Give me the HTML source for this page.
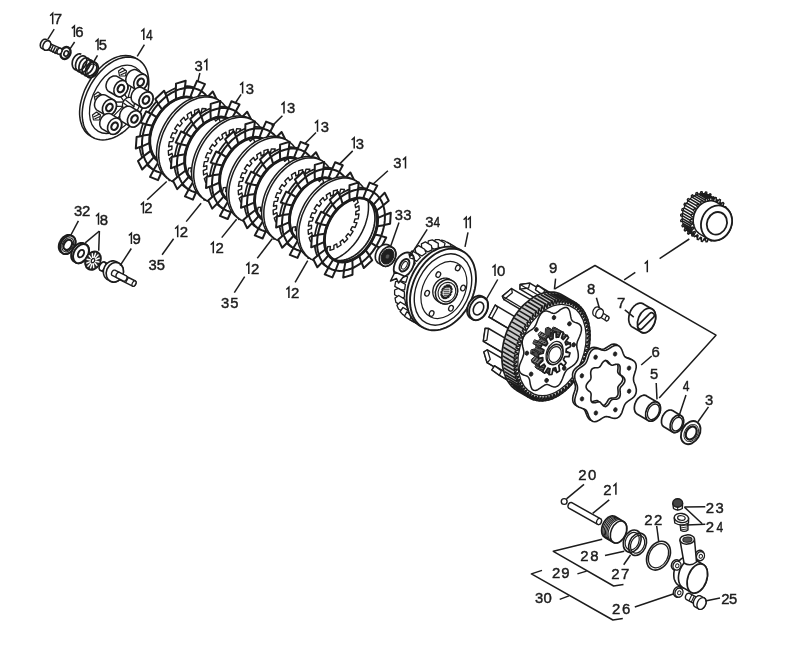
<!DOCTYPE html><html><head><meta charset="utf-8"><style>html,body{margin:0;padding:0;background:#fff;}svg{display:block;filter:grayscale(100%);}</style></head><body><svg width="785" height="670" viewBox="0 0 785 670">
<rect width="785" height="670" fill="#fff"/>
<path d="M202.0,144.6 L203.9,141.1 L205.6,137.5 L207.0,133.8 L208.2,130.0 L209.2,126.3 L209.9,122.6 L210.3,118.9 L210.5,115.4 L210.3,111.9 L209.9,108.5 L209.3,105.3 L208.4,102.3 L207.2,99.5 L205.8,96.9 L204.1,94.5 L202.3,92.5 L200.2,90.7 L197.9,89.1 L195.5,87.9 L192.9,87.0 L190.1,86.4 L187.3,86.2 L184.3,86.3 L181.3,86.7 L178.2,87.4 L175.1,88.4 L172.0,89.7 L168.9,91.4 L165.9,93.3 L163.0,95.5 L160.1,98.0 L157.3,100.7 L154.7,103.6 L152.2,106.7 L149.9,109.9 L147.8,113.3 L145.9,116.9 L144.2,120.5 L142.8,124.2 L141.6,127.9 L140.6,131.6 L140.0,135.3 L139.5,139.0 L139.4,142.6 L139.5,146.1 L139.9,149.4 L140.5,152.6 L141.5,155.7 L142.6,158.5 L144.0,161.1 L145.7,163.4 L147.6,165.5 L149.6,167.3 L151.9,168.8 L154.4,170.0 L157.0,170.9 L159.7,171.5 L162.6,171.8 L165.5,171.7 L168.5,171.3 L171.6,170.6 L174.7,169.5 L177.8,168.2 L180.9,166.6 L183.9,164.6 L186.9,162.4 L189.7,160.0 L192.5,157.3 L195.1,154.4 L197.6,151.3 L199.9,148.0ZM196.1,141.2 L197.6,138.5 L198.9,135.6 L200.1,132.7 L201.0,129.8 L201.7,126.9 L202.3,124.0 L202.6,121.1 L202.7,118.3 L202.6,115.6 L202.3,113.0 L201.8,110.5 L201.1,108.1 L200.2,105.9 L199.1,103.9 L197.8,102.0 L196.3,100.4 L194.7,99.0 L192.9,97.8 L191.0,96.9 L189.0,96.1 L186.8,95.7 L184.6,95.5 L182.3,95.5 L179.9,95.9 L177.5,96.4 L175.1,97.2 L172.7,98.3 L170.2,99.6 L167.9,101.1 L165.6,102.8 L163.3,104.7 L161.2,106.8 L159.1,109.1 L157.2,111.5 L155.4,114.1 L153.7,116.7 L152.2,119.5 L150.9,122.3 L149.8,125.2 L148.8,128.1 L148.1,131.1 L147.6,134.0 L147.2,136.8 L147.1,139.6 L147.2,142.4 L147.5,145.0 L148.0,147.5 L148.7,149.9 L149.6,152.1 L150.8,154.1 L152.0,155.9 L153.5,157.6 L155.1,159.0 L156.9,160.2 L158.8,161.1 L160.9,161.8 L163.0,162.3 L165.3,162.5 L167.6,162.4 L169.9,162.1 L172.3,161.5 L174.8,160.7 L177.2,159.7 L179.6,158.4 L182.0,156.9 L184.3,155.2 L186.5,153.2 L188.7,151.1 L190.7,148.9 L192.7,146.4 L194.5,143.9Z" fill="#fff" stroke="#1c1c1c" stroke-width="1.7" stroke-linejoin="round" fill-rule="evenodd"/><path d="M202.7,146.6 L208.8,149.7 L214.4,138.4 L207.7,136.4Z" fill="#fff" stroke="#1c1c1c" stroke-width="2.0" stroke-linejoin="round" /><path d="M210.7,125.6 L218.4,123.9 L219.2,112.5 L211.4,115.3Z" fill="#fff" stroke="#1c1c1c" stroke-width="2.0" stroke-linejoin="round" /><path d="M209.8,106.0 L217.0,99.9 L212.8,91.5 L206.1,98.4Z" fill="#fff" stroke="#1c1c1c" stroke-width="2.0" stroke-linejoin="round" /><path d="M200.3,92.9 L205.0,84.1 L197.0,80.9 L193.0,90.0Z" fill="#fff" stroke="#1c1c1c" stroke-width="2.0" stroke-linejoin="round" /><path d="M184.6,89.9 L185.7,80.7 L176.0,83.6 L175.8,92.5Z" fill="#fff" stroke="#1c1c1c" stroke-width="2.0" stroke-linejoin="round" /><path d="M167.0,97.7 L164.1,90.7 L155.3,98.9 L159.1,105.2Z" fill="#fff" stroke="#1c1c1c" stroke-width="2.0" stroke-linejoin="round" /><path d="M152.3,114.4 L146.2,111.3 L140.6,122.6 L147.3,124.6Z" fill="#fff" stroke="#1c1c1c" stroke-width="2.0" stroke-linejoin="round" /><path d="M144.3,135.4 L136.6,137.1 L135.8,148.5 L143.6,145.7Z" fill="#fff" stroke="#1c1c1c" stroke-width="2.0" stroke-linejoin="round" /><path d="M145.2,155.0 L138.0,161.1 L142.2,169.5 L148.9,162.6Z" fill="#fff" stroke="#1c1c1c" stroke-width="2.0" stroke-linejoin="round" /><path d="M154.7,168.1 L150.0,176.9 L158.0,180.1 L162.0,171.0Z" fill="#fff" stroke="#1c1c1c" stroke-width="2.0" stroke-linejoin="round" /><path d="M170.4,171.1 L169.3,180.3 L179.0,177.4 L179.2,168.5Z" fill="#fff" stroke="#1c1c1c" stroke-width="2.0" stroke-linejoin="round" /><path d="M188.0,163.3 L190.9,170.3 L199.7,162.1 L195.9,155.8Z" fill="#fff" stroke="#1c1c1c" stroke-width="2.0" stroke-linejoin="round" /><path d="M204.6,146.1 L206.5,142.6 L208.2,139.0 L209.6,135.3 L210.8,131.6 L211.8,127.8 L212.5,124.1 L212.9,120.5 L213.0,116.9 L212.9,113.4 L212.5,110.0 L211.9,106.8 L211.0,103.8 L209.8,101.0 L208.4,98.4 L206.7,96.1 L204.9,94.0 L202.8,92.2 L200.5,90.7 L198.1,89.5 L195.4,88.6 L192.7,88.0 L189.8,87.7 L186.9,87.8 L183.9,88.2 L180.8,88.9 L177.7,89.9 L174.6,91.3 L171.5,92.9 L168.5,94.8 L165.5,97.0 L162.7,99.5 L159.9,102.2 L157.3,105.1 L154.8,108.2 L152.5,111.4 L150.4,114.9 L148.5,118.4 L146.8,122.0 L145.4,125.7 L144.2,129.4 L143.2,133.2 L142.5,136.9 L142.1,140.5 L142.0,144.1 L142.1,147.6 L142.5,151.0 L143.1,154.2 L144.0,157.2 L145.2,160.0 L146.6,162.6 L148.3,164.9 L150.1,167.0 L152.2,168.8 L154.5,170.3 L156.9,171.5 L159.6,172.4 L162.3,173.0 L165.2,173.3 L168.1,173.2 L171.1,172.8 L174.2,172.1 L177.3,171.1 L180.4,169.7 L183.5,168.1 L186.5,166.2 L189.5,164.0 L192.3,161.5 L195.1,158.8 L197.7,155.9 L200.2,152.8 L202.5,149.6ZM198.7,142.7 L200.2,140.0 L201.5,137.1 L202.6,134.3 L203.6,131.3 L204.3,128.4 L204.9,125.5 L205.2,122.6 L205.3,119.8 L205.2,117.1 L204.9,114.5 L204.4,112.0 L203.7,109.6 L202.8,107.4 L201.7,105.4 L200.4,103.6 L198.9,101.9 L197.3,100.5 L195.5,99.3 L193.6,98.4 L191.5,97.7 L189.4,97.2 L187.2,97.0 L184.9,97.1 L182.5,97.4 L180.1,97.9 L177.7,98.7 L175.2,99.8 L172.8,101.1 L170.5,102.6 L168.1,104.3 L165.9,106.2 L163.7,108.3 L161.7,110.6 L159.7,113.0 L157.9,115.6 L156.3,118.3 L154.8,121.0 L153.5,123.9 L152.4,126.7 L151.4,129.7 L150.7,132.6 L150.1,135.5 L149.8,138.4 L149.7,141.2 L149.8,143.9 L150.1,146.5 L150.6,149.0 L151.3,151.4 L152.2,153.6 L153.3,155.6 L154.6,157.4 L156.1,159.1 L157.7,160.5 L159.5,161.7 L161.4,162.6 L163.5,163.3 L165.6,163.8 L167.8,164.0 L170.1,163.9 L172.5,163.6 L174.9,163.1 L177.3,162.3 L179.8,161.2 L182.2,159.9 L184.5,158.4 L186.9,156.7 L189.1,154.8 L191.3,152.7 L193.3,150.4 L195.3,148.0 L197.1,145.4Z" fill="#fff" stroke="#1c1c1c" stroke-width="2.0" stroke-linejoin="round" fill-rule="evenodd"/><path d="M198.1,143.7 L203.9,147.4 M202.3,135.3 L209.1,136.6 M204.7,126.5 L212.2,125.4 M205.3,118.1 L213.0,114.6 M204.0,110.4 L211.3,104.9 M200.9,104.2 L207.3,96.9 M196.1,99.7 L201.3,91.2 M190.2,97.3 L193.7,88.1 M183.3,97.2 L185.0,88.0 M176.1,99.4 L175.7,90.8 M169.0,103.7 L166.6,96.2 M162.4,109.8 L158.2,104.0 M156.9,117.3 L151.1,113.6 M152.7,125.7 L145.9,124.4 M150.3,134.5 L142.8,135.6 M149.7,142.9 L142.0,146.4 M151.0,150.6 L143.7,156.1 M154.1,156.8 L147.7,164.1 M158.9,161.3 L153.7,169.8 M164.8,163.7 L161.3,172.9 M171.7,163.8 L170.0,173.0 M178.9,161.6 L179.3,170.2 M186.0,157.3 L188.4,164.8 M192.6,151.2 L196.8,157.0 " fill="none" stroke="#1c1c1c" stroke-width="2.0" stroke-linejoin="round" /><ellipse cx="177.5" cy="130.5" rx="24.5" ry="36.0" transform="rotate(30 177.5 130.5)" fill="none" stroke="#1c1c1c" stroke-width="2.9" /><path d="M220.3,155.1 L222.2,151.5 L223.9,147.8 L225.4,144.1 L226.6,140.3 L227.6,136.5 L228.3,132.7 L228.7,129.0 L228.8,125.3 L228.7,121.8 L228.3,118.4 L227.7,115.1 L226.7,112.0 L225.5,109.2 L224.1,106.5 L222.4,104.2 L220.5,102.0 L218.4,100.2 L216.1,98.7 L213.6,97.4 L211.0,96.5 L208.2,95.9 L205.3,95.7 L202.3,95.7 L199.2,96.1 L196.1,96.9 L192.9,97.9 L189.8,99.3 L186.6,100.9 L183.5,102.9 L180.5,105.1 L177.6,107.6 L174.8,110.4 L172.1,113.3 L169.6,116.5 L167.3,119.8 L165.1,123.3 L163.2,126.9 L161.5,130.5 L160.0,134.3 L158.8,138.1 L157.8,141.9 L157.1,145.7 L156.7,149.4 L156.5,153.0 L156.7,156.6 L157.1,160.0 L157.7,163.2 L158.7,166.3 L159.8,169.2 L161.3,171.8 L163.0,174.2 L164.9,176.3 L167.0,178.2 L169.3,179.7 L171.8,180.9 L174.4,181.9 L177.2,182.4 L180.1,182.7 L183.1,182.6 L186.2,182.2 L189.3,181.5 L192.5,180.4 L195.6,179.1 L198.8,177.4 L201.9,175.5 L204.9,173.2 L207.8,170.7 L210.6,168.0 L213.3,165.0 L215.8,161.9 L218.1,158.6Z" fill="#fff" stroke="#1c1c1c" stroke-width="1.5" stroke-linejoin="round" /><path d="M222.4,156.4 L224.3,152.8 L226.1,149.1 L227.5,145.3 L228.7,141.5 L229.7,137.7 L230.4,134.0 L230.8,130.2 L231.0,126.6 L230.9,123.0 L230.5,119.6 L229.8,116.4 L228.9,113.3 L227.7,110.4 L226.3,107.8 L224.6,105.4 L222.7,103.3 L220.6,101.5 L218.2,99.9 L215.8,98.7 L213.1,97.8 L210.3,97.2 L207.4,96.9 L204.4,97.0 L201.3,97.4 L198.2,98.1 L195.1,99.2 L191.9,100.5 L188.8,102.2 L185.7,104.2 L182.7,106.4 L179.8,108.9 L177.0,111.6 L174.3,114.6 L171.8,117.7 L169.4,121.1 L167.3,124.5 L165.4,128.1 L163.6,131.8 L162.2,135.6 L161.0,139.4 L160.0,143.2 L159.3,146.9 L158.9,150.7 L158.7,154.3 L158.8,157.9 L159.2,161.3 L159.9,164.5 L160.8,167.6 L162.0,170.5 L163.4,173.1 L165.1,175.5 L167.0,177.6 L169.1,179.4 L171.5,181.0 L173.9,182.2 L176.6,183.1 L179.4,183.7 L182.3,184.0 L185.3,183.9 L188.4,183.5 L191.5,182.8 L194.6,181.7 L197.8,180.4 L200.9,178.7 L204.0,176.7 L207.0,174.5 L209.9,172.0 L212.7,169.3 L215.4,166.3 L217.9,163.2 L220.3,159.8Z" fill="#fff" stroke="#1c1c1c" stroke-width="1.5" stroke-linejoin="round" /><path d="M212.4,150.6 L214.2,147.2 L217.1,148.2 L219.1,143.3 L215.9,142.9 L217.0,139.3 L220.3,139.2 L221.1,134.2 L217.7,135.0 L217.9,131.6 L221.4,130.2 L221.1,125.6 L217.7,127.6 L217.0,124.5 L220.3,122.1 L218.9,118.2 L215.7,121.1 L214.3,118.7 L217.2,115.5 L214.7,112.7 L212.1,116.3 L210.0,114.7 L212.3,110.9 L209.0,109.3 L207.1,113.4 L204.5,112.8 L206.0,108.7 L202.1,108.5 L201.1,112.7 L198.2,113.1 L198.7,109.0 L194.6,110.3 L194.6,114.3 L191.7,115.7 L191.2,111.9 L187.1,114.5 L188.1,117.9 L185.4,120.2 L183.9,117.2 L180.3,120.9 L182.2,123.4 L179.8,126.4 L177.6,124.3 L174.6,128.8 L177.3,130.3 L175.5,133.7 L172.6,132.7 L170.6,137.6 L173.8,138.0 L172.7,141.6 L169.4,141.7 L168.6,146.7 L172.0,145.9 L171.8,149.3 L168.3,150.7 L168.6,155.3 L172.0,153.3 L172.7,156.4 L169.4,158.8 L170.8,162.7 L174.0,159.8 L175.4,162.2 L172.5,165.4 L175.0,168.2 L177.6,164.6 L179.7,166.2 L177.4,170.0 L180.7,171.6 L182.6,167.5 L185.2,168.1 L183.7,172.2 L187.6,172.4 L188.6,168.2 L191.5,167.8 L191.0,171.9 L195.1,170.6 L195.1,166.6 L198.0,165.2 L198.5,169.0 L202.6,166.4 L201.6,163.0 L204.3,160.7 L205.8,163.7 L209.4,160.0 L207.5,157.5 L209.9,154.5 L212.1,156.6 L215.1,152.1Z" fill="none" stroke="#1c1c1c" stroke-width="1.4" stroke-linejoin="round" /><path d="M236.5,164.4 L238.3,160.9 L240.0,157.3 L241.4,153.6 L242.6,149.9 L243.6,146.2 L244.3,142.6 L244.7,138.9 L244.8,135.4 L244.7,131.9 L244.3,128.6 L243.7,125.4 L242.8,122.4 L241.6,119.6 L240.2,117.1 L238.6,114.8 L236.7,112.7 L234.7,110.9 L232.4,109.4 L230.0,108.2 L227.4,107.3 L224.7,106.7 L221.9,106.5 L218.9,106.5 L215.9,106.9 L212.9,107.6 L209.8,108.7 L206.8,110.0 L203.7,111.6 L200.7,113.5 L197.8,115.7 L194.9,118.1 L192.2,120.8 L189.6,123.7 L187.1,126.8 L184.9,130.0 L182.8,133.4 L180.9,136.9 L179.2,140.5 L177.8,144.1 L176.6,147.8 L175.7,151.5 L175.0,155.2 L174.6,158.8 L174.4,162.4 L174.5,165.8 L174.9,169.2 L175.5,172.3 L176.5,175.3 L177.6,178.1 L179.0,180.7 L180.7,183.0 L182.5,185.1 L184.6,186.9 L186.8,188.4 L189.3,189.6 L191.8,190.4 L194.5,191.0 L197.4,191.3 L200.3,191.2 L203.3,190.8 L206.3,190.1 L209.4,189.1 L212.5,187.8 L215.5,186.1 L218.5,184.2 L221.5,182.0 L224.3,179.6 L227.0,176.9 L229.6,174.1 L232.1,171.0 L234.4,167.8ZM230.6,161.0 L232.1,158.3 L233.4,155.5 L234.5,152.6 L235.5,149.7 L236.2,146.8 L236.7,143.9 L237.1,141.1 L237.2,138.3 L237.1,135.6 L236.8,133.0 L236.3,130.5 L235.6,128.2 L234.7,126.0 L233.6,124.0 L232.3,122.2 L230.8,120.6 L229.2,119.2 L227.5,118.0 L225.6,117.0 L223.5,116.3 L221.4,115.9 L219.2,115.7 L216.9,115.7 L214.6,116.1 L212.2,116.6 L209.8,117.4 L207.4,118.5 L205.0,119.7 L202.6,121.2 L200.3,122.9 L198.1,124.8 L196.0,126.9 L193.9,129.2 L192.0,131.6 L190.2,134.1 L188.6,136.7 L187.1,139.5 L185.8,142.3 L184.7,145.2 L183.8,148.0 L183.0,150.9 L182.5,153.8 L182.2,156.7 L182.1,159.4 L182.1,162.1 L182.4,164.7 L183.0,167.2 L183.7,169.6 L184.6,171.8 L185.7,173.8 L186.9,175.6 L188.4,177.2 L190.0,178.6 L191.8,179.8 L193.7,180.7 L195.7,181.4 L197.8,181.9 L200.0,182.1 L202.3,182.0 L204.7,181.7 L207.1,181.1 L209.5,180.3 L211.9,179.3 L214.2,178.0 L216.6,176.5 L218.9,174.8 L221.1,172.9 L223.3,170.8 L225.3,168.6 L227.2,166.2 L229.0,163.7Z" fill="#fff" stroke="#1c1c1c" stroke-width="1.7" stroke-linejoin="round" fill-rule="evenodd"/><path d="M237.2,166.3 L243.3,169.4 L248.7,158.2 L242.2,156.2Z" fill="#fff" stroke="#1c1c1c" stroke-width="2.0" stroke-linejoin="round" /><path d="M245.1,145.6 L252.7,143.8 L253.5,132.6 L245.8,135.4Z" fill="#fff" stroke="#1c1c1c" stroke-width="2.0" stroke-linejoin="round" /><path d="M244.2,126.1 L251.4,120.0 L247.2,111.7 L240.5,118.6Z" fill="#fff" stroke="#1c1c1c" stroke-width="2.0" stroke-linejoin="round" /><path d="M234.8,113.1 L239.5,104.4 L231.5,101.2 L227.6,110.3Z" fill="#fff" stroke="#1c1c1c" stroke-width="2.0" stroke-linejoin="round" /><path d="M219.2,110.1 L220.3,101.0 L210.7,103.9 L210.5,112.7Z" fill="#fff" stroke="#1c1c1c" stroke-width="2.0" stroke-linejoin="round" /><path d="M201.8,117.9 L199.0,110.9 L190.2,119.1 L193.9,125.3Z" fill="#fff" stroke="#1c1c1c" stroke-width="2.0" stroke-linejoin="round" /><path d="M187.2,134.5 L181.1,131.4 L175.7,142.6 L182.2,144.6Z" fill="#fff" stroke="#1c1c1c" stroke-width="2.0" stroke-linejoin="round" /><path d="M179.3,155.2 L171.7,157.0 L170.9,168.2 L178.6,165.4Z" fill="#fff" stroke="#1c1c1c" stroke-width="2.0" stroke-linejoin="round" /><path d="M180.2,174.7 L173.0,180.8 L177.2,189.1 L183.9,182.2Z" fill="#fff" stroke="#1c1c1c" stroke-width="2.0" stroke-linejoin="round" /><path d="M189.6,187.7 L184.9,196.4 L192.9,199.6 L196.8,190.5Z" fill="#fff" stroke="#1c1c1c" stroke-width="2.0" stroke-linejoin="round" /><path d="M205.2,190.7 L204.1,199.8 L213.7,196.9 L213.9,188.1Z" fill="#fff" stroke="#1c1c1c" stroke-width="2.0" stroke-linejoin="round" /><path d="M222.6,182.9 L225.4,189.9 L234.2,181.7 L230.5,175.5Z" fill="#fff" stroke="#1c1c1c" stroke-width="2.0" stroke-linejoin="round" /><path d="M239.0,165.9 L240.9,162.4 L242.6,158.8 L244.0,155.2 L245.2,151.5 L246.2,147.8 L246.8,144.1 L247.3,140.5 L247.4,136.9 L247.3,133.4 L246.9,130.1 L246.3,127.0 L245.4,124.0 L244.2,121.2 L242.8,118.6 L241.2,116.3 L239.3,114.2 L237.2,112.4 L235.0,110.9 L232.6,109.7 L230.0,108.8 L227.3,108.3 L224.4,108.0 L221.5,108.1 L218.5,108.5 L215.5,109.2 L212.4,110.2 L209.3,111.5 L206.3,113.2 L203.3,115.1 L200.3,117.2 L197.5,119.7 L194.8,122.3 L192.2,125.2 L189.7,128.3 L187.4,131.5 L185.4,134.9 L183.5,138.4 L181.8,142.0 L180.4,145.6 L179.2,149.3 L178.2,153.0 L177.6,156.7 L177.1,160.3 L177.0,163.9 L177.1,167.4 L177.5,170.7 L178.1,173.8 L179.0,176.8 L180.2,179.6 L181.6,182.2 L183.2,184.5 L185.1,186.6 L187.2,188.4 L189.4,189.9 L191.8,191.1 L194.4,192.0 L197.1,192.5 L200.0,192.8 L202.9,192.7 L205.9,192.3 L208.9,191.6 L212.0,190.6 L215.1,189.3 L218.1,187.6 L221.1,185.7 L224.1,183.6 L226.9,181.1 L229.6,178.5 L232.2,175.6 L234.7,172.5 L237.0,169.3ZM233.2,162.5 L234.7,159.8 L236.0,157.0 L237.1,154.1 L238.0,151.2 L238.8,148.3 L239.3,145.5 L239.6,142.6 L239.8,139.8 L239.7,137.1 L239.4,134.5 L238.9,132.0 L238.2,129.7 L237.2,127.5 L236.1,125.5 L234.9,123.7 L233.4,122.1 L231.8,120.7 L230.0,119.5 L228.1,118.6 L226.1,117.9 L224.0,117.4 L221.8,117.2 L219.5,117.3 L217.1,117.6 L214.8,118.1 L212.4,118.9 L210.0,120.0 L207.6,121.2 L205.2,122.7 L202.9,124.4 L200.7,126.3 L198.6,128.4 L196.5,130.7 L194.6,133.1 L192.8,135.6 L191.2,138.3 L189.7,141.0 L188.4,143.8 L187.3,146.7 L186.4,149.6 L185.6,152.5 L185.1,155.3 L184.8,158.2 L184.6,161.0 L184.7,163.7 L185.0,166.3 L185.5,168.8 L186.2,171.1 L187.2,173.3 L188.3,175.3 L189.5,177.1 L191.0,178.7 L192.6,180.1 L194.4,181.3 L196.3,182.2 L198.3,182.9 L200.4,183.4 L202.6,183.6 L204.9,183.5 L207.3,183.2 L209.6,182.7 L212.0,181.9 L214.4,180.8 L216.8,179.6 L219.2,178.1 L221.5,176.4 L223.7,174.5 L225.8,172.4 L227.9,170.1 L229.8,167.7 L231.6,165.2Z" fill="#fff" stroke="#1c1c1c" stroke-width="2.0" stroke-linejoin="round" fill-rule="evenodd"/><path d="M232.6,163.5 L238.3,167.1 M236.7,155.1 L243.5,156.5 M239.1,146.5 L246.6,145.4 M239.7,138.1 L247.4,134.7 M238.4,130.5 L245.7,125.0 M235.3,124.3 L241.8,117.1 M230.7,119.9 L235.8,111.4 M224.8,117.5 L228.2,108.4 M218.0,117.4 L219.6,108.3 M210.8,119.6 L210.4,111.0 M203.7,123.8 L201.4,116.4 M197.2,129.9 L193.1,124.2 M191.8,137.3 L186.1,133.7 M187.7,145.7 L180.9,144.3 M185.3,154.3 L177.8,155.4 M184.7,162.7 L177.0,166.1 M186.0,170.3 L178.7,175.8 M189.1,176.5 L182.6,183.7 M193.7,180.9 L188.6,189.4 M199.6,183.3 L196.2,192.4 M206.4,183.4 L204.8,192.5 M213.6,181.2 L214.0,189.8 M220.7,177.0 L223.0,184.4 M227.2,170.9 L231.3,176.6 " fill="none" stroke="#1c1c1c" stroke-width="2.0" stroke-linejoin="round" /><ellipse cx="212.2" cy="150.4" rx="24.3" ry="35.7" transform="rotate(30 212.2 150.4)" fill="none" stroke="#1c1c1c" stroke-width="2.9" /><path d="M254.7,174.8 L256.6,171.3 L258.3,167.6 L259.8,163.9 L261.0,160.2 L262.0,156.4 L262.6,152.7 L263.1,149.0 L263.2,145.3 L263.1,141.8 L262.7,138.4 L262.1,135.2 L261.1,132.2 L260.0,129.3 L258.5,126.7 L256.9,124.4 L255.0,122.3 L252.9,120.4 L250.6,118.9 L248.1,117.7 L245.5,116.8 L242.7,116.2 L239.8,115.9 L236.9,116.0 L233.8,116.4 L230.7,117.1 L227.6,118.2 L224.5,119.5 L221.4,121.2 L218.3,123.1 L215.3,125.3 L212.4,127.8 L209.7,130.5 L207.0,133.5 L204.5,136.6 L202.2,139.9 L200.1,143.3 L198.2,146.9 L196.5,150.5 L195.0,154.2 L193.8,158.0 L192.8,161.8 L192.1,165.5 L191.7,169.2 L191.6,172.8 L191.7,176.3 L192.1,179.7 L192.7,182.9 L193.7,186.0 L194.8,188.8 L196.3,191.4 L197.9,193.8 L199.8,195.9 L201.9,197.7 L204.2,199.2 L206.7,200.5 L209.3,201.4 L212.1,202.0 L214.9,202.2 L217.9,202.1 L221.0,201.7 L224.1,201.0 L227.2,200.0 L230.3,198.6 L233.4,197.0 L236.5,195.0 L239.5,192.8 L242.4,190.3 L245.1,187.6 L247.8,184.7 L250.3,181.6 L252.6,178.3Z" fill="#fff" stroke="#1c1c1c" stroke-width="1.5" stroke-linejoin="round" /><path d="M256.9,176.1 L258.8,172.6 L260.5,168.9 L261.9,165.2 L263.1,161.4 L264.1,157.7 L264.8,153.9 L265.2,150.2 L265.4,146.6 L265.3,143.1 L264.9,139.7 L264.2,136.5 L263.3,133.5 L262.1,130.6 L260.7,128.0 L259.0,125.6 L257.1,123.5 L255.0,121.7 L252.7,120.2 L250.3,119.0 L247.6,118.1 L244.9,117.5 L242.0,117.2 L239.0,117.3 L236.0,117.7 L232.9,118.4 L229.8,119.4 L226.6,120.8 L223.5,122.5 L220.5,124.4 L217.5,126.6 L214.6,129.1 L211.8,131.8 L209.2,134.7 L206.7,137.8 L204.4,141.1 L202.2,144.6 L200.3,148.1 L198.6,151.8 L197.2,155.5 L196.0,159.3 L195.0,163.0 L194.3,166.8 L193.9,170.5 L193.7,174.1 L193.8,177.6 L194.2,181.0 L194.9,184.2 L195.8,187.2 L197.0,190.1 L198.4,192.7 L200.1,195.1 L202.0,197.2 L204.1,199.0 L206.4,200.5 L208.8,201.7 L211.5,202.6 L214.2,203.2 L217.1,203.5 L220.1,203.4 L223.1,203.0 L226.2,202.3 L229.3,201.3 L232.5,199.9 L235.6,198.2 L238.6,196.3 L241.6,194.1 L244.5,191.6 L247.3,188.9 L249.9,186.0 L252.4,182.9 L254.7,179.6Z" fill="#fff" stroke="#1c1c1c" stroke-width="1.5" stroke-linejoin="round" /><path d="M247.0,170.4 L248.7,167.0 L251.6,168.0 L253.6,163.1 L250.4,162.8 L251.5,159.2 L254.7,159.1 L255.6,154.1 L252.2,155.0 L252.4,151.5 L255.8,150.2 L255.5,145.7 L252.1,147.6 L251.5,144.5 L254.8,142.2 L253.4,138.3 L250.3,141.2 L248.8,138.8 L251.7,135.6 L249.2,132.8 L246.7,136.4 L244.6,134.9 L246.9,131.0 L243.5,129.5 L241.7,133.5 L239.1,133.0 L240.6,128.9 L236.7,128.7 L235.8,132.9 L232.9,133.3 L233.4,129.2 L229.3,130.5 L229.3,134.4 L226.4,135.8 L225.9,132.1 L221.9,134.7 L222.9,138.0 L220.1,140.3 L218.7,137.3 L215.1,140.9 L217.0,143.5 L214.7,146.4 L212.4,144.3 L209.5,148.8 L212.1,150.3 L210.4,153.7 L207.5,152.7 L205.5,157.6 L208.7,157.9 L207.6,161.5 L204.4,161.6 L203.5,166.6 L206.9,165.7 L206.7,169.2 L203.3,170.5 L203.6,175.0 L207.0,173.1 L207.6,176.2 L204.3,178.5 L205.7,182.4 L208.8,179.5 L210.3,181.9 L207.4,185.1 L209.9,187.9 L212.4,184.3 L214.5,185.8 L212.2,189.7 L215.6,191.2 L217.4,187.2 L220.0,187.7 L218.5,191.8 L222.4,192.0 L223.3,187.8 L226.2,187.4 L225.7,191.5 L229.8,190.2 L229.8,186.3 L232.7,184.9 L233.2,188.6 L237.2,186.0 L236.2,182.7 L239.0,180.4 L240.4,183.4 L244.0,179.8 L242.1,177.2 L244.4,174.3 L246.7,176.4 L249.6,171.9Z" fill="none" stroke="#1c1c1c" stroke-width="1.4" stroke-linejoin="round" /><path d="M270.9,184.1 L272.8,180.7 L274.4,177.1 L275.9,173.5 L277.0,169.8 L278.0,166.2 L278.6,162.5 L279.1,158.9 L279.2,155.4 L279.1,152.0 L278.7,148.7 L278.1,145.5 L277.2,142.6 L276.0,139.8 L274.6,137.3 L273.0,135.0 L271.2,132.9 L269.1,131.1 L266.9,129.7 L264.5,128.5 L261.9,127.6 L259.2,127.0 L256.4,126.8 L253.5,126.8 L250.6,127.2 L247.6,127.9 L244.5,128.9 L241.5,130.3 L238.5,131.9 L235.5,133.8 L232.6,135.9 L229.8,138.3 L227.0,141.0 L224.5,143.8 L222.0,146.9 L219.8,150.1 L217.7,153.4 L215.8,156.9 L214.2,160.4 L212.8,164.1 L211.6,167.7 L210.7,171.4 L210.0,175.0 L209.6,178.6 L209.4,182.2 L209.5,185.6 L209.9,188.9 L210.6,192.0 L211.5,195.0 L212.6,197.7 L214.0,200.3 L215.6,202.6 L217.5,204.6 L219.5,206.4 L221.7,207.9 L224.1,209.1 L226.7,210.0 L229.4,210.5 L232.2,210.8 L235.1,210.7 L238.1,210.3 L241.1,209.6 L244.1,208.6 L247.2,207.3 L250.2,205.7 L253.2,203.8 L256.1,201.6 L258.9,199.2 L261.6,196.6 L264.2,193.7 L266.6,190.7 L268.8,187.5ZM265.1,180.8 L266.6,178.1 L267.9,175.3 L269.0,172.5 L269.9,169.6 L270.7,166.7 L271.2,163.9 L271.5,161.1 L271.6,158.3 L271.5,155.6 L271.2,153.0 L270.7,150.6 L270.0,148.3 L269.1,146.1 L268.0,144.1 L266.8,142.3 L265.3,140.7 L263.7,139.3 L262.0,138.2 L260.1,137.2 L258.1,136.5 L256.0,136.1 L253.8,135.9 L251.5,135.9 L249.2,136.3 L246.9,136.8 L244.5,137.6 L242.1,138.6 L239.7,139.9 L237.4,141.4 L235.1,143.1 L232.9,144.9 L230.8,147.0 L228.8,149.2 L226.9,151.6 L225.1,154.1 L223.5,156.8 L222.0,159.5 L220.7,162.3 L219.6,165.1 L218.7,168.0 L218.0,170.8 L217.4,173.7 L217.1,176.5 L217.0,179.2 L217.1,181.9 L217.4,184.5 L217.9,187.0 L218.6,189.3 L219.5,191.4 L220.6,193.4 L221.9,195.2 L223.3,196.8 L224.9,198.2 L226.6,199.4 L228.5,200.3 L230.5,201.0 L232.6,201.5 L234.8,201.7 L237.1,201.6 L239.4,201.3 L241.8,200.7 L244.2,200.0 L246.5,198.9 L248.9,197.7 L251.2,196.2 L253.5,194.5 L255.7,192.6 L257.8,190.5 L259.9,188.3 L261.8,185.9 L263.5,183.4Z" fill="#fff" stroke="#1c1c1c" stroke-width="1.7" stroke-linejoin="round" fill-rule="evenodd"/><path d="M271.7,186.1 L277.7,189.1 L283.1,178.0 L276.6,176.1Z" fill="#fff" stroke="#1c1c1c" stroke-width="2.0" stroke-linejoin="round" /><path d="M279.5,165.5 L287.1,163.8 L287.8,152.6 L280.2,155.4Z" fill="#fff" stroke="#1c1c1c" stroke-width="2.0" stroke-linejoin="round" /><path d="M278.6,146.2 L285.7,140.2 L281.6,132.0 L274.9,138.8Z" fill="#fff" stroke="#1c1c1c" stroke-width="2.0" stroke-linejoin="round" /><path d="M269.2,133.4 L273.9,124.7 L266.1,121.6 L262.1,130.6Z" fill="#fff" stroke="#1c1c1c" stroke-width="2.0" stroke-linejoin="round" /><path d="M253.9,130.4 L254.9,121.4 L245.4,124.2 L245.2,133.0Z" fill="#fff" stroke="#1c1c1c" stroke-width="2.0" stroke-linejoin="round" /><path d="M236.6,138.2 L233.8,131.2 L225.1,139.3 L228.8,145.4Z" fill="#fff" stroke="#1c1c1c" stroke-width="2.0" stroke-linejoin="round" /><path d="M222.1,154.5 L216.1,151.5 L210.7,162.6 L217.2,164.5Z" fill="#fff" stroke="#1c1c1c" stroke-width="2.0" stroke-linejoin="round" /><path d="M214.3,175.1 L206.7,176.8 L206.0,188.0 L213.6,185.2Z" fill="#fff" stroke="#1c1c1c" stroke-width="2.0" stroke-linejoin="round" /><path d="M215.2,194.4 L208.1,200.4 L212.2,208.6 L218.9,201.8Z" fill="#fff" stroke="#1c1c1c" stroke-width="2.0" stroke-linejoin="round" /><path d="M224.6,207.2 L219.9,215.9 L227.7,219.0 L231.7,210.0Z" fill="#fff" stroke="#1c1c1c" stroke-width="2.0" stroke-linejoin="round" /><path d="M239.9,210.2 L238.9,219.2 L248.4,216.4 L248.6,207.6Z" fill="#fff" stroke="#1c1c1c" stroke-width="2.0" stroke-linejoin="round" /><path d="M257.2,202.4 L260.0,209.4 L268.7,201.3 L265.0,195.2Z" fill="#fff" stroke="#1c1c1c" stroke-width="2.0" stroke-linejoin="round" /><path d="M273.5,185.7 L275.4,182.2 L277.0,178.6 L278.4,175.0 L279.6,171.4 L280.6,167.7 L281.2,164.0 L281.6,160.4 L281.8,156.9 L281.7,153.5 L281.3,150.2 L280.7,147.1 L279.8,144.1 L278.6,141.3 L277.2,138.8 L275.6,136.5 L273.8,134.4 L271.7,132.7 L269.5,131.2 L267.1,130.0 L264.5,129.1 L261.8,128.5 L259.0,128.3 L256.1,128.4 L253.2,128.7 L250.1,129.4 L247.1,130.5 L244.1,131.8 L241.0,133.4 L238.1,135.3 L235.2,137.4 L232.3,139.8 L229.6,142.5 L227.1,145.3 L224.6,148.4 L222.4,151.6 L220.3,154.9 L218.4,158.4 L216.8,162.0 L215.4,165.6 L214.2,169.2 L213.2,172.9 L212.6,176.6 L212.2,180.2 L212.0,183.7 L212.1,187.1 L212.5,190.4 L213.1,193.5 L214.0,196.5 L215.2,199.3 L216.6,201.8 L218.2,204.1 L220.0,206.2 L222.1,207.9 L224.3,209.4 L226.7,210.6 L229.3,211.5 L232.0,212.1 L234.8,212.3 L237.7,212.2 L240.6,211.9 L243.7,211.2 L246.7,210.1 L249.7,208.8 L252.8,207.2 L255.7,205.3 L258.6,203.2 L261.5,200.8 L264.2,198.1 L266.7,195.3 L269.2,192.2 L271.4,189.0ZM267.7,182.3 L269.2,179.6 L270.5,176.8 L271.6,174.0 L272.5,171.1 L273.2,168.3 L273.8,165.4 L274.1,162.6 L274.2,159.8 L274.1,157.2 L273.8,154.6 L273.3,152.1 L272.6,149.8 L271.7,147.6 L270.6,145.6 L269.4,143.8 L267.9,142.2 L266.3,140.8 L264.6,139.7 L262.7,138.8 L260.7,138.1 L258.6,137.6 L256.4,137.4 L254.1,137.5 L251.8,137.8 L249.4,138.3 L247.1,139.1 L244.7,140.2 L242.3,141.4 L240.0,142.9 L237.7,144.6 L235.5,146.5 L233.4,148.5 L231.4,150.8 L229.5,153.1 L227.7,155.7 L226.1,158.3 L224.6,161.0 L223.3,163.8 L222.2,166.6 L221.3,169.5 L220.6,172.3 L220.0,175.2 L219.7,178.0 L219.6,180.8 L219.7,183.4 L220.0,186.0 L220.5,188.5 L221.2,190.8 L222.1,193.0 L223.2,195.0 L224.4,196.8 L225.9,198.4 L227.5,199.8 L229.2,200.9 L231.1,201.8 L233.1,202.5 L235.2,203.0 L237.4,203.2 L239.7,203.1 L242.0,202.8 L244.4,202.3 L246.7,201.5 L249.1,200.4 L251.5,199.2 L253.8,197.7 L256.1,196.0 L258.3,194.1 L260.4,192.1 L262.4,189.8 L264.3,187.5 L266.1,184.9Z" fill="#fff" stroke="#1c1c1c" stroke-width="2.0" stroke-linejoin="round" fill-rule="evenodd"/><path d="M267.2,183.3 L272.8,186.9 M271.2,175.0 L278.0,176.3 M273.6,166.4 L281.0,165.3 M274.2,158.1 L281.8,154.7 M272.9,150.6 L280.1,145.1 M269.8,144.5 L276.2,137.3 M265.2,140.1 L270.3,131.7 M259.3,137.7 L262.8,128.7 M252.6,137.6 L254.2,128.6 M245.5,139.8 L245.1,131.3 M238.5,144.0 L236.2,136.6 M232.1,150.0 L227.9,144.3 M226.6,157.3 L221.0,153.7 M222.6,165.6 L215.8,164.3 M220.2,174.2 L212.8,175.3 M219.6,182.5 L212.0,185.9 M220.9,190.0 L213.7,195.5 M224.0,196.1 L217.6,203.3 M228.6,200.5 L223.5,208.9 M234.5,202.9 L231.0,211.9 M241.2,203.0 L239.6,212.0 M248.3,200.8 L248.7,209.3 M255.3,196.6 L257.6,204.0 M261.7,190.6 L265.9,196.3 " fill="none" stroke="#1c1c1c" stroke-width="2.0" stroke-linejoin="round" /><ellipse cx="246.9" cy="170.3" rx="24.0" ry="35.4" transform="rotate(30 246.9 170.3)" fill="none" stroke="#1c1c1c" stroke-width="2.9" /><path d="M289.2,194.6 L291.1,191.1 L292.7,187.5 L294.2,183.8 L295.4,180.1 L296.3,176.3 L297.0,172.6 L297.5,168.9 L297.6,165.4 L297.5,161.9 L297.1,158.5 L296.4,155.3 L295.5,152.3 L294.4,149.5 L293.0,146.9 L291.3,144.6 L289.4,142.5 L287.4,140.7 L285.1,139.2 L282.6,138.0 L280.0,137.1 L277.3,136.5 L274.4,136.2 L271.5,136.3 L268.5,136.7 L265.4,137.4 L262.3,138.4 L259.2,139.8 L256.1,141.4 L253.1,143.3 L250.1,145.5 L247.3,148.0 L244.5,150.7 L241.9,153.6 L239.4,156.7 L237.1,159.9 L235.0,163.4 L233.1,166.9 L231.4,170.5 L230.0,174.2 L228.8,177.9 L227.9,181.6 L227.2,185.3 L226.7,189.0 L226.6,192.6 L226.7,196.1 L227.1,199.4 L227.7,202.6 L228.7,205.6 L229.8,208.5 L231.2,211.0 L232.9,213.4 L234.8,215.5 L236.8,217.3 L239.1,218.8 L241.6,220.0 L244.2,220.9 L246.9,221.5 L249.8,221.7 L252.7,221.7 L255.7,221.3 L258.8,220.6 L261.9,219.5 L265.0,218.2 L268.1,216.5 L271.1,214.6 L274.0,212.4 L276.9,210.0 L279.7,207.3 L282.3,204.4 L284.8,201.3 L287.1,198.0Z" fill="#fff" stroke="#1c1c1c" stroke-width="1.5" stroke-linejoin="round" /><path d="M291.3,195.9 L293.2,192.3 L294.9,188.7 L296.3,185.0 L297.5,181.3 L298.5,177.6 L299.2,173.9 L299.6,170.2 L299.8,166.6 L299.6,163.2 L299.3,159.8 L298.6,156.6 L297.7,153.6 L296.5,150.8 L295.1,148.2 L293.5,145.8 L291.6,143.8 L289.5,142.0 L287.2,140.4 L284.8,139.2 L282.2,138.3 L279.4,137.8 L276.6,137.5 L273.6,137.6 L270.6,138.0 L267.6,138.7 L264.5,139.7 L261.4,141.1 L258.3,142.7 L255.3,144.6 L252.3,146.8 L249.4,149.3 L246.7,151.9 L244.1,154.9 L241.6,157.9 L239.3,161.2 L237.2,164.6 L235.3,168.2 L233.6,171.8 L232.2,175.5 L231.0,179.2 L230.0,182.9 L229.3,186.6 L228.9,190.3 L228.7,193.9 L228.9,197.3 L229.2,200.7 L229.9,203.9 L230.8,206.9 L232.0,209.7 L233.4,212.3 L235.0,214.7 L236.9,216.7 L239.0,218.5 L241.3,220.1 L243.7,221.3 L246.3,222.2 L249.1,222.7 L251.9,223.0 L254.9,222.9 L257.9,222.5 L260.9,221.8 L264.0,220.8 L267.1,219.4 L270.2,217.8 L273.2,215.9 L276.2,213.7 L279.1,211.2 L281.8,208.6 L284.4,205.6 L286.9,202.6 L289.2,199.3Z" fill="#fff" stroke="#1c1c1c" stroke-width="1.5" stroke-linejoin="round" /><path d="M281.5,190.2 L283.3,186.9 L286.1,187.9 L288.1,183.0 L285.0,182.7 L286.0,179.2 L289.2,179.0 L290.1,174.1 L286.7,174.9 L286.9,171.5 L290.3,170.2 L290.0,165.7 L286.6,167.6 L286.0,164.6 L289.3,162.2 L287.8,158.4 L284.8,161.3 L283.4,158.9 L286.2,155.7 L283.8,153.0 L281.2,156.5 L279.2,155.0 L281.4,151.2 L278.1,149.7 L276.3,153.7 L273.7,153.1 L275.2,149.0 L271.3,148.9 L270.4,153.0 L267.6,153.4 L268.1,149.4 L264.0,150.7 L264.0,154.5 L261.1,155.9 L260.7,152.3 L256.7,154.8 L257.6,158.1 L254.9,160.4 L253.5,157.4 L249.9,161.0 L251.8,163.5 L249.5,166.4 L247.3,164.4 L244.4,168.8 L247.0,170.3 L245.2,173.6 L242.4,172.6 L240.4,177.5 L243.5,177.8 L242.5,181.3 L239.3,181.5 L238.4,186.4 L241.8,185.6 L241.6,189.0 L238.2,190.3 L238.5,194.8 L241.9,192.9 L242.5,195.9 L239.2,198.3 L240.7,202.1 L243.7,199.2 L245.1,201.6 L242.3,204.8 L244.7,207.5 L247.3,204.0 L249.3,205.5 L247.1,209.3 L250.4,210.8 L252.2,206.8 L254.8,207.4 L253.3,211.5 L257.2,211.6 L258.1,207.5 L260.9,207.1 L260.4,211.1 L264.5,209.8 L264.5,206.0 L267.4,204.6 L267.8,208.2 L271.8,205.7 L270.9,202.4 L273.6,200.1 L275.0,203.1 L278.6,199.5 L276.7,197.0 L279.0,194.1 L281.2,196.1 L284.1,191.7Z" fill="none" stroke="#1c1c1c" stroke-width="1.4" stroke-linejoin="round" /><path d="M305.4,203.9 L307.2,200.5 L308.9,196.9 L310.3,193.3 L311.4,189.7 L312.4,186.1 L313.0,182.5 L313.4,178.9 L313.6,175.4 L313.5,172.0 L313.1,168.8 L312.5,165.7 L311.6,162.7 L310.4,160.0 L309.1,157.5 L307.5,155.2 L305.6,153.1 L303.6,151.4 L301.4,149.9 L299.0,148.7 L296.5,147.9 L293.8,147.3 L291.0,147.0 L288.2,147.1 L285.2,147.5 L282.2,148.2 L279.2,149.2 L276.2,150.5 L273.2,152.1 L270.3,154.0 L267.4,156.1 L264.6,158.5 L261.9,161.1 L259.3,163.9 L256.9,167.0 L254.7,170.1 L252.7,173.5 L250.8,176.9 L249.2,180.4 L247.8,184.0 L246.6,187.6 L245.7,191.3 L245.0,194.9 L244.6,198.4 L244.4,201.9 L244.6,205.3 L244.9,208.6 L245.6,211.7 L246.5,214.6 L247.6,217.4 L249.0,219.9 L250.6,222.2 L252.4,224.2 L254.4,226.0 L256.6,227.4 L259.0,228.6 L261.6,229.5 L264.2,230.1 L267.0,230.3 L269.9,230.2 L272.8,229.9 L275.8,229.2 L278.8,228.2 L281.8,226.8 L284.8,225.2 L287.8,223.4 L290.7,221.2 L293.4,218.8 L296.1,216.2 L298.7,213.4 L301.1,210.4 L303.3,207.2ZM299.6,200.6 L301.1,197.9 L302.4,195.1 L303.5,192.3 L304.4,189.5 L305.1,186.6 L305.6,183.8 L306.0,181.0 L306.1,178.3 L306.0,175.6 L305.7,173.1 L305.2,170.7 L304.5,168.4 L303.6,166.2 L302.5,164.2 L301.3,162.5 L299.8,160.9 L298.3,159.5 L296.5,158.3 L294.7,157.4 L292.7,156.7 L290.6,156.3 L288.4,156.1 L286.2,156.1 L283.9,156.5 L281.5,157.0 L279.2,157.8 L276.8,158.8 L274.5,160.1 L272.2,161.5 L269.9,163.2 L267.7,165.1 L265.6,167.1 L263.6,169.3 L261.7,171.7 L260.0,174.2 L258.4,176.8 L256.9,179.5 L255.7,182.2 L254.6,185.0 L253.6,187.9 L252.9,190.7 L252.4,193.5 L252.1,196.3 L252.0,199.1 L252.0,201.7 L252.3,204.3 L252.8,206.7 L253.5,209.0 L254.4,211.1 L255.5,213.1 L256.8,214.9 L258.2,216.5 L259.8,217.9 L261.5,219.0 L263.4,219.9 L265.4,220.6 L267.4,221.1 L269.6,221.3 L271.9,221.2 L274.2,220.9 L276.5,220.4 L278.9,219.6 L281.2,218.5 L283.6,217.3 L285.9,215.8 L288.1,214.2 L290.3,212.3 L292.4,210.2 L294.4,208.0 L296.3,205.7 L298.0,203.2Z" fill="#fff" stroke="#1c1c1c" stroke-width="1.7" stroke-linejoin="round" fill-rule="evenodd"/><path d="M306.1,205.8 L312.1,208.8 L317.5,197.8 L311.0,195.9Z" fill="#fff" stroke="#1c1c1c" stroke-width="2.0" stroke-linejoin="round" /><path d="M313.9,185.5 L321.4,183.7 L322.2,172.7 L314.6,175.5Z" fill="#fff" stroke="#1c1c1c" stroke-width="2.0" stroke-linejoin="round" /><path d="M313.0,166.3 L320.0,160.4 L316.0,152.2 L309.4,159.0Z" fill="#fff" stroke="#1c1c1c" stroke-width="2.0" stroke-linejoin="round" /><path d="M303.7,153.6 L308.4,145.0 L300.6,141.9 L296.7,150.8Z" fill="#fff" stroke="#1c1c1c" stroke-width="2.0" stroke-linejoin="round" /><path d="M288.5,150.7 L289.6,141.7 L280.1,144.6 L280.0,153.2Z" fill="#fff" stroke="#1c1c1c" stroke-width="2.0" stroke-linejoin="round" /><path d="M271.4,158.4 L268.6,151.5 L260.0,159.4 L263.7,165.6Z" fill="#fff" stroke="#1c1c1c" stroke-width="2.0" stroke-linejoin="round" /><path d="M257.1,174.6 L251.1,171.6 L245.7,182.6 L252.2,184.5Z" fill="#fff" stroke="#1c1c1c" stroke-width="2.0" stroke-linejoin="round" /><path d="M249.3,194.9 L241.8,196.7 L241.0,207.7 L248.6,204.9Z" fill="#fff" stroke="#1c1c1c" stroke-width="2.0" stroke-linejoin="round" /><path d="M250.2,214.1 L243.2,220.0 L247.2,228.2 L253.8,221.4Z" fill="#fff" stroke="#1c1c1c" stroke-width="2.0" stroke-linejoin="round" /><path d="M259.5,226.8 L254.8,235.4 L262.6,238.5 L266.5,229.6Z" fill="#fff" stroke="#1c1c1c" stroke-width="2.0" stroke-linejoin="round" /><path d="M274.7,229.7 L273.6,238.7 L283.1,235.8 L283.2,227.2Z" fill="#fff" stroke="#1c1c1c" stroke-width="2.0" stroke-linejoin="round" /><path d="M291.8,222.0 L294.6,228.9 L303.2,221.0 L299.5,214.8Z" fill="#fff" stroke="#1c1c1c" stroke-width="2.0" stroke-linejoin="round" /><path d="M308.0,205.4 L309.8,202.0 L311.4,198.5 L312.9,194.9 L314.0,191.2 L314.9,187.6 L315.6,184.0 L316.0,180.4 L316.2,176.9 L316.1,173.6 L315.7,170.3 L315.1,167.2 L314.2,164.2 L313.0,161.5 L311.6,159.0 L310.0,156.7 L308.2,154.7 L306.2,152.9 L304.0,151.4 L301.6,150.3 L299.1,149.4 L296.4,148.8 L293.6,148.6 L290.7,148.6 L287.8,149.0 L284.8,149.7 L281.8,150.7 L278.8,152.0 L275.8,153.6 L272.8,155.5 L270.0,157.6 L267.2,160.0 L264.5,162.6 L261.9,165.5 L259.5,168.5 L257.3,171.7 L255.2,175.0 L253.4,178.4 L251.8,181.9 L250.3,185.5 L249.2,189.2 L248.3,192.8 L247.6,196.4 L247.2,200.0 L247.0,203.5 L247.1,206.8 L247.5,210.1 L248.1,213.2 L249.0,216.2 L250.2,218.9 L251.6,221.4 L253.2,223.7 L255.0,225.7 L257.0,227.5 L259.2,229.0 L261.6,230.1 L264.1,231.0 L266.8,231.6 L269.6,231.8 L272.5,231.8 L275.4,231.4 L278.4,230.7 L281.4,229.7 L284.4,228.4 L287.4,226.8 L290.4,224.9 L293.2,222.8 L296.0,220.4 L298.7,217.8 L301.3,214.9 L303.7,211.9 L305.9,208.7ZM302.2,202.1 L303.7,199.4 L305.0,196.7 L306.1,193.9 L307.0,191.0 L307.7,188.2 L308.2,185.3 L308.5,182.6 L308.7,179.8 L308.6,177.2 L308.3,174.6 L307.8,172.2 L307.1,169.9 L306.2,167.7 L305.1,165.8 L303.9,164.0 L302.4,162.4 L300.8,161.0 L299.1,159.9 L297.2,158.9 L295.3,158.3 L293.2,157.8 L291.0,157.6 L288.8,157.7 L286.5,158.0 L284.1,158.5 L281.8,159.3 L279.4,160.3 L277.1,161.6 L274.7,163.0 L272.5,164.7 L270.3,166.6 L268.2,168.6 L266.2,170.8 L264.3,173.2 L262.6,175.7 L261.0,178.3 L259.5,181.0 L258.2,183.7 L257.1,186.5 L256.2,189.4 L255.5,192.2 L255.0,195.1 L254.7,197.8 L254.5,200.6 L254.6,203.2 L254.9,205.8 L255.4,208.2 L256.1,210.5 L257.0,212.7 L258.1,214.6 L259.3,216.4 L260.8,218.0 L262.4,219.4 L264.1,220.5 L266.0,221.5 L267.9,222.1 L270.0,222.6 L272.2,222.8 L274.4,222.7 L276.7,222.4 L279.1,221.9 L281.4,221.1 L283.8,220.1 L286.1,218.8 L288.5,217.4 L290.7,215.7 L292.9,213.8 L295.0,211.8 L297.0,209.6 L298.9,207.2 L300.6,204.7Z" fill="#fff" stroke="#1c1c1c" stroke-width="2.0" stroke-linejoin="round" fill-rule="evenodd"/><path d="M301.7,203.0 L307.3,206.6 M305.7,194.9 L312.4,196.1 M308.1,186.3 L315.4,185.3 M308.6,178.1 L316.1,174.7 M307.4,170.7 L314.5,165.3 M304.3,164.6 L310.6,157.5 M299.7,160.2 L304.8,151.9 M293.9,157.9 L297.4,149.0 M287.3,157.8 L288.8,148.9 M280.2,159.9 L279.9,151.5 M273.3,164.1 L271.0,156.9 M266.9,170.0 L262.8,164.4 M261.5,177.4 L255.9,173.8 M257.5,185.5 L250.8,184.3 M255.1,194.1 L247.8,195.1 M254.6,202.3 L247.1,205.7 M255.8,209.7 L248.7,215.1 M258.9,215.8 L252.6,222.9 M263.5,220.2 L258.4,228.5 M269.3,222.5 L265.8,231.4 M275.9,222.6 L274.4,231.5 M283.0,220.5 L283.3,228.9 M289.9,216.3 L292.2,223.5 M296.3,210.4 L300.4,216.0 " fill="none" stroke="#1c1c1c" stroke-width="2.0" stroke-linejoin="round" /><ellipse cx="281.6" cy="190.2" rx="23.8" ry="35.0" transform="rotate(30 281.6 190.2)" fill="none" stroke="#1c1c1c" stroke-width="2.9" /><path d="M323.6,214.4 L325.5,210.9 L327.2,207.3 L328.6,203.6 L329.8,199.9 L330.7,196.2 L331.4,192.6 L331.8,188.9 L332.0,185.4 L331.9,181.9 L331.5,178.6 L330.8,175.4 L329.9,172.5 L328.8,169.7 L327.4,167.1 L325.7,164.8 L323.9,162.7 L321.8,160.9 L319.6,159.4 L317.1,158.2 L314.6,157.3 L311.9,156.8 L309.0,156.5 L306.1,156.6 L303.1,157.0 L300.1,157.7 L297.0,158.7 L293.9,160.0 L290.9,161.7 L287.9,163.6 L285.0,165.7 L282.1,168.2 L279.4,170.8 L276.8,173.7 L274.3,176.8 L272.1,180.0 L270.0,183.4 L268.1,186.9 L266.4,190.5 L265.0,194.1 L263.8,197.8 L262.9,201.5 L262.2,205.2 L261.8,208.8 L261.6,212.4 L261.7,215.8 L262.1,219.1 L262.8,222.3 L263.7,225.3 L264.8,228.1 L266.2,230.7 L267.9,233.0 L269.7,235.0 L271.8,236.8 L274.0,238.3 L276.4,239.5 L279.0,240.4 L281.7,241.0 L284.6,241.2 L287.5,241.2 L290.5,240.8 L293.5,240.1 L296.6,239.1 L299.7,237.7 L302.7,236.1 L305.7,234.2 L308.6,232.0 L311.5,229.6 L314.2,226.9 L316.8,224.0 L319.3,221.0 L321.5,217.7Z" fill="#fff" stroke="#1c1c1c" stroke-width="1.5" stroke-linejoin="round" /><path d="M325.8,215.6 L327.7,212.1 L329.3,208.6 L330.8,204.9 L331.9,201.2 L332.9,197.5 L333.6,193.8 L334.0,190.2 L334.1,186.7 L334.0,183.2 L333.6,179.9 L333.0,176.7 L332.1,173.7 L330.9,170.9 L329.5,168.4 L327.9,166.1 L326.0,164.0 L324.0,162.2 L321.7,160.7 L319.3,159.5 L316.7,158.6 L314.0,158.0 L311.2,157.8 L308.3,157.9 L305.3,158.2 L302.2,159.0 L299.2,160.0 L296.1,161.3 L293.0,162.9 L290.0,164.8 L287.1,167.0 L284.3,169.4 L281.5,172.1 L278.9,175.0 L276.5,178.0 L274.2,181.3 L272.1,184.7 L270.2,188.2 L268.6,191.7 L267.1,195.4 L266.0,199.1 L265.0,202.8 L264.3,206.5 L263.9,210.1 L263.8,213.6 L263.9,217.1 L264.3,220.4 L264.9,223.6 L265.8,226.6 L267.0,229.4 L268.4,231.9 L270.0,234.2 L271.9,236.3 L273.9,238.1 L276.2,239.6 L278.6,240.8 L281.2,241.7 L283.9,242.3 L286.7,242.5 L289.6,242.4 L292.6,242.1 L295.7,241.3 L298.7,240.3 L301.8,239.0 L304.9,237.4 L307.9,235.5 L310.8,233.3 L313.6,230.9 L316.4,228.2 L319.0,225.3 L321.4,222.3 L323.7,219.0Z" fill="#fff" stroke="#1c1c1c" stroke-width="1.5" stroke-linejoin="round" /><path d="M316.1,210.0 L317.8,206.7 L320.6,207.7 L322.5,202.9 L319.5,202.5 L320.5,199.1 L323.7,198.9 L324.5,194.1 L321.2,194.9 L321.4,191.5 L324.8,190.2 L324.5,185.7 L321.1,187.6 L320.5,184.6 L323.7,182.3 L322.3,178.5 L319.3,181.4 L317.9,179.0 L320.7,175.9 L318.3,173.1 L315.8,176.6 L313.7,175.1 L315.9,171.4 L312.7,169.9 L310.9,173.8 L308.4,173.3 L309.8,169.2 L306.0,169.1 L305.1,173.2 L302.2,173.6 L302.7,169.6 L298.7,170.8 L298.7,174.7 L295.8,176.0 L295.4,172.4 L291.4,174.9 L292.4,178.2 L289.7,180.4 L288.3,177.5 L284.8,181.1 L286.6,183.6 L284.3,186.5 L282.1,184.4 L279.3,188.8 L281.8,190.3 L280.1,193.6 L277.3,192.6 L275.4,197.4 L278.4,197.8 L277.4,201.2 L274.2,201.4 L273.4,206.2 L276.7,205.4 L276.5,208.8 L273.1,210.1 L273.4,214.6 L276.8,212.7 L277.4,215.7 L274.2,218.0 L275.6,221.8 L278.6,218.9 L280.0,221.3 L277.2,224.4 L279.6,227.2 L282.1,223.7 L284.2,225.2 L282.0,228.9 L285.2,230.4 L287.0,226.5 L289.5,227.0 L288.1,231.1 L291.9,231.2 L292.8,227.1 L295.7,226.7 L295.2,230.7 L299.2,229.5 L299.2,225.6 L302.1,224.3 L302.5,227.9 L306.5,225.4 L305.5,222.1 L308.2,219.9 L309.6,222.8 L313.1,219.2 L311.3,216.7 L313.6,213.8 L315.8,215.9 L318.6,211.5Z" fill="none" stroke="#1c1c1c" stroke-width="1.4" stroke-linejoin="round" /><path d="M339.8,223.7 L341.7,220.2 L343.3,216.8 L344.7,213.2 L345.8,209.6 L346.8,206.0 L347.4,202.4 L347.8,198.9 L348.0,195.4 L347.9,192.1 L347.5,188.8 L346.9,185.8 L346.0,182.9 L344.8,180.1 L343.5,177.6 L341.9,175.4 L340.1,173.4 L338.1,171.6 L335.9,170.2 L333.5,169.0 L331.0,168.1 L328.4,167.6 L325.6,167.3 L322.8,167.4 L319.9,167.8 L316.9,168.5 L313.9,169.5 L310.9,170.8 L308.0,172.3 L305.0,174.2 L302.2,176.3 L299.4,178.7 L296.8,181.3 L294.2,184.1 L291.8,187.1 L289.6,190.2 L287.6,193.5 L285.8,196.9 L284.1,200.4 L282.8,204.0 L281.6,207.5 L280.7,211.1 L280.0,214.7 L279.6,218.3 L279.5,221.7 L279.6,225.1 L279.9,228.3 L280.6,231.4 L281.5,234.3 L282.6,237.0 L284.0,239.5 L285.5,241.8 L287.3,243.8 L289.4,245.5 L291.5,247.0 L293.9,248.1 L296.4,249.0 L299.1,249.6 L301.8,249.8 L304.7,249.8 L307.6,249.4 L310.5,248.7 L313.5,247.7 L316.5,246.4 L319.5,244.8 L322.4,243.0 L325.2,240.8 L328.0,238.5 L330.7,235.9 L333.2,233.1 L335.6,230.1 L337.8,226.9ZM334.2,220.4 L335.6,217.7 L336.9,215.0 L337.9,212.2 L338.9,209.4 L339.6,206.6 L340.1,203.8 L340.4,201.0 L340.5,198.3 L340.4,195.7 L340.1,193.1 L339.7,190.7 L339.0,188.4 L338.1,186.3 L337.0,184.4 L335.8,182.6 L334.4,181.0 L332.8,179.7 L331.1,178.5 L329.2,177.6 L327.3,176.9 L325.2,176.5 L323.0,176.3 L320.8,176.4 L318.5,176.6 L316.2,177.2 L313.9,178.0 L311.5,179.0 L309.2,180.2 L306.9,181.7 L304.7,183.3 L302.5,185.2 L300.4,187.2 L298.5,189.4 L296.6,191.7 L294.9,194.2 L293.3,196.8 L291.8,199.4 L290.6,202.2 L289.5,205.0 L288.6,207.8 L287.9,210.6 L287.3,213.4 L287.0,216.1 L286.9,218.9 L287.0,221.5 L287.3,224.0 L287.8,226.4 L288.5,228.7 L289.4,230.8 L290.4,232.8 L291.7,234.6 L293.1,236.1 L294.6,237.5 L296.4,238.6 L298.2,239.5 L300.2,240.2 L302.2,240.7 L304.4,240.9 L306.6,240.8 L308.9,240.5 L311.2,240.0 L313.6,239.2 L315.9,238.2 L318.2,236.9 L320.5,235.5 L322.7,233.8 L324.9,232.0 L327.0,229.9 L329.0,227.8 L330.8,225.4 L332.6,222.9Z" fill="#fff" stroke="#1c1c1c" stroke-width="1.7" stroke-linejoin="round" fill-rule="evenodd"/><path d="M340.6,225.6 L346.5,228.6 L351.8,217.7 L345.4,215.8Z" fill="#fff" stroke="#1c1c1c" stroke-width="2.0" stroke-linejoin="round" /><path d="M348.3,205.4 L355.7,203.7 L356.5,192.7 L349.0,195.5Z" fill="#fff" stroke="#1c1c1c" stroke-width="2.0" stroke-linejoin="round" /><path d="M347.4,186.5 L354.4,180.6 L350.4,172.5 L343.8,179.2Z" fill="#fff" stroke="#1c1c1c" stroke-width="2.0" stroke-linejoin="round" /><path d="M338.2,173.9 L342.8,165.3 L335.1,162.3 L331.2,171.1Z" fill="#fff" stroke="#1c1c1c" stroke-width="2.0" stroke-linejoin="round" /><path d="M323.1,171.0 L324.2,162.1 L314.8,164.9 L314.7,173.5Z" fill="#fff" stroke="#1c1c1c" stroke-width="2.0" stroke-linejoin="round" /><path d="M306.2,178.6 L303.4,171.7 L294.9,179.6 L298.6,185.7Z" fill="#fff" stroke="#1c1c1c" stroke-width="2.0" stroke-linejoin="round" /><path d="M292.0,194.6 L286.1,191.6 L280.8,202.5 L287.2,204.4Z" fill="#fff" stroke="#1c1c1c" stroke-width="2.0" stroke-linejoin="round" /><path d="M284.3,214.8 L276.9,216.5 L276.1,227.5 L283.6,224.7Z" fill="#fff" stroke="#1c1c1c" stroke-width="2.0" stroke-linejoin="round" /><path d="M285.2,233.7 L278.2,239.6 L282.2,247.7 L288.8,241.0Z" fill="#fff" stroke="#1c1c1c" stroke-width="2.0" stroke-linejoin="round" /><path d="M294.4,246.3 L289.8,254.9 L297.5,257.9 L301.4,249.1Z" fill="#fff" stroke="#1c1c1c" stroke-width="2.0" stroke-linejoin="round" /><path d="M309.5,249.2 L308.4,258.1 L317.8,255.3 L317.9,246.7Z" fill="#fff" stroke="#1c1c1c" stroke-width="2.0" stroke-linejoin="round" /><path d="M326.4,241.6 L329.2,248.5 L337.7,240.6 L334.0,234.5Z" fill="#fff" stroke="#1c1c1c" stroke-width="2.0" stroke-linejoin="round" /><path d="M342.4,225.2 L344.2,221.8 L345.9,218.3 L347.3,214.7 L348.4,211.1 L349.3,207.5 L350.0,204.0 L350.4,200.4 L350.6,197.0 L350.4,193.6 L350.1,190.4 L349.4,187.3 L348.6,184.4 L347.4,181.7 L346.1,179.2 L344.5,176.9 L342.7,174.9 L340.7,173.2 L338.5,171.7 L336.1,170.5 L333.6,169.7 L331.0,169.1 L328.2,168.9 L325.4,168.9 L322.4,169.3 L319.5,170.0 L316.5,171.0 L313.5,172.3 L310.5,173.9 L307.6,175.7 L304.8,177.8 L302.0,180.2 L299.3,182.8 L296.8,185.6 L294.4,188.6 L292.2,191.7 L290.2,195.0 L288.4,198.4 L286.7,201.9 L285.3,205.5 L284.2,209.1 L283.3,212.7 L282.6,216.2 L282.2,219.8 L282.0,223.2 L282.2,226.6 L282.5,229.8 L283.2,232.9 L284.0,235.8 L285.2,238.5 L286.5,241.0 L288.1,243.3 L289.9,245.3 L291.9,247.0 L294.1,248.5 L296.5,249.7 L299.0,250.5 L301.6,251.1 L304.4,251.3 L307.2,251.3 L310.2,250.9 L313.1,250.2 L316.1,249.2 L319.1,247.9 L322.1,246.3 L325.0,244.5 L327.8,242.4 L330.6,240.0 L333.3,237.4 L335.8,234.6 L338.2,231.6 L340.4,228.5ZM336.7,221.9 L338.2,219.2 L339.4,216.5 L340.5,213.7 L341.4,210.9 L342.2,208.1 L342.7,205.3 L343.0,202.5 L343.1,199.8 L343.0,197.2 L342.7,194.7 L342.2,192.2 L341.5,190.0 L340.7,187.8 L339.6,185.9 L338.4,184.1 L336.9,182.6 L335.4,181.2 L333.7,180.0 L331.8,179.1 L329.8,178.5 L327.8,178.0 L325.6,177.8 L323.4,177.9 L321.1,178.2 L318.8,178.7 L316.5,179.5 L314.1,180.5 L311.8,181.7 L309.5,183.2 L307.3,184.9 L305.1,186.7 L303.0,188.7 L301.1,190.9 L299.2,193.3 L297.5,195.7 L295.9,198.3 L294.4,201.0 L293.2,203.7 L292.1,206.5 L291.2,209.3 L290.4,212.1 L289.9,214.9 L289.6,217.7 L289.5,220.4 L289.6,223.0 L289.9,225.5 L290.4,228.0 L291.1,230.2 L291.9,232.4 L293.0,234.3 L294.2,236.1 L295.7,237.6 L297.2,239.0 L298.9,240.2 L300.8,241.1 L302.8,241.7 L304.8,242.2 L307.0,242.4 L309.2,242.3 L311.5,242.0 L313.8,241.5 L316.1,240.7 L318.5,239.7 L320.8,238.5 L323.1,237.0 L325.3,235.3 L327.5,233.5 L329.6,231.5 L331.5,229.3 L333.4,226.9 L335.1,224.5Z" fill="#fff" stroke="#1c1c1c" stroke-width="2.0" stroke-linejoin="round" fill-rule="evenodd"/><path d="M336.2,222.8 L341.7,226.4 M340.2,214.7 L346.8,216.0 M342.5,206.3 L349.8,205.2 M343.1,198.1 L350.5,194.8 M341.8,190.8 L348.9,185.4 M338.8,184.7 L345.1,177.7 M334.3,180.4 L339.3,172.2 M328.5,178.1 L331.9,169.3 M321.9,178.0 L323.5,169.1 M314.9,180.1 L314.6,171.8 M308.1,184.2 L305.8,177.1 M301.7,190.1 L297.7,184.6 M296.4,197.4 L290.9,193.8 M292.4,205.5 L285.8,204.2 M290.1,213.9 L282.8,215.0 M289.5,222.1 L282.1,225.4 M290.8,229.4 L283.7,234.8 M293.8,235.5 L287.5,242.5 M298.3,239.8 L293.3,248.0 M304.1,242.1 L300.7,250.9 M310.7,242.2 L309.1,251.1 M317.7,240.1 L318.0,248.4 M324.5,236.0 L326.8,243.1 M330.9,230.1 L334.9,235.6 " fill="none" stroke="#1c1c1c" stroke-width="2.0" stroke-linejoin="round" /><ellipse cx="316.3" cy="210.1" rx="23.6" ry="34.7" transform="rotate(30 316.3 210.1)" fill="none" stroke="#1c1c1c" stroke-width="2.9" /><path d="M358.1,234.1 L359.9,230.7 L361.6,227.1 L363.0,223.5 L364.2,219.8 L365.1,216.2 L365.8,212.5 L366.2,208.9 L366.4,205.4 L366.3,202.0 L365.9,198.7 L365.2,195.6 L364.3,192.6 L363.2,189.8 L361.8,187.3 L360.2,185.0 L358.3,182.9 L356.3,181.2 L354.1,179.7 L351.7,178.5 L349.1,177.6 L346.4,177.1 L343.6,176.8 L340.7,176.9 L337.8,177.3 L334.7,178.0 L331.7,179.0 L328.7,180.3 L325.6,181.9 L322.7,183.8 L319.8,185.9 L316.9,188.4 L314.2,191.0 L311.7,193.8 L309.2,196.9 L307.0,200.1 L304.9,203.4 L303.1,206.9 L301.4,210.5 L300.0,214.1 L298.8,217.7 L297.9,221.4 L297.2,225.0 L296.8,228.6 L296.6,232.2 L296.7,235.6 L297.1,238.9 L297.8,242.0 L298.7,245.0 L299.8,247.7 L301.2,250.3 L302.8,252.6 L304.7,254.6 L306.7,256.4 L308.9,257.9 L311.3,259.1 L313.9,259.9 L316.6,260.5 L319.4,260.8 L322.3,260.7 L325.2,260.3 L328.3,259.6 L331.3,258.6 L334.3,257.3 L337.4,255.7 L340.3,253.8 L343.2,251.6 L346.1,249.2 L348.8,246.6 L351.3,243.7 L353.8,240.7 L356.0,237.5Z" fill="#fff" stroke="#1c1c1c" stroke-width="1.5" stroke-linejoin="round" /><path d="M360.2,235.4 L362.1,231.9 L363.7,228.4 L365.2,224.8 L366.3,221.1 L367.3,217.4 L368.0,213.8 L368.4,210.2 L368.5,206.7 L368.4,203.3 L368.0,200.0 L367.4,196.8 L366.5,193.9 L365.3,191.1 L363.9,188.6 L362.3,186.3 L360.5,184.2 L358.4,182.4 L356.2,181.0 L353.8,179.8 L351.3,178.9 L348.6,178.3 L345.8,178.1 L342.9,178.1 L339.9,178.5 L336.9,179.2 L333.9,180.2 L330.8,181.6 L327.8,183.2 L324.8,185.1 L321.9,187.2 L319.1,189.6 L316.4,192.3 L313.8,195.1 L311.4,198.1 L309.1,201.4 L307.1,204.7 L305.2,208.2 L303.6,211.7 L302.1,215.3 L301.0,219.0 L300.0,222.7 L299.3,226.3 L298.9,229.9 L298.8,233.4 L298.9,236.8 L299.3,240.1 L299.9,243.3 L300.8,246.2 L302.0,249.0 L303.4,251.5 L305.0,253.8 L306.8,255.9 L308.9,257.7 L311.1,259.1 L313.5,260.3 L316.0,261.2 L318.7,261.8 L321.5,262.0 L324.4,262.0 L327.4,261.6 L330.4,260.9 L333.4,259.9 L336.5,258.5 L339.5,256.9 L342.5,255.0 L345.4,252.9 L348.2,250.5 L350.9,247.8 L353.5,245.0 L355.9,242.0 L358.2,238.7Z" fill="#fff" stroke="#1c1c1c" stroke-width="1.5" stroke-linejoin="round" /><path d="M350.6,229.8 L352.3,226.6 L355.1,227.5 L357.0,222.8 L354.0,222.4 L355.0,219.0 L358.2,218.8 L359.0,214.0 L355.7,214.8 L355.9,211.5 L359.2,210.2 L358.9,205.8 L355.6,207.6 L355.0,204.7 L358.2,202.4 L356.8,198.6 L353.8,201.4 L352.4,199.1 L355.2,196.0 L352.8,193.3 L350.3,196.8 L348.3,195.3 L350.5,191.5 L347.3,190.1 L345.5,194.0 L343.0,193.4 L344.4,189.4 L340.6,189.3 L339.7,193.3 L336.9,193.7 L337.4,189.8 L333.4,191.0 L333.4,194.8 L330.6,196.2 L330.1,192.6 L326.2,195.1 L327.2,198.3 L324.5,200.5 L323.1,197.6 L319.6,201.2 L321.4,203.6 L319.2,206.5 L317.0,204.4 L314.2,208.8 L316.7,210.3 L315.0,213.5 L312.2,212.6 L310.3,217.3 L313.3,217.7 L312.3,221.1 L309.1,221.3 L308.3,226.1 L311.6,225.3 L311.4,228.6 L308.1,229.9 L308.4,234.3 L311.7,232.5 L312.3,235.4 L309.1,237.7 L310.5,241.5 L313.5,238.7 L314.9,241.0 L312.1,244.1 L314.5,246.8 L317.0,243.3 L319.0,244.8 L316.8,248.6 L320.0,250.0 L321.8,246.1 L324.3,246.7 L322.9,250.7 L326.7,250.8 L327.6,246.8 L330.4,246.4 L329.9,250.3 L333.9,249.1 L333.9,245.3 L336.7,243.9 L337.2,247.5 L341.1,245.0 L340.1,241.8 L342.8,239.6 L344.2,242.5 L347.7,238.9 L345.9,236.5 L348.1,233.6 L350.3,235.7 L353.1,231.3Z" fill="none" stroke="#1c1c1c" stroke-width="1.4" stroke-linejoin="round" /><path d="M374.3,243.4 L376.1,240.0 L377.7,236.6 L379.1,233.1 L380.2,229.5 L381.1,225.9 L381.8,222.4 L382.2,218.9 L382.4,215.5 L382.2,212.1 L381.9,208.9 L381.2,205.9 L380.4,203.0 L379.3,200.3 L377.9,197.8 L376.3,195.6 L374.5,193.6 L372.6,191.9 L370.4,190.4 L368.0,189.3 L365.6,188.4 L362.9,187.9 L360.2,187.6 L357.4,187.7 L354.5,188.1 L351.6,188.7 L348.6,189.7 L345.7,191.0 L342.7,192.6 L339.8,194.4 L337.0,196.5 L334.3,198.9 L331.6,201.4 L329.1,204.2 L326.8,207.2 L324.6,210.3 L322.5,213.5 L320.7,216.9 L319.1,220.4 L317.7,223.9 L316.6,227.5 L315.7,231.0 L315.0,234.6 L314.6,238.1 L314.5,241.5 L314.6,244.8 L315.0,248.0 L315.6,251.1 L316.5,254.0 L317.6,256.6 L318.9,259.1 L320.5,261.4 L322.3,263.3 L324.3,265.1 L326.5,266.5 L328.8,267.7 L331.3,268.5 L333.9,269.1 L336.6,269.3 L339.4,269.3 L342.3,268.9 L345.3,268.2 L348.2,267.2 L351.2,265.9 L354.1,264.4 L357.0,262.5 L359.8,260.4 L362.6,258.1 L365.2,255.5 L367.7,252.7 L370.1,249.8 L372.3,246.7ZM368.7,240.2 L370.1,237.5 L371.3,234.8 L372.4,232.1 L373.3,229.3 L374.0,226.5 L374.5,223.7 L374.9,221.0 L375.0,218.3 L374.9,215.7 L374.6,213.2 L374.1,210.8 L373.4,208.5 L372.6,206.4 L371.5,204.5 L370.3,202.7 L368.9,201.2 L367.3,199.8 L365.6,198.7 L363.8,197.8 L361.8,197.1 L359.8,196.7 L357.6,196.5 L355.4,196.6 L353.2,196.8 L350.9,197.4 L348.6,198.2 L346.3,199.2 L344.0,200.4 L341.7,201.8 L339.5,203.5 L337.3,205.3 L335.3,207.3 L333.3,209.5 L331.5,211.8 L329.7,214.2 L328.2,216.8 L326.7,219.4 L325.5,222.1 L324.4,224.9 L323.5,227.7 L322.8,230.5 L322.3,233.2 L322.0,236.0 L321.9,238.7 L321.9,241.3 L322.2,243.8 L322.7,246.2 L323.4,248.4 L324.3,250.5 L325.3,252.5 L326.6,254.2 L328.0,255.8 L329.5,257.1 L331.2,258.2 L333.1,259.2 L335.0,259.8 L337.1,260.3 L339.2,260.5 L341.4,260.4 L343.7,260.1 L345.9,259.6 L348.3,258.8 L350.6,257.8 L352.9,256.6 L355.1,255.1 L357.4,253.5 L359.5,251.7 L361.6,249.6 L363.5,247.5 L365.4,245.2 L367.1,242.7Z" fill="#fff" stroke="#1c1c1c" stroke-width="1.7" stroke-linejoin="round" fill-rule="evenodd"/><path d="M375.1,245.3 L380.9,248.3 L386.2,237.5 L379.8,235.6Z" fill="#fff" stroke="#1c1c1c" stroke-width="2.0" stroke-linejoin="round" /><path d="M382.7,225.3 L390.1,223.7 L390.8,212.8 L383.4,215.5Z" fill="#fff" stroke="#1c1c1c" stroke-width="2.0" stroke-linejoin="round" /><path d="M381.8,206.6 L388.7,200.7 L384.7,192.7 L378.2,199.4Z" fill="#fff" stroke="#1c1c1c" stroke-width="2.0" stroke-linejoin="round" /><path d="M372.7,194.1 L377.3,185.6 L369.6,182.6 L365.8,191.4Z" fill="#fff" stroke="#1c1c1c" stroke-width="2.0" stroke-linejoin="round" /><path d="M357.8,191.3 L358.8,182.4 L349.5,185.2 L349.4,193.8Z" fill="#fff" stroke="#1c1c1c" stroke-width="2.0" stroke-linejoin="round" /><path d="M341.0,198.8 L338.2,192.0 L329.8,199.8 L333.4,205.8Z" fill="#fff" stroke="#1c1c1c" stroke-width="2.0" stroke-linejoin="round" /><path d="M326.9,214.7 L321.1,211.7 L315.8,222.5 L322.2,224.4Z" fill="#fff" stroke="#1c1c1c" stroke-width="2.0" stroke-linejoin="round" /><path d="M319.3,234.7 L311.9,236.3 L311.2,247.2 L318.6,244.5Z" fill="#fff" stroke="#1c1c1c" stroke-width="2.0" stroke-linejoin="round" /><path d="M320.2,253.4 L313.3,259.3 L317.3,267.3 L323.8,260.6Z" fill="#fff" stroke="#1c1c1c" stroke-width="2.0" stroke-linejoin="round" /><path d="M329.3,265.9 L324.7,274.4 L332.4,277.4 L336.2,268.6Z" fill="#fff" stroke="#1c1c1c" stroke-width="2.0" stroke-linejoin="round" /><path d="M344.2,268.7 L343.2,277.6 L352.5,274.8 L352.6,266.2Z" fill="#fff" stroke="#1c1c1c" stroke-width="2.0" stroke-linejoin="round" /><path d="M361.0,261.2 L363.8,268.0 L372.2,260.2 L368.6,254.2Z" fill="#fff" stroke="#1c1c1c" stroke-width="2.0" stroke-linejoin="round" /><path d="M376.9,244.9 L378.7,241.6 L380.3,238.1 L381.7,234.6 L382.8,231.0 L383.7,227.5 L384.4,223.9 L384.8,220.4 L384.9,217.0 L384.8,213.7 L384.5,210.5 L383.8,207.4 L383.0,204.5 L381.8,201.8 L380.5,199.4 L378.9,197.1 L377.1,195.1 L375.1,193.4 L373.0,192.0 L370.6,190.8 L368.1,189.9 L365.5,189.4 L362.8,189.1 L360.0,189.2 L357.1,189.6 L354.2,190.3 L351.2,191.3 L348.2,192.5 L345.3,194.1 L342.4,195.9 L339.6,198.0 L336.8,200.4 L334.2,203.0 L331.7,205.7 L329.3,208.7 L327.1,211.8 L325.1,215.1 L323.3,218.4 L321.7,221.9 L320.3,225.4 L319.2,229.0 L318.3,232.5 L317.6,236.1 L317.2,239.6 L317.1,243.0 L317.2,246.3 L317.5,249.5 L318.2,252.6 L319.0,255.5 L320.2,258.2 L321.5,260.6 L323.1,262.9 L324.9,264.9 L326.9,266.6 L329.0,268.0 L331.4,269.2 L333.9,270.1 L336.5,270.6 L339.2,270.9 L342.0,270.8 L344.9,270.4 L347.8,269.7 L350.8,268.7 L353.8,267.5 L356.7,265.9 L359.6,264.1 L362.4,262.0 L365.2,259.6 L367.8,257.0 L370.3,254.3 L372.7,251.3 L374.9,248.2ZM371.2,241.7 L372.7,239.0 L373.9,236.3 L375.0,233.6 L375.9,230.8 L376.6,228.0 L377.1,225.2 L377.4,222.5 L377.6,219.8 L377.5,217.2 L377.2,214.7 L376.7,212.3 L376.0,210.1 L375.1,208.0 L374.1,206.0 L372.8,204.3 L371.4,202.7 L369.9,201.4 L368.2,200.2 L366.4,199.3 L364.4,198.6 L362.4,198.2 L360.2,198.0 L358.0,198.1 L355.8,198.4 L353.5,198.9 L351.2,199.7 L348.8,200.7 L346.5,201.9 L344.3,203.3 L342.1,205.0 L339.9,206.8 L337.9,208.8 L335.9,211.0 L334.0,213.3 L332.3,215.8 L330.8,218.3 L329.3,221.0 L328.1,223.7 L327.0,226.4 L326.1,229.2 L325.4,232.0 L324.9,234.8 L324.6,237.5 L324.4,240.2 L324.5,242.8 L324.8,245.3 L325.3,247.7 L326.0,249.9 L326.9,252.0 L327.9,254.0 L329.2,255.7 L330.6,257.3 L332.1,258.6 L333.8,259.8 L335.6,260.7 L337.6,261.4 L339.6,261.8 L341.8,262.0 L344.0,261.9 L346.2,261.6 L348.5,261.1 L350.8,260.3 L353.2,259.3 L355.5,258.1 L357.7,256.7 L359.9,255.0 L362.1,253.2 L364.1,251.2 L366.1,249.0 L368.0,246.7 L369.7,244.2Z" fill="#fff" stroke="#1c1c1c" stroke-width="2.0" stroke-linejoin="round" fill-rule="evenodd"/><path d="M370.7,242.6 L376.2,246.1 M374.6,234.6 L381.2,235.8 M377.0,226.2 L384.2,225.2 M377.5,218.1 L384.9,214.8 M376.3,210.8 L383.3,205.5 M373.3,204.9 L379.5,197.9 M368.8,200.6 L373.8,192.4 M363.1,198.3 L366.5,189.5 M356.6,198.2 L358.1,189.4 M349.7,200.3 L349.3,192.1 M342.8,204.4 L340.6,197.3 M336.6,210.2 L332.6,204.7 M331.3,217.4 L325.8,213.9 M327.4,225.4 L320.8,224.2 M325.0,233.8 L317.8,234.8 M324.5,241.9 L317.1,245.2 M325.7,249.2 L318.7,254.5 M328.7,255.1 L322.5,262.1 M333.2,259.4 L328.2,267.6 M338.9,261.7 L335.5,270.5 M345.4,261.8 L343.9,270.6 M352.3,259.7 L352.7,267.9 M359.2,255.6 L361.4,262.7 M365.4,249.8 L369.4,255.3 " fill="none" stroke="#1c1c1c" stroke-width="2.0" stroke-linejoin="round" /><ellipse cx="351.0" cy="230.0" rx="23.4" ry="34.4" transform="rotate(30 351.0 230.0)" fill="none" stroke="#1c1c1c" stroke-width="2.9" /><path d="M137.5,111.2 L139.3,107.7 L141.0,104.2 L142.5,100.6 L143.7,97.0 L144.7,93.4 L145.4,89.8 L145.9,86.2 L146.2,82.8 L146.2,79.4 L145.9,76.2 L145.4,73.2 L144.7,70.3 L143.7,67.6 L142.5,65.2 L141.0,63.0 L139.3,61.1 L137.5,59.4 L135.4,58.0 L133.2,56.9 L130.8,56.1 L128.3,55.7 L125.7,55.5 L122.9,55.7 L120.1,56.1 L117.3,56.9 L114.4,58.0 L111.5,59.4 L108.6,61.1 L105.7,63.0 L102.9,65.2 L100.2,67.7 L97.5,70.3 L95.0,73.2 L92.6,76.2 L90.4,79.5 L88.4,82.8 L86.5,86.3 L84.8,89.8 L83.4,93.4 L82.2,97.0 L81.2,100.6 L80.4,104.2 L79.9,107.7 L79.6,111.2 L79.6,114.5 L79.9,117.7 L80.4,120.8 L81.2,123.6 L82.1,126.3 L83.4,128.7 L84.8,131.0 L86.5,132.9 L88.4,134.6 L90.4,135.9 L92.6,137.0 L95.0,137.8 L97.5,138.3 L100.2,138.4 L102.9,138.3 L105.7,137.8 L108.6,137.0 L111.5,135.9 L114.4,134.6 L117.3,132.9 L120.1,130.9 L122.9,128.7 L125.7,126.3 L128.3,123.6 L130.8,120.8 L133.2,117.7 L135.4,114.5Z" fill="#fff" stroke="#1c1c1c" stroke-width="1.5" stroke-linejoin="round" /><path d="M140.1,112.7 L141.9,109.2 L143.6,105.7 L145.0,102.1 L146.3,98.5 L147.3,94.9 L148.0,91.3 L148.5,87.8 L148.8,84.3 L148.8,81.0 L148.5,77.8 L148.0,74.7 L147.3,71.8 L146.3,69.2 L145.0,66.7 L143.6,64.5 L141.9,62.6 L140.1,60.9 L138.0,59.5 L135.8,58.4 L133.4,57.7 L130.9,57.2 L128.2,57.0 L125.5,57.2 L122.7,57.7 L119.8,58.4 L117.0,59.5 L114.0,60.9 L111.2,62.6 L108.3,64.5 L105.5,66.7 L102.8,69.2 L100.1,71.9 L97.6,74.7 L95.2,77.8 L93.0,81.0 L90.9,84.3 L89.1,87.8 L87.4,91.3 L86.0,94.9 L84.7,98.5 L83.7,102.1 L83.0,105.7 L82.5,109.2 L82.2,112.7 L82.2,116.0 L82.5,119.2 L83.0,122.3 L83.7,125.2 L84.7,127.8 L86.0,130.3 L87.4,132.5 L89.1,134.4 L90.9,136.1 L93.0,137.5 L95.2,138.6 L97.6,139.3 L100.1,139.8 L102.8,140.0 L105.5,139.8 L108.3,139.3 L111.2,138.6 L114.0,137.5 L117.0,136.1 L119.8,134.4 L122.7,132.5 L125.5,130.3 L128.2,127.8 L130.9,125.1 L133.4,122.3 L135.8,119.2 L138.0,116.0Z" fill="#fff" stroke="#1c1c1c" stroke-width="1.5" stroke-linejoin="round" /><ellipse cx="116.8" cy="99.3" rx="23.3" ry="37.0" transform="rotate(30 116.8 99.3)" fill="none" stroke="#1c1c1c" stroke-width="1.3" /><path d="M130.3,102.7 L117.5,84.3 L113.9,86.8 L126.7,105.3 Z" fill="#fff" stroke="#1c1c1c" stroke-width="1.2" stroke-linejoin="round" /><path d="M130.6,104.6 L137.7,79.9 L133.4,78.7 L126.4,103.4 Z" fill="#fff" stroke="#1c1c1c" stroke-width="1.2" stroke-linejoin="round" /><path d="M129.6,105.9 L141.9,98.9 L139.7,95.0 L127.4,102.1 Z" fill="#fff" stroke="#1c1c1c" stroke-width="1.2" stroke-linejoin="round" /><path d="M126.3,104.2 L127.1,116.0 L131.5,115.7 L130.7,103.8 Z" fill="#fff" stroke="#1c1c1c" stroke-width="1.2" stroke-linejoin="round" /><path d="M126.9,102.4 L107.9,121.6 L111.0,124.7 L130.1,105.6 Z" fill="#fff" stroke="#1c1c1c" stroke-width="1.2" stroke-linejoin="round" /><path d="M128.5,101.8 L104.2,102.2 L104.3,106.6 L128.5,106.2 Z" fill="#fff" stroke="#1c1c1c" stroke-width="1.2" stroke-linejoin="round" /><path d="M133.3,106.8 L133.6,106.3 L133.9,105.7 L134.1,105.1 L134.3,104.6 L134.4,104.0 L134.4,103.4 L134.5,102.8 L134.5,102.2 L134.4,101.7 L134.3,101.2 L134.1,100.6 L134.0,100.2 L133.7,99.7 L133.4,99.3 L133.1,98.9 L132.8,98.5 L132.4,98.2 L132.0,97.9 L131.6,97.7 L131.1,97.5 L130.6,97.4 L130.1,97.3 L129.6,97.3 L129.1,97.3 L128.6,97.4 L128.1,97.6 L127.5,97.7 L127.0,98.0 L126.5,98.2 L126.0,98.5 L125.6,98.9 L125.1,99.3 L124.7,99.7 L124.3,100.2 L124.0,100.7 L123.7,101.2 L123.4,101.7 L123.1,102.3 L122.9,102.9 L122.7,103.4 L122.6,104.0 L122.5,104.6 L122.5,105.2 L122.5,105.8 L122.6,106.3 L122.7,106.8 L122.9,107.4 L123.0,107.8 L123.3,108.3 L123.6,108.7 L123.9,109.1 L124.2,109.5 L124.6,109.8 L125.0,110.1 L125.4,110.3 L125.9,110.5 L126.4,110.6 L126.9,110.7 L127.4,110.7 L127.9,110.6 L128.4,110.6 L128.9,110.4 L129.5,110.3 L130.0,110.0 L130.5,109.8 L130.9,109.5 L131.4,109.1 L131.9,108.7 L132.3,108.3 L132.7,107.8 L133.0,107.3Z" fill="#fff" stroke="#1c1c1c" stroke-width="1.3" stroke-linejoin="round" /><line x1="125.5" y1="100.0" x2="134.5" y2="107.0" stroke="#1c1c1c" stroke-width="1.2"/><line x1="123.5" y1="103.0" x2="132.5" y2="110.0" stroke="#1c1c1c" stroke-width="1.2"/><path d="M94,95 L98,92 L102,95 L101,100 L95,100 Z" fill="#fff" stroke="#1c1c1c" stroke-width="1.2" stroke-linejoin="round" /><line x1="95.0" y1="97.0" x2="101.0" y2="94.0" stroke="#1c1c1c" stroke-width="1.3"/><line x1="96.0" y1="99.0" x2="101.5" y2="96.5" stroke="#1c1c1c" stroke-width="1.3"/><path d="M92.5,115 L96.5,112 L100.5,115 L99.5,120 L93.5,120 Z" fill="#fff" stroke="#1c1c1c" stroke-width="1.2" stroke-linejoin="round" /><line x1="93.5" y1="117.0" x2="99.5" y2="114.0" stroke="#1c1c1c" stroke-width="1.3"/><line x1="94.5" y1="119.0" x2="100.0" y2="116.5" stroke="#1c1c1c" stroke-width="1.3"/><path d="M118.5,71 L122.5,68 L126.5,71 L125.5,76 L119.5,76 Z" fill="#fff" stroke="#1c1c1c" stroke-width="1.2" stroke-linejoin="round" /><line x1="119.5" y1="73.0" x2="125.5" y2="70.0" stroke="#1c1c1c" stroke-width="1.3"/><line x1="120.5" y1="75.0" x2="126.0" y2="72.5" stroke="#1c1c1c" stroke-width="1.3"/><path d="M106.0,85.6 L106.1,84.9 L106.2,84.2 L106.4,83.5 L106.6,82.8 L106.8,82.1 L107.1,81.4 L107.5,80.8 L107.9,80.1 L108.3,79.5 L108.8,78.9 L109.3,78.4 L109.8,77.9 L110.4,77.5 L111.0,77.1 L111.6,76.7 L112.2,76.5 L112.8,76.2 L113.4,76.0 L114.0,75.9 L114.7,75.9 L115.3,75.9 L115.8,76.0 L116.4,76.1 L116.9,76.3 L117.5,76.6 L125.2,81.2 L125.7,81.5 L126.1,81.8 L126.5,82.2 L126.9,82.7 L127.2,83.2 L127.5,83.8 L127.7,84.4 L127.8,85.0 L127.9,85.6 L128.0,86.3 L128.0,87.0 L128.0,87.7 L127.8,88.4 L127.7,89.1 L127.5,89.8 L127.2,90.5 L126.9,91.2 L126.6,91.9 L126.2,92.5 L125.7,93.1 L125.2,93.7 L124.8,94.2 L124.2,94.7 L123.7,95.2 L123.1,95.5 L122.5,95.9 L121.9,96.2 L121.2,96.4 L120.6,96.6 L120.0,96.7 L119.4,96.7 L118.8,96.7 L118.2,96.6 L117.7,96.5 L117.1,96.3 L116.6,96.0 L108.8,91.5 L108.4,91.2 L107.9,90.8 L107.5,90.4 L107.2,89.9 L106.9,89.4 L106.6,88.8 L106.4,88.2 L106.2,87.6 L106.1,87.0 L106.0,86.3Z" fill="#fff" stroke="#1c1c1c" stroke-width="1.5" stroke-linejoin="round" /><ellipse cx="120.9" cy="88.6" rx="6.5" ry="8.6" transform="rotate(30 120.9 88.6)" fill="#fff" stroke="#1c1c1c" stroke-width="1.6" /><ellipse cx="120.9" cy="88.6" rx="3.0" ry="4.0" transform="rotate(30 120.9 88.6)" fill="#fff" stroke="#1c1c1c" stroke-width="2.2" /><path d="M125.8,79.3 L125.9,78.6 L126.0,77.9 L126.2,77.2 L126.4,76.5 L126.6,75.8 L126.9,75.1 L127.3,74.5 L127.7,73.8 L128.1,73.2 L128.6,72.6 L129.1,72.1 L129.6,71.6 L130.2,71.2 L130.8,70.8 L131.4,70.4 L132.0,70.2 L132.6,69.9 L133.2,69.8 L133.8,69.6 L134.5,69.6 L135.1,69.6 L135.6,69.7 L136.2,69.8 L136.7,70.0 L137.2,70.3 L145.0,74.8 L145.5,75.2 L145.9,75.5 L146.3,76.0 L146.7,76.4 L147.0,76.9 L147.2,77.5 L147.5,78.1 L147.6,78.7 L147.7,79.3 L147.8,80.0 L147.8,80.7 L147.8,81.4 L147.7,82.1 L147.5,82.8 L147.3,83.5 L147.0,84.2 L146.7,84.9 L146.4,85.6 L146.0,86.2 L145.5,86.8 L145.1,87.4 L144.6,87.9 L144.0,88.4 L143.4,88.8 L142.9,89.2 L142.3,89.6 L141.7,89.9 L141.0,90.1 L140.4,90.3 L139.8,90.4 L139.2,90.4 L138.6,90.4 L138.0,90.3 L137.4,90.2 L136.9,90.0 L136.4,89.8 L128.7,85.2 L128.2,84.9 L127.7,84.5 L127.3,84.1 L127.0,83.6 L126.7,83.1 L126.4,82.5 L126.2,82.0 L126.0,81.3 L125.9,80.7 L125.8,80.0Z" fill="#fff" stroke="#1c1c1c" stroke-width="1.5" stroke-linejoin="round" /><ellipse cx="140.7" cy="82.3" rx="6.5" ry="8.6" transform="rotate(30 140.7 82.3)" fill="#fff" stroke="#1c1c1c" stroke-width="1.6" /><ellipse cx="140.7" cy="82.3" rx="3.0" ry="4.0" transform="rotate(30 140.7 82.3)" fill="#fff" stroke="#1c1c1c" stroke-width="2.2" /><path d="M94.5,104.4 L94.6,103.7 L94.7,103.0 L94.9,102.3 L95.1,101.6 L95.3,100.9 L95.6,100.2 L96.0,99.6 L96.4,98.9 L96.8,98.3 L97.3,97.7 L97.8,97.2 L98.3,96.7 L98.9,96.3 L99.5,95.9 L100.1,95.5 L100.7,95.2 L101.3,95.0 L101.9,94.8 L102.5,94.7 L103.2,94.7 L103.8,94.7 L104.3,94.8 L104.9,94.9 L105.4,95.1 L106.0,95.4 L113.7,100.0 L114.2,100.3 L114.6,100.6 L115.0,101.0 L115.4,101.5 L115.7,102.0 L116.0,102.6 L116.2,103.2 L116.3,103.8 L116.4,104.4 L116.5,105.1 L116.5,105.8 L116.5,106.5 L116.3,107.2 L116.2,107.9 L116.0,108.6 L115.7,109.3 L115.4,110.0 L115.1,110.7 L114.7,111.3 L114.2,111.9 L113.8,112.5 L113.2,113.0 L112.7,113.5 L112.2,114.0 L111.6,114.3 L111.0,114.7 L110.4,115.0 L109.7,115.2 L109.1,115.4 L108.5,115.5 L107.9,115.5 L107.3,115.5 L106.7,115.4 L106.2,115.3 L105.6,115.1 L105.1,114.8 L97.3,110.3 L96.9,110.0 L96.4,109.6 L96.0,109.2 L95.7,108.7 L95.4,108.2 L95.1,107.6 L94.9,107.0 L94.7,106.4 L94.6,105.8 L94.5,105.1Z" fill="#fff" stroke="#1c1c1c" stroke-width="1.5" stroke-linejoin="round" /><ellipse cx="109.4" cy="107.4" rx="6.5" ry="8.6" transform="rotate(30 109.4 107.4)" fill="#fff" stroke="#1c1c1c" stroke-width="1.6" /><ellipse cx="109.4" cy="107.4" rx="3.0" ry="4.0" transform="rotate(30 109.4 107.4)" fill="#fff" stroke="#1c1c1c" stroke-width="2.2" /><path d="M131.2,97.0 L131.2,96.3 L131.3,95.6 L131.5,94.9 L131.7,94.2 L131.9,93.5 L132.2,92.8 L132.6,92.2 L133.0,91.5 L133.4,90.9 L133.9,90.3 L134.4,89.8 L134.9,89.3 L135.5,88.9 L136.1,88.5 L136.7,88.1 L137.3,87.8 L137.9,87.6 L138.5,87.5 L139.1,87.3 L139.8,87.3 L140.4,87.3 L140.9,87.4 L141.5,87.5 L142.0,87.7 L142.6,88.0 L150.3,92.5 L150.8,92.9 L151.2,93.2 L151.6,93.7 L152.0,94.1 L152.3,94.6 L152.6,95.2 L152.8,95.8 L152.9,96.4 L153.0,97.0 L153.1,97.7 L153.1,98.4 L153.1,99.1 L152.9,99.8 L152.8,100.5 L152.6,101.2 L152.3,101.9 L152.0,102.6 L151.7,103.3 L151.3,103.9 L150.8,104.5 L150.3,105.1 L149.8,105.6 L149.3,106.1 L148.8,106.5 L148.2,107.0 L147.6,107.3 L147.0,107.6 L146.3,107.8 L145.7,108.0 L145.1,108.1 L144.5,108.1 L143.9,108.1 L143.3,108.0 L142.8,107.9 L142.2,107.7 L141.7,107.5 L133.9,102.9 L133.5,102.6 L133.0,102.2 L132.6,101.8 L132.3,101.3 L132.0,100.8 L131.7,100.2 L131.5,99.7 L131.3,99.0 L131.2,98.4 L131.2,97.7Z" fill="#fff" stroke="#1c1c1c" stroke-width="1.5" stroke-linejoin="round" /><ellipse cx="146.0" cy="100.0" rx="6.5" ry="8.6" transform="rotate(30 146.0 100.0)" fill="#fff" stroke="#1c1c1c" stroke-width="1.6" /><ellipse cx="146.0" cy="100.0" rx="3.0" ry="4.0" transform="rotate(30 146.0 100.0)" fill="#fff" stroke="#1c1c1c" stroke-width="2.2" /><path d="M99.8,123.2 L99.8,122.5 L99.9,121.8 L100.1,121.1 L100.3,120.4 L100.5,119.7 L100.8,119.0 L101.2,118.4 L101.6,117.7 L102.0,117.1 L102.5,116.5 L103.0,116.0 L103.5,115.5 L104.1,115.1 L104.7,114.7 L105.3,114.3 L105.9,114.0 L106.5,113.8 L107.1,113.7 L107.7,113.5 L108.4,113.5 L109.0,113.5 L109.5,113.6 L110.1,113.7 L110.6,113.9 L111.2,114.2 L118.9,118.8 L119.4,119.1 L119.8,119.4 L120.2,119.8 L120.6,120.3 L120.9,120.8 L121.2,121.4 L121.4,122.0 L121.5,122.6 L121.6,123.2 L121.7,123.9 L121.7,124.6 L121.7,125.3 L121.5,126.0 L121.4,126.7 L121.2,127.4 L120.9,128.1 L120.6,128.8 L120.3,129.5 L119.9,130.1 L119.4,130.7 L119.0,131.3 L118.5,131.8 L117.9,132.3 L117.3,132.8 L116.8,133.2 L116.2,133.5 L115.6,133.8 L114.9,134.0 L114.3,134.2 L113.7,134.3 L113.1,134.3 L112.5,134.3 L111.9,134.2 L111.3,134.1 L110.8,133.9 L110.3,133.7 L102.5,129.1 L102.1,128.8 L101.6,128.4 L101.2,128.0 L100.9,127.5 L100.6,127.0 L100.3,126.4 L100.1,125.8 L99.9,125.2 L99.8,124.6 L99.8,123.9Z" fill="#fff" stroke="#1c1c1c" stroke-width="1.5" stroke-linejoin="round" /><ellipse cx="114.6" cy="126.2" rx="6.5" ry="8.6" transform="rotate(30 114.6 126.2)" fill="#fff" stroke="#1c1c1c" stroke-width="1.6" /><ellipse cx="114.6" cy="126.2" rx="3.0" ry="4.0" transform="rotate(30 114.6 126.2)" fill="#fff" stroke="#1c1c1c" stroke-width="2.2" /><path d="M119.7,115.9 L119.7,115.2 L119.8,114.5 L120.0,113.8 L120.2,113.1 L120.4,112.4 L120.7,111.7 L121.1,111.1 L121.5,110.4 L121.9,109.8 L122.4,109.2 L122.9,108.7 L123.4,108.2 L124.0,107.8 L124.6,107.4 L125.2,107.0 L125.8,106.8 L126.4,106.5 L127.0,106.3 L127.6,106.2 L128.3,106.2 L128.9,106.2 L129.4,106.3 L130.0,106.4 L130.5,106.6 L131.1,106.9 L138.8,111.5 L139.3,111.8 L139.7,112.1 L140.1,112.5 L140.5,113.0 L140.8,113.5 L141.1,114.1 L141.3,114.7 L141.4,115.3 L141.5,115.9 L141.6,116.6 L141.6,117.3 L141.6,118.0 L141.4,118.7 L141.3,119.4 L141.1,120.1 L140.8,120.8 L140.5,121.5 L140.2,122.2 L139.8,122.8 L139.3,123.4 L138.8,124.0 L138.3,124.5 L137.8,125.0 L137.2,125.5 L136.7,125.8 L136.1,126.2 L135.5,126.5 L134.8,126.7 L134.2,126.9 L133.6,127.0 L133.0,127.0 L132.4,127.0 L131.8,126.9 L131.2,126.8 L130.7,126.6 L130.2,126.3 L122.5,121.8 L122.0,121.5 L121.5,121.1 L121.1,120.7 L120.8,120.2 L120.5,119.7 L120.2,119.1 L120.0,118.5 L119.8,117.9 L119.7,117.3 L119.7,116.6Z" fill="#fff" stroke="#1c1c1c" stroke-width="1.5" stroke-linejoin="round" /><ellipse cx="134.5" cy="118.9" rx="6.5" ry="8.6" transform="rotate(30 134.5 118.9)" fill="#fff" stroke="#1c1c1c" stroke-width="1.6" /><ellipse cx="134.5" cy="118.9" rx="3.0" ry="4.0" transform="rotate(30 134.5 118.9)" fill="#fff" stroke="#1c1c1c" stroke-width="2.2" /><polyline points="81.3,54.3 80.7,54.0 80.0,53.9 79.3,53.9 78.5,54.0 77.7,54.3 77.0,54.7 76.2,55.2 75.5,55.8 74.8,56.5 74.2,57.4 73.6,58.3 73.1,59.2 72.7,60.2 72.4,61.3 72.3,62.3 72.2,63.4 72.2,64.4 72.4,65.4 72.6,66.3 73.0,67.2 73.4,68.0 74.0,68.7 74.6,69.3 75.3,69.7 76.1,70.1 76.9,70.3 77.8,70.4 78.7,70.3 79.6,70.1 80.6,69.8 81.5,69.4 82.3,68.8 83.2,68.2 83.9,67.5 84.6,66.6 85.2,65.8 85.8,64.8 86.2,63.9 86.5,62.9 86.7,61.9 86.8,61.0 86.8,60.1 86.7,59.2 86.5,58.4 86.2,57.7 85.8,57.1 85.3,56.6 84.7,56.2 84.1,56.0 83.4,55.9 82.6,55.9 81.9,56.0 81.1,56.3 80.3,56.6 79.6,57.2 78.8,57.8 78.1,58.5 77.5,59.3 77.0,60.2 76.5,61.2 76.1,62.2 75.8,63.3 75.6,64.3 75.5,65.4 75.6,66.4 75.7,67.4 76.0,68.3 76.3,69.2 76.8,70.0 77.3,70.7 78.0,71.2 78.7,71.7 79.5,72.1 80.3,72.3 81.2,72.3 82.1,72.3 83.0,72.1 83.9,71.8 84.8,71.4 85.7,70.8 86.5,70.2 87.3,69.4 88.0,68.6 88.6,67.7 89.1,66.8 89.5,65.9 89.9,64.9 90.1,63.9 90.2,63.0 90.2,62.1 90.1,61.2 89.9,60.4 89.6,59.7 89.1,59.1 88.6,58.6 88.1,58.2 87.4,58.0 86.7,57.8 86.0,57.8 85.2,58.0 84.4,58.2 83.7,58.6 82.9,59.1 82.2,59.8 81.5,60.5 80.9,61.3 80.3,62.2 79.8,63.2 79.5,64.2 79.2,65.2 79.0,66.3 78.9,67.3 78.9,68.4 79.1,69.4 79.3,70.3 79.7,71.2 80.1,72.0 80.7,72.6 81.3,73.2 82.0,73.7 82.8,74.0 83.7,74.2 84.5,74.3 85.4,74.3 86.4,74.1 87.3,73.8 88.2,73.3 89.0,72.8 89.9,72.2 90.6,71.4 91.3,70.6 91.9,69.7 92.5,68.8 92.9,67.8 93.2,66.9 93.5,65.9 93.6,64.9 93.6,64.0 93.5,63.2 93.2,62.4 92.9,61.7 92.5,61.1 92.0,60.6 91.4,60.2 90.8,59.9 90.1,59.8 89.3,59.8 88.6,60.0 87.8,60.2 87.0,60.6 86.3,61.1 85.5,61.8 84.9,62.5 84.2,63.3 83.7,64.2 83.2,65.2 82.8,66.2 82.5,67.2 82.3,68.3 82.3,69.3 82.3,70.4 82.4,71.3 82.7,72.3 83.0,73.2 83.5,73.9 84.0,74.6 84.7,75.2 85.4,75.7 86.2,76.0 87.0,76.2 87.9,76.3 88.8,76.3 89.7,76.1 90.6,75.8 91.5,75.3 92.4,74.8 93.2,74.1 94.0,73.4 94.7,72.6 95.3,71.7 95.8,70.8 96.3,69.8 96.6,68.8 96.8,67.9 96.9,66.9 96.9,66.0 96.8,65.2 96.6,64.4 96.3,63.7 95.9,63.1 95.4,62.6 94.8,62.2 94.1,61.9 93.4,61.8 92.7,61.8 91.9,61.9 91.2,62.2 90.4,62.6 89.6,63.1 88.9,63.7 88.2,64.5 87.6,65.3 87.0,66.2 86.6,67.1 86.2,68.2 85.9,69.2" fill="none" stroke="#1c1c1c" stroke-width="1.7" stroke-linejoin="round"/><ellipse cx="91.9" cy="70.0" rx="5.9" ry="8.2" transform="rotate(28 91.9 70.0)" fill="none" stroke="#1c1c1c" stroke-width="1.7" /><ellipse cx="91.9" cy="70.0" rx="4.5" ry="6.2" transform="rotate(28 91.9 70.0)" fill="none" stroke="#1c1c1c" stroke-width="1.0" /><ellipse cx="65.5" cy="53.0" rx="4.8" ry="6.2" transform="rotate(25 65.5 53.0)" fill="#fff" stroke="#1c1c1c" stroke-width="2.4" /><ellipse cx="66.2" cy="53.5" rx="2.2" ry="2.8" transform="rotate(25 66.2 53.5)" fill="#fff" stroke="#1c1c1c" stroke-width="1.6" /><path d="M45.1,46.6 L45.1,46.1 L45.3,45.6 L45.5,45.1 L45.7,44.6 L46.0,44.1 L46.4,43.8 L46.8,43.5 L47.2,43.2 L47.6,43.1 L48.0,43.0 L48.4,43.1 L48.8,43.2 L60.8,48.4 L61.1,48.6 L61.4,48.9 L61.6,49.2 L61.8,49.6 L61.9,50.1 L61.9,50.6 L61.9,51.1 L61.7,51.6 L61.5,52.1 L61.3,52.6 L61.0,53.0 L60.6,53.4 L60.2,53.7 L59.8,54.0 L59.4,54.1 L59.0,54.2 L58.6,54.1 L58.2,54.0 L46.2,48.8 L45.9,48.6 L45.6,48.3 L45.4,48.0 L45.2,47.5 L45.1,47.1Z" fill="#fff" stroke="#1c1c1c" stroke-width="1.5" stroke-linejoin="round" /><ellipse cx="59.5" cy="51.2" rx="2.2" ry="3.1" transform="rotate(25 59.5 51.2)" fill="#fff" stroke="#1c1c1c" stroke-width="1.2" /><line x1="51.0" y1="44.5" x2="48.3" y2="50.1" stroke="#1c1c1c" stroke-width="1.4"/><line x1="53.1" y1="45.7" x2="50.5" y2="51.3" stroke="#1c1c1c" stroke-width="1.4"/><line x1="55.3" y1="47.0" x2="52.6" y2="52.6" stroke="#1c1c1c" stroke-width="1.4"/><line x1="57.4" y1="48.3" x2="54.8" y2="53.9" stroke="#1c1c1c" stroke-width="1.4"/><path d="M40.3,45.0 L40.4,44.5 L40.4,44.1 L40.5,43.7 L40.6,43.3 L40.8,42.9 L40.9,42.5 L41.1,42.1 L41.4,41.7 L41.6,41.4 L41.9,41.0 L42.1,40.7 L42.4,40.4 L42.7,40.1 L43.1,39.9 L43.4,39.7 L43.7,39.5 L44.1,39.4 L44.4,39.3 L44.7,39.2 L45.1,39.2 L45.4,39.2 L45.7,39.3 L46.0,39.4 L46.3,39.5 L46.6,39.6 L49.2,41.1 L49.5,41.3 L49.7,41.5 L49.9,41.8 L50.1,42.0 L50.3,42.3 L50.4,42.7 L50.5,43.0 L50.6,43.4 L50.7,43.8 L50.7,44.1 L50.7,44.5 L50.6,45.0 L50.6,45.4 L50.5,45.8 L50.4,46.2 L50.2,46.6 L50.1,47.0 L49.9,47.4 L49.6,47.8 L49.4,48.1 L49.1,48.5 L48.9,48.8 L48.6,49.1 L48.3,49.4 L47.9,49.6 L47.6,49.8 L47.3,50.0 L46.9,50.1 L46.6,50.2 L46.3,50.2 L45.9,50.3 L45.6,50.3 L45.3,50.2 L45.0,50.1 L44.7,50.0 L44.4,49.9 L41.8,48.4 L41.5,48.2 L41.3,48.0 L41.1,47.7 L40.9,47.5 L40.7,47.2 L40.6,46.8 L40.5,46.5 L40.4,46.1 L40.3,45.8 L40.3,45.4Z" fill="#fff" stroke="#1c1c1c" stroke-width="1.6" stroke-linejoin="round" /><ellipse cx="46.8" cy="45.5" rx="3.6" ry="5.0" transform="rotate(25 46.8 45.5)" fill="#fff" stroke="#1c1c1c" stroke-width="1.6" /><path d="M58.8,246.9 L58.8,246.1 L58.9,245.3 L59.0,244.5 L59.2,243.7 L59.5,242.9 L59.8,242.1 L60.2,241.4 L60.6,240.6 L61.0,239.9 L61.5,239.2 L62.0,238.5 L62.6,237.9 L63.2,237.3 L63.8,236.8 L64.5,236.4 L65.1,236.0 L65.8,235.6 L66.4,235.3 L67.1,235.1 L67.8,235.0 L68.4,234.9 L69.1,234.9 L69.7,234.9 L70.3,235.1 L70.9,235.3 L71.4,235.6 L72.7,236.3 L73.2,236.6 L73.7,237.0 L74.1,237.5 L74.4,238.0 L74.8,238.6 L75.0,239.2 L75.2,239.8 L75.4,240.5 L75.5,241.2 L75.5,242.0 L75.5,242.7 L75.4,243.5 L75.3,244.3 L75.1,245.1 L74.8,245.9 L74.5,246.7 L74.2,247.5 L73.7,248.2 L73.3,249.0 L72.8,249.7 L72.3,250.3 L71.7,250.9 L71.1,251.5 L70.5,252.0 L69.9,252.5 L69.2,252.9 L68.5,253.2 L67.9,253.5 L67.2,253.7 L66.5,253.9 L65.9,253.9 L65.2,253.9 L64.6,253.9 L64.0,253.8 L63.4,253.6 L62.9,253.3 L61.6,252.5 L61.1,252.2 L60.6,251.8 L60.2,251.3 L59.9,250.8 L59.6,250.3 L59.3,249.7 L59.1,249.0 L58.9,248.3 L58.8,247.6Z" fill="#fff" stroke="#1c1c1c" stroke-width="2.0" stroke-linejoin="round" /><ellipse cx="67.8" cy="244.8" rx="6.9" ry="9.8" transform="rotate(30 67.8 244.8)" fill="#fff" stroke="#1c1c1c" stroke-width="2.0" /><ellipse cx="67.8" cy="244.8" rx="3.8" ry="5.4" transform="rotate(30 67.8 244.8)" fill="#fff" stroke="#1c1c1c" stroke-width="2.2" /><ellipse cx="67.8" cy="244.8" rx="5.3" ry="7.6" transform="rotate(30 67.8 244.8)" fill="none" stroke="#1c1c1c" stroke-width="1.1" /><path d="M71.2,255.5 L71.2,254.7 L71.3,253.9 L71.4,253.1 L71.6,252.2 L71.9,251.4 L72.2,250.6 L72.6,249.8 L73.0,249.0 L73.5,248.2 L74.0,247.5 L74.6,246.8 L75.2,246.1 L75.8,245.5 L76.4,245.0 L77.1,244.5 L77.8,244.1 L78.5,243.7 L79.2,243.4 L79.8,243.2 L80.5,243.0 L81.2,242.9 L81.9,242.9 L82.5,243.0 L83.1,243.1 L83.7,243.3 L84.3,243.6 L86.2,244.7 L86.7,245.0 L87.1,245.4 L87.5,245.9 L87.9,246.4 L88.2,247.0 L88.5,247.6 L88.7,248.3 L88.8,249.0 L88.9,249.8 L89.0,250.6 L88.9,251.3 L88.8,252.2 L88.7,253.0 L88.5,253.8 L88.2,254.7 L87.9,255.5 L87.5,256.3 L87.1,257.1 L86.6,257.9 L86.1,258.6 L85.5,259.3 L84.9,259.9 L84.3,260.5 L83.7,261.1 L83.0,261.6 L82.3,262.0 L81.7,262.4 L81.0,262.7 L80.3,262.9 L79.6,263.1 L78.9,263.2 L78.2,263.2 L77.6,263.1 L77.0,263.0 L76.4,262.8 L75.8,262.5 L74.0,261.4 L73.5,261.1 L73.0,260.7 L72.6,260.2 L72.2,259.7 L71.9,259.1 L71.6,258.5 L71.4,257.8 L71.3,257.1 L71.2,256.3Z" fill="#fff" stroke="#1c1c1c" stroke-width="2.0" stroke-linejoin="round" /><ellipse cx="81.0" cy="253.6" rx="7.0" ry="10.3" transform="rotate(30 81.0 253.6)" fill="#fff" stroke="#1c1c1c" stroke-width="2.0" /><ellipse cx="81.0" cy="253.6" rx="2.7" ry="4.0" transform="rotate(30 81.0 253.6)" fill="#fff" stroke="#1c1c1c" stroke-width="1.9" /><ellipse cx="93.0" cy="260.6" rx="7.4" ry="9.8" transform="rotate(28 93.0 260.6)" fill="#2a2a2a" stroke="#1c1c1c" stroke-width="1.6" /><path d="M95.6,261.2 L98.9,262.0 M95.8,259.5 L99.3,258.1 M95.3,258.1 L98.1,255.0 M94.1,257.3 L95.5,253.3 M92.7,257.5 L92.3,253.6 M91.3,258.4 L89.2,255.8 M90.4,260.0 L87.1,259.2 M90.2,261.7 L86.7,263.1 M90.7,263.1 L87.9,266.2 M91.9,263.9 L90.5,267.9 M93.3,263.7 L93.7,267.6 M94.7,262.8 L96.8,265.4 " fill="none" stroke="#fff" stroke-width="1.4" stroke-linejoin="round" stroke-linecap="round"/><ellipse cx="93.0" cy="260.6" rx="1.5" ry="2.0" transform="rotate(28 93.0 260.6)" fill="#fff" stroke="#1c1c1c" stroke-width="1.0" /><path d="M99.3,267.9 L99.3,267.2 L99.5,266.4 L99.8,265.7 L100.1,265.0 L100.5,264.3 L101.0,263.6 L101.5,263.1 L102.1,262.7 L102.6,262.3 L103.2,262.1 L103.8,262.0 L104.3,262.1 L104.8,262.2 L111.2,265.4 L111.6,265.7 L111.9,266.1 L112.1,266.6 L112.3,267.2 L112.3,267.9 L112.3,268.6 L112.1,269.4 L111.8,270.1 L111.5,270.8 L111.1,271.5 L110.6,272.1 L110.1,272.7 L109.5,273.1 L109.0,273.5 L108.4,273.7 L107.8,273.8 L107.3,273.7 L106.8,273.6 L100.4,270.4 L100.0,270.1 L99.7,269.7 L99.5,269.1 L99.3,268.6Z" fill="#fff" stroke="#1c1c1c" stroke-width="1.5" stroke-linejoin="round" /><ellipse cx="102.6" cy="266.3" rx="2.9" ry="4.6" transform="rotate(28 102.6 266.3)" fill="#fff" stroke="#1c1c1c" stroke-width="1.5" /><path d="M112.0,274.5 L112.0,274.1 L112.1,273.6 L112.2,273.1 L112.5,272.7 L112.7,272.2 L113.0,271.9 L113.3,271.5 L113.7,271.2 L114.1,271.0 L114.4,270.9 L114.8,270.8 L115.1,270.8 L115.4,270.9 L135.4,281.0 L135.6,281.2 L135.8,281.5 L135.9,281.8 L136.0,282.2 L136.1,282.6 L136.0,283.0 L135.9,283.5 L135.8,284.0 L135.5,284.4 L135.3,284.9 L135.0,285.2 L134.7,285.6 L134.3,285.9 L133.9,286.1 L133.6,286.2 L133.2,286.3 L132.9,286.3 L132.6,286.2 L112.6,276.1 L112.4,275.9 L112.2,275.6 L112.0,275.3 L112.0,274.9Z" fill="#fff" stroke="#1c1c1c" stroke-width="1.5" stroke-linejoin="round" /><ellipse cx="134.0" cy="283.6" rx="1.7" ry="2.9" transform="rotate(28 134.0 283.6)" fill="#fff" stroke="#1c1c1c" stroke-width="1.2" /><line x1="121.4" y1="274.0" x2="118.6" y2="279.1" stroke="#1c1c1c" stroke-width="1.2"/><line x1="128.4" y1="277.5" x2="125.6" y2="282.6" stroke="#1c1c1c" stroke-width="1.2"/><path d="M103.4,271.7 L103.4,270.9 L103.5,270.0 L103.7,269.2 L104.0,268.4 L104.3,267.5 L104.6,266.7 L105.0,266.0 L105.5,265.2 L106.0,264.6 L106.6,263.9 L107.2,263.3 L107.8,262.8 L108.5,262.3 L109.2,261.9 L109.9,261.6 L110.7,261.3 L111.4,261.1 L112.2,260.9 L112.9,260.9 L113.7,260.9 L114.4,261.0 L115.1,261.2 L115.8,261.4 L116.5,261.7 L119.2,263.3 L119.8,263.7 L120.4,264.2 L121.0,264.7 L121.5,265.2 L121.9,265.8 L122.3,266.5 L122.7,267.2 L123.0,268.0 L123.2,268.8 L123.3,269.6 L123.4,270.4 L123.4,271.2 L123.4,272.1 L123.3,272.9 L123.1,273.8 L122.9,274.6 L122.6,275.4 L122.2,276.2 L121.8,277.0 L121.3,277.7 L120.8,278.4 L120.3,279.1 L119.7,279.7 L119.0,280.2 L118.4,280.7 L117.7,281.1 L116.9,281.4 L116.2,281.7 L115.5,281.9 L114.7,282.0 L113.9,282.1 L113.2,282.1 L112.5,282.0 L111.8,281.8 L111.0,281.6 L110.4,281.3 L107.6,279.6 L107.0,279.3 L106.4,278.8 L105.9,278.3 L105.4,277.8 L104.9,277.1 L104.5,276.5 L104.2,275.8 L103.9,275.0 L103.7,274.2 L103.5,273.4 L103.4,272.6Z" fill="#fff" stroke="#1c1c1c" stroke-width="1.6" stroke-linejoin="round" /><ellipse cx="114.8" cy="272.3" rx="8.4" ry="10.0" transform="rotate(22 114.8 272.3)" fill="#fff" stroke="#1c1c1c" stroke-width="1.6" /><path d="M111.5,273.8 L111.5,273.4 L111.6,272.9 L111.8,272.4 L112.0,272.0 L112.2,271.6 L112.5,271.2 L112.8,270.8 L113.2,270.5 L113.6,270.3 L113.9,270.2 L114.2,270.1 L114.6,270.1 L114.9,270.2 L119.4,272.4 L119.6,272.6 L119.8,272.9 L120.0,273.2 L120.0,273.6 L120.0,274.0 L120.0,274.4 L119.9,274.9 L119.8,275.4 L119.5,275.8 L119.3,276.2 L119.0,276.6 L118.7,277.0 L118.3,277.3 L117.9,277.5 L117.6,277.6 L117.2,277.7 L116.9,277.7 L116.6,277.6 L112.1,275.4 L111.9,275.2 L111.7,274.9 L111.5,274.6 L111.5,274.2Z" fill="#fff" stroke="#1c1c1c" stroke-width="1.4" stroke-linejoin="round" /><path d="M116.0,276.0 L116.0,275.6 L116.1,275.1 L116.2,274.6 L116.5,274.2 L116.7,273.8 L117.0,273.4 L117.3,273.0 L117.7,272.7 L118.1,272.5 L118.4,272.4 L118.8,272.3 L119.1,272.3 L119.4,272.4 L126.4,275.9 L126.6,276.1 L126.8,276.4 L127.0,276.7 L127.0,277.1 L127.0,277.5 L127.0,277.9 L126.9,278.4 L126.8,278.9 L126.5,279.3 L126.3,279.8 L126.0,280.1 L125.7,280.5 L125.3,280.8 L124.9,281.0 L124.6,281.1 L124.2,281.2 L123.9,281.2 L123.6,281.1 L116.6,277.6 L116.4,277.4 L116.2,277.1 L116.0,276.8 L116.0,276.4Z" fill="#fff" stroke="#1c1c1c" stroke-width="1.4" stroke-linejoin="round" /><path d="M375.3,256.5 L375.4,255.7 L375.5,254.8 L375.6,254.0 L375.9,253.1 L376.2,252.3 L376.5,251.4 L376.9,250.6 L377.3,249.9 L377.8,249.1 L378.4,248.4 L379.0,247.7 L379.6,247.1 L380.2,246.6 L380.9,246.1 L381.6,245.6 L382.3,245.2 L383.0,244.9 L383.7,244.7 L384.4,244.6 L385.2,244.5 L385.9,244.4 L386.6,244.5 L387.2,244.6 L387.9,244.8 L388.5,245.1 L392.3,247.4 L392.9,247.8 L393.4,248.2 L393.9,248.6 L394.4,249.2 L394.7,249.8 L395.1,250.4 L395.3,251.1 L395.5,251.8 L395.7,252.6 L395.8,253.4 L395.8,254.2 L395.8,255.1 L395.6,255.9 L395.5,256.8 L395.2,257.6 L395.0,258.4 L394.6,259.3 L394.2,260.1 L393.8,260.9 L393.3,261.6 L392.8,262.3 L392.2,263.0 L391.6,263.6 L390.9,264.1 L390.2,264.6 L389.6,265.1 L388.8,265.5 L388.1,265.8 L387.4,266.0 L386.7,266.2 L386.0,266.2 L385.3,266.3 L384.6,266.2 L383.9,266.1 L383.3,265.9 L382.7,265.6 L378.8,263.3 L378.2,263.0 L377.7,262.6 L377.2,262.1 L376.8,261.5 L376.4,260.9 L376.1,260.3 L375.8,259.6 L375.6,258.9 L375.4,258.1 L375.4,257.3Z" fill="#fff" stroke="#1c1c1c" stroke-width="1.7" stroke-linejoin="round" /><ellipse cx="387.5" cy="256.5" rx="7.6" ry="10.3" transform="rotate(28 387.5 256.5)" fill="#fff" stroke="#1c1c1c" stroke-width="1.7" /><ellipse cx="387.5" cy="256.5" rx="5.9" ry="8.0" transform="rotate(28 387.5 256.5)" fill="#1e1e1e" stroke="#1c1c1c" stroke-width="1.0" /><ellipse cx="387.5" cy="256.5" rx="1.9" ry="2.6" transform="rotate(28 387.5 256.5)" fill="#555" stroke="#1c1c1c" stroke-width="0.6" /><path d="M450.1,294.5 L452.6,289.4 L455.6,291.2 L461.7,294.8 L459.4,299.4 L456.1,298.1Z" fill="#fff" stroke="#1c1c1c" stroke-width="1.3" stroke-linejoin="round" /><path d="M453.4,287.3 L455.1,282.0 L458.6,282.8 L464.6,286.3 L463.1,291.2 L459.4,290.9Z" fill="#fff" stroke="#1c1c1c" stroke-width="1.3" stroke-linejoin="round" /><path d="M455.6,279.8 L456.4,274.4 L460.2,274.3 L466.2,277.8 L465.5,282.7 L461.6,283.4Z" fill="#fff" stroke="#1c1c1c" stroke-width="1.3" stroke-linejoin="round" /><path d="M456.5,267.2 L460.4,266.0 L466.4,269.6 L466.5,274.2 L462.6,275.9 L456.6,272.3Z" fill="#fff" stroke="#1c1c1c" stroke-width="1.3" stroke-linejoin="round" /><path d="M455.3,260.5 L459.1,258.4 L465.1,261.9 L466.0,266.2 L462.3,268.7 L456.3,265.2Z" fill="#fff" stroke="#1c1c1c" stroke-width="1.3" stroke-linejoin="round" /><path d="M452.9,254.6 L456.5,251.7 L462.5,255.2 L464.2,258.9 L460.8,262.3 L454.7,258.7Z" fill="#fff" stroke="#1c1c1c" stroke-width="1.3" stroke-linejoin="round" /><path d="M449.4,249.9 L452.6,246.3 L458.6,249.8 L461.0,252.8 L458.0,256.7 L452.0,253.2Z" fill="#fff" stroke="#1c1c1c" stroke-width="1.3" stroke-linejoin="round" /><path d="M444.9,246.6 L447.5,242.3 L453.6,245.9 L456.6,247.9 L454.2,252.4 L448.2,248.8Z" fill="#fff" stroke="#1c1c1c" stroke-width="1.3" stroke-linejoin="round" /><path d="M439.6,244.7 L441.7,240.1 L445.1,241.2 L451.1,244.7 L449.5,249.4 L445.6,248.2Z" fill="#fff" stroke="#1c1c1c" stroke-width="1.3" stroke-linejoin="round" /><path d="M433.8,244.3 L435.2,239.6 L438.9,239.6 L445.0,243.2 L444.1,248.0 L439.9,247.9Z" fill="#fff" stroke="#1c1c1c" stroke-width="1.3" stroke-linejoin="round" /><path d="M427.8,245.6 L428.3,240.8 L432.3,239.9 L438.3,243.4 L438.2,248.1 L433.8,249.1Z" fill="#fff" stroke="#1c1c1c" stroke-width="1.3" stroke-linejoin="round" /><path d="M421.4,243.8 L425.4,241.9 L431.4,245.5 L432.1,249.8 L427.8,251.9 L421.7,248.3Z" fill="#fff" stroke="#1c1c1c" stroke-width="1.3" stroke-linejoin="round" /><path d="M414.9,248.4 L418.6,245.6 L424.6,249.2 L426.1,252.9 L421.9,256.0 L415.9,252.5Z" fill="#fff" stroke="#1c1c1c" stroke-width="1.3" stroke-linejoin="round" /><path d="M408.8,254.4 L412.2,250.8 L418.2,254.4 L420.4,257.4 L416.6,261.4 L410.6,257.9Z" fill="#fff" stroke="#1c1c1c" stroke-width="1.3" stroke-linejoin="round" /><path d="M403.6,261.6 L406.4,257.4 L412.5,260.9 L415.3,263.1 L412.1,267.8 L406.0,264.2Z" fill="#fff" stroke="#1c1c1c" stroke-width="1.3" stroke-linejoin="round" /><path d="M399.4,269.5 L401.6,264.9 L404.9,266.2 L410.9,269.7 L408.4,274.8 L405.4,273.1Z" fill="#fff" stroke="#1c1c1c" stroke-width="1.3" stroke-linejoin="round" /><path d="M396.4,277.9 L397.9,273.1 L401.6,273.4 L407.6,276.9 L405.9,282.3 L402.4,281.5Z" fill="#fff" stroke="#1c1c1c" stroke-width="1.3" stroke-linejoin="round" /><path d="M394.8,286.4 L395.6,281.6 L399.4,280.9 L405.4,284.4 L404.6,289.8 L400.8,290.0Z" fill="#fff" stroke="#1c1c1c" stroke-width="1.3" stroke-linejoin="round" /><path d="M394.6,290.0 L398.4,288.4 L404.4,291.9 L404.5,297.1 L400.7,298.3 L394.6,294.7Z" fill="#fff" stroke="#1c1c1c" stroke-width="1.3" stroke-linejoin="round" /><path d="M395.0,298.1 L398.7,295.5 L404.7,299.1 L405.7,303.8 L401.9,305.9 L395.9,302.4Z" fill="#fff" stroke="#1c1c1c" stroke-width="1.3" stroke-linejoin="round" /><path d="M396.9,305.3 L400.3,302.0 L406.3,305.6 L408.1,309.6 L404.6,312.6 L398.5,309.0Z" fill="#fff" stroke="#1c1c1c" stroke-width="1.3" stroke-linejoin="round" /><path d="M400.1,311.5 L403.0,307.5 L409.1,311.1 L411.7,314.3 L408.5,318.0 L402.5,314.4Z" fill="#fff" stroke="#1c1c1c" stroke-width="1.3" stroke-linejoin="round" /><path d="M404.5,316.3 L406.8,311.9 L412.9,315.4 L416.2,317.7 L413.5,321.9 L407.5,318.4Z" fill="#fff" stroke="#1c1c1c" stroke-width="1.3" stroke-linejoin="round" /><path d="M409.9,319.6 L411.6,314.8 L415.4,316.0 L421.4,319.6 L419.4,324.2 L415.9,323.1Z" fill="#fff" stroke="#1c1c1c" stroke-width="1.3" stroke-linejoin="round" /><path d="M416.1,321.1 L417.0,316.3 L421.2,316.4 L427.2,319.9 L425.9,324.7 L422.1,324.6Z" fill="#fff" stroke="#1c1c1c" stroke-width="1.3" stroke-linejoin="round" /><path d="M422.7,320.8 L422.9,316.2 L427.2,315.1 L433.2,318.7 L432.7,323.4 L428.8,324.4Z" fill="#fff" stroke="#1c1c1c" stroke-width="1.3" stroke-linejoin="round" /><path d="M428.9,314.5 L433.3,312.4 L439.3,315.9 L439.6,320.4 L435.6,322.4 L429.6,318.8Z" fill="#fff" stroke="#1c1c1c" stroke-width="1.3" stroke-linejoin="round" /><path d="M435.0,311.3 L439.1,308.2 L445.1,311.8 L446.2,315.8 L442.4,318.6 L436.4,315.1Z" fill="#fff" stroke="#1c1c1c" stroke-width="1.3" stroke-linejoin="round" /><path d="M440.7,306.8 L444.4,302.9 L450.4,306.4 L452.2,309.8 L448.9,313.4 L442.8,309.9Z" fill="#fff" stroke="#1c1c1c" stroke-width="1.3" stroke-linejoin="round" /><path d="M445.8,301.1 L449.0,296.5 L455.0,300.1 L457.5,302.7 L454.6,306.9 L448.6,303.4Z" fill="#fff" stroke="#1c1c1c" stroke-width="1.3" stroke-linejoin="round" /><path d="M466.6,300.7 L468.1,297.2 L469.5,293.8 L470.6,290.2 L471.4,286.6 L472.0,283.1 L472.4,279.6 L472.5,276.1 L472.4,272.7 L472.0,269.5 L471.4,266.3 L470.5,263.4 L469.4,260.6 L468.1,258.0 L466.5,255.7 L464.8,253.6 L462.8,251.7 L460.7,250.1 L458.4,248.8 L456.0,247.8 L453.4,247.1 L450.8,246.7 L448.0,246.6 L445.2,246.9 L442.4,247.4 L439.5,248.2 L436.6,249.4 L433.8,250.8 L430.9,252.5 L428.2,254.5 L425.6,256.7 L423.0,259.2 L420.6,261.9 L418.3,264.7 L416.2,267.8 L414.2,271.0 L412.5,274.3 L411.0,277.7 L409.6,281.2 L408.5,284.7 L407.7,288.3 L407.1,291.8 L406.7,295.4 L406.6,298.8 L406.7,302.2 L407.1,305.5 L407.7,308.6 L408.6,311.6 L409.7,314.3 L411.0,316.9 L412.6,319.3 L414.3,321.4 L416.3,323.2 L418.4,324.8 L420.7,326.1 L423.1,327.1 L425.7,327.8 L428.4,328.2 L431.1,328.3 L433.9,328.1 L436.8,327.5 L439.6,326.7 L442.5,325.6 L445.4,324.1 L448.2,322.4 L450.9,320.4 L453.6,318.2 L456.1,315.8 L458.5,313.1 L460.8,310.2 L462.9,307.2 L464.9,304.0Z" fill="#fff" stroke="#1c1c1c" stroke-width="1.9" stroke-linejoin="round" /><path d="M470.1,302.7 L471.6,299.3 L472.9,295.8 L474.0,292.2 L474.9,288.7 L475.5,285.1 L475.9,281.6 L476.0,278.1 L475.8,274.8 L475.5,271.5 L474.8,268.4 L474.0,265.4 L472.9,262.6 L471.5,260.0 L470.0,257.7 L468.2,255.6 L466.3,253.7 L464.1,252.1 L461.8,250.9 L459.4,249.8 L456.9,249.1 L454.2,248.8 L451.5,248.7 L448.7,248.9 L445.8,249.4 L442.9,250.3 L440.1,251.4 L437.2,252.8 L434.4,254.5 L431.7,256.5 L429.0,258.7 L426.4,261.2 L424.0,263.9 L421.7,266.8 L419.6,269.8 L417.7,273.0 L415.9,276.3 L414.4,279.7 L413.1,283.2 L412.0,286.8 L411.1,290.3 L410.5,293.9 L410.1,297.4 L410.0,300.9 L410.2,304.2 L410.5,307.5 L411.2,310.6 L412.0,313.6 L413.1,316.4 L414.5,319.0 L416.0,321.3 L417.8,323.4 L419.7,325.3 L421.9,326.9 L424.2,328.1 L426.6,329.2 L429.1,329.9 L431.8,330.2 L434.5,330.3 L437.3,330.1 L440.2,329.6 L443.1,328.7 L445.9,327.6 L448.8,326.2 L451.6,324.5 L454.3,322.5 L457.0,320.3 L459.6,317.8 L462.0,315.1 L464.3,312.2 L466.4,309.2 L468.3,306.0Z" fill="#fff" stroke="#1c1c1c" stroke-width="1.9" stroke-linejoin="round" /><ellipse cx="443.0" cy="289.5" rx="26.2" ry="37.5" transform="rotate(26 443.0 289.5)" fill="none" stroke="#1c1c1c" stroke-width="1.4" /><ellipse cx="443.9" cy="290.0" rx="21.0" ry="30.0" transform="rotate(26 443.9 290.0)" fill="none" stroke="#1c1c1c" stroke-width="1.2" /><ellipse cx="438.3" cy="274.6" rx="2.2" ry="2.9" transform="rotate(26 438.3 274.6)" fill="#fff" stroke="#1c1c1c" stroke-width="1.3" /><ellipse cx="457.8" cy="267.9" rx="2.2" ry="2.9" transform="rotate(26 457.8 267.9)" fill="#fff" stroke="#1c1c1c" stroke-width="1.3" /><ellipse cx="463.0" cy="288.0" rx="2.2" ry="2.9" transform="rotate(26 463.0 288.0)" fill="#fff" stroke="#1c1c1c" stroke-width="1.3" /><ellipse cx="451.0" cy="308.2" rx="2.2" ry="2.9" transform="rotate(26 451.0 308.2)" fill="#fff" stroke="#1c1c1c" stroke-width="1.3" /><ellipse cx="431.6" cy="313.5" rx="2.2" ry="2.9" transform="rotate(26 431.6 313.5)" fill="#fff" stroke="#1c1c1c" stroke-width="1.3" /><ellipse cx="427.1" cy="293.3" rx="2.2" ry="2.9" transform="rotate(26 427.1 293.3)" fill="#fff" stroke="#1c1c1c" stroke-width="1.3" /><path d="M432.8,291.8 L432.8,290.8 L433.0,289.7 L433.2,288.6 L433.4,287.6 L433.8,286.6 L434.2,285.6 L434.8,284.6 L435.4,283.7 L436.0,282.8 L436.7,282.0 L437.5,281.3 L438.3,280.6 L439.1,280.0 L440.0,279.4 L441.0,279.0 L441.9,278.6 L442.9,278.4 L443.8,278.2 L444.8,278.1 L445.8,278.1 L446.7,278.2 L447.6,278.4 L448.5,278.7 L449.4,279.0 L450.2,279.5 L452.8,281.0 L453.6,281.6 L454.3,282.2 L454.9,282.9 L455.6,283.6 L456.1,284.4 L456.5,285.3 L456.9,286.2 L457.2,287.2 L457.4,288.2 L457.6,289.2 L457.6,290.3 L457.6,291.3 L457.4,292.4 L457.2,293.4 L457.0,294.5 L456.6,295.5 L456.2,296.5 L455.6,297.5 L455.1,298.4 L454.4,299.3 L453.7,300.1 L452.9,300.8 L452.1,301.5 L451.3,302.1 L450.4,302.6 L449.5,303.1 L448.5,303.4 L447.6,303.7 L446.6,303.9 L445.6,304.0 L444.7,304.0 L443.7,303.9 L442.8,303.7 L441.9,303.4 L441.0,303.0 L440.2,302.6 L437.6,301.1 L436.8,300.5 L436.1,299.9 L435.5,299.2 L434.9,298.5 L434.3,297.6 L433.9,296.8 L433.5,295.9 L433.2,294.9 L433.0,293.9 L432.9,292.9Z" fill="#fff" stroke="#1c1c1c" stroke-width="1.4" stroke-linejoin="round" /><ellipse cx="446.5" cy="291.8" rx="10.8" ry="12.5" transform="rotate(26 446.5 291.8)" fill="#fff" stroke="#1c1c1c" stroke-width="1.5" /><ellipse cx="446.9" cy="292.1" rx="8.6" ry="10.0" transform="rotate(26 446.9 292.1)" fill="none" stroke="#1c1c1c" stroke-width="1.1" /><path d="M450.1,293.6 L450.6,292.4 L451.7,292.5 L452.0,291.0 L450.9,291.1 L450.9,289.9 L452.1,289.5 L451.9,288.1 L450.8,288.8 L450.4,287.9 L451.4,286.9 L450.6,285.9 L449.8,287.1 L449.0,286.6 L449.7,285.2 L448.6,284.9 L448.2,286.3 L447.2,286.3 L447.4,284.9 L446.1,285.3 L446.2,286.6 L445.2,287.2 L444.9,286.0 L443.8,286.9 L444.3,287.9 L443.5,288.9 L442.7,288.2 L441.9,289.6 L442.9,290.0 L442.4,291.2 L441.3,291.1 L441.0,292.6 L442.1,292.5 L442.1,293.7 L440.9,294.1 L441.1,295.5 L442.2,294.8 L442.6,295.7 L441.6,296.7 L442.4,297.7 L443.2,296.5 L444.0,297.0 L443.3,298.4 L444.4,298.7 L444.8,297.3 L445.8,297.3 L445.6,298.7 L446.9,298.3 L446.8,297.0 L447.8,296.4 L448.1,297.6 L449.2,296.7 L448.7,295.7 L449.5,294.7 L450.3,295.4 L451.1,294.0Z" fill="#fff" stroke="#1c1c1c" stroke-width="1.2" stroke-linejoin="round" /><path d="M443.5,287.8 L449.5,287.8 M443.5,289.8 L449.5,289.8 M443.5,291.8 L449.5,291.8 M443.5,293.8 L449.5,293.8 M443.5,295.8 L449.5,295.8 " fill="none" stroke="#1c1c1c" stroke-width="1.0" stroke-linejoin="round" /><path d="M411.7,269.5 L412.4,268.2 L413.0,266.9 L413.4,265.6 L413.8,264.3 L414.1,263.0 L414.2,261.7 L414.3,260.5 L414.2,259.3 L414.0,258.2 L413.7,257.1 L413.3,256.1 L412.8,255.3 L412.2,254.5 L411.5,253.8 L410.8,253.3 L409.9,252.9 L409.0,252.6 L408.0,252.5 L407.0,252.5 L406.0,252.6 L404.9,252.9 L403.9,253.3 L402.8,253.9 L401.7,254.5 L400.7,255.3 L399.7,256.2 L398.7,257.2 L397.9,258.2 L397.0,259.3 L396.3,260.5 L395.6,261.8 L395.0,263.1 L394.6,264.4 L394.2,265.7 L393.9,267.0 L393.8,268.3 L393.7,269.5 L393.8,270.7 L394.0,271.8 L394.3,272.9 L394.7,273.9 L395.2,274.7 L395.8,275.5 L396.5,276.2 L397.2,276.7 L398.1,277.1 L399.0,277.4 L400.0,277.5 L401.0,277.5 L402.0,277.4 L403.1,277.1 L404.1,276.7 L405.2,276.1 L406.3,275.5 L407.3,274.7 L408.3,273.8 L409.3,272.8 L410.1,271.8 L411.0,270.7Z" fill="#fff" stroke="#1c1c1c" stroke-width="1.8" stroke-linejoin="round" /><path d="M395,272 L390.5,281 L396.5,278.5 L398.5,283 L404,276 Z" fill="#fff" stroke="#1c1c1c" stroke-width="1.5" stroke-linejoin="round" /><path d="M409,254 L413.5,256.5 L413,259 L410,258 Z" fill="#fff" stroke="#1c1c1c" stroke-width="1.3" stroke-linejoin="round" /><ellipse cx="404.4" cy="265.3" rx="4.2" ry="6.8" transform="rotate(30 404.4 265.3)" fill="#fff" stroke="#1c1c1c" stroke-width="2.0" /><ellipse cx="404.4" cy="265.3" rx="2.3" ry="4.2" transform="rotate(30 404.4 265.3)" fill="none" stroke="#1c1c1c" stroke-width="1.0" /><path d="M502.4,296.2 L511.6,288.6 L533.2,301.2 L533.9,305.5 L525.5,312.4 L504.0,299.7Z" fill="#fff" stroke="#1c1c1c" stroke-width="1.5" stroke-linejoin="round" /><path d="M511.6,288.5 L502.4,296.2 L504.0,299.7 L512.3,292.8Z" fill="#fff" stroke="#1c1c1c" stroke-width="1.3" stroke-linejoin="round" /><line x1="502.4" y1="296.2" x2="523.9" y2="308.9" stroke="#1c1c1c" stroke-width="1.2"/><path d="M520.0,289.2 L520.1,284.5 L529.8,283.2 L551.3,295.9 L550.2,300.7 L541.5,301.9Z" fill="#fff" stroke="#1c1c1c" stroke-width="1.5" stroke-linejoin="round" /><path d="M529.8,283.2 L520.2,284.5 L520.0,289.2 L528.6,288.0Z" fill="#fff" stroke="#1c1c1c" stroke-width="1.3" stroke-linejoin="round" /><line x1="520.2" y1="284.5" x2="541.7" y2="297.2" stroke="#1c1c1c" stroke-width="1.2"/><path d="M488.9,317.0 L495.3,305.1 L516.8,317.8 L519.2,320.3 L513.4,331.1 L510.4,329.7Z" fill="#fff" stroke="#1c1c1c" stroke-width="1.5" stroke-linejoin="round" /><path d="M495.3,305.0 L488.9,317.0 L491.9,318.3 L497.7,307.6Z" fill="#fff" stroke="#1c1c1c" stroke-width="1.3" stroke-linejoin="round" /><line x1="488.9" y1="317.0" x2="510.4" y2="329.7" stroke="#1c1c1c" stroke-width="1.2"/><path d="M535.5,289.7 L537.5,285.1 L559.0,297.8 L566.4,303.2 L563.7,307.2 L542.2,294.5Z" fill="#fff" stroke="#1c1c1c" stroke-width="1.5" stroke-linejoin="round" /><path d="M544.9,290.5 L537.5,285.1 L535.5,289.7 L542.2,294.5Z" fill="#fff" stroke="#1c1c1c" stroke-width="1.3" stroke-linejoin="round" /><line x1="544.9" y1="290.5" x2="566.4" y2="303.2" stroke="#1c1c1c" stroke-width="1.2"/><path d="M483.3,341.3 L485.1,328.3 L488.6,328.5 L510.1,341.2 L508.4,352.9 L504.8,354.0Z" fill="#fff" stroke="#1c1c1c" stroke-width="1.5" stroke-linejoin="round" /><path d="M485.2,328.3 L483.3,341.3 L486.9,340.2 L488.5,328.5Z" fill="#fff" stroke="#1c1c1c" stroke-width="1.3" stroke-linejoin="round" /><line x1="483.3" y1="341.3" x2="504.8" y2="354.0" stroke="#1c1c1c" stroke-width="1.2"/><path d="M546.5,301.0 L549.7,297.7 L571.2,310.4 L574.4,321.1 L570.9,323.3 L549.4,310.6Z" fill="#fff" stroke="#1c1c1c" stroke-width="1.5" stroke-linejoin="round" /><path d="M552.9,308.4 L549.7,297.7 L546.5,301.0 L549.4,310.6Z" fill="#fff" stroke="#1c1c1c" stroke-width="1.3" stroke-linejoin="round" /><line x1="552.9" y1="308.4" x2="574.4" y2="321.1" stroke="#1c1c1c" stroke-width="1.2"/><path d="M483.9,352.0 L487.4,349.8 L509.0,362.5 L511.9,372.1 L508.7,375.4 L487.1,362.7Z" fill="#fff" stroke="#1c1c1c" stroke-width="1.5" stroke-linejoin="round" /><path d="M483.9,352.0 L487.1,362.7 L490.3,359.4 L487.4,349.8Z" fill="#fff" stroke="#1c1c1c" stroke-width="1.3" stroke-linejoin="round" /><line x1="487.1" y1="362.7" x2="508.7" y2="375.4" stroke="#1c1c1c" stroke-width="1.2"/><path d="M548.3,331.9 L550.0,320.2 L553.5,319.0 L575.1,331.7 L573.2,344.8 L569.8,344.6Z" fill="#fff" stroke="#1c1c1c" stroke-width="1.5" stroke-linejoin="round" /><path d="M551.7,332.1 L553.5,319.0 L550.0,320.2 L548.3,331.9Z" fill="#fff" stroke="#1c1c1c" stroke-width="1.3" stroke-linejoin="round" /><line x1="551.7" y1="332.1" x2="573.2" y2="344.8" stroke="#1c1c1c" stroke-width="1.2"/><path d="M491.9,369.9 L494.6,365.9 L516.2,378.6 L522.8,383.4 L520.9,388.0 L499.4,375.3Z" fill="#fff" stroke="#1c1c1c" stroke-width="1.5" stroke-linejoin="round" /><path d="M491.9,369.9 L499.4,375.3 L501.3,370.7 L494.6,365.9Z" fill="#fff" stroke="#1c1c1c" stroke-width="1.3" stroke-linejoin="round" /><line x1="499.4" y1="375.3" x2="520.9" y2="388.0" stroke="#1c1c1c" stroke-width="1.2"/><path d="M539.2,352.8 L545.0,342.0 L548.0,343.4 L569.5,356.1 L563.1,368.0 L541.5,355.3Z" fill="#fff" stroke="#1c1c1c" stroke-width="1.5" stroke-linejoin="round" /><path d="M541.5,355.3 L548.0,343.4 L544.9,342.0 L539.2,352.8Z" fill="#fff" stroke="#1c1c1c" stroke-width="1.3" stroke-linejoin="round" /><line x1="541.5" y1="355.3" x2="563.1" y2="368.0" stroke="#1c1c1c" stroke-width="1.2"/><path d="M507.1,377.2 L508.2,372.4 L516.9,371.2 L538.4,383.9 L538.2,388.6 L528.6,389.9Z" fill="#fff" stroke="#1c1c1c" stroke-width="1.5" stroke-linejoin="round" /><path d="M507.1,377.2 L516.7,375.9 L516.9,371.2 L508.2,372.4Z" fill="#fff" stroke="#1c1c1c" stroke-width="1.3" stroke-linejoin="round" /><line x1="507.1" y1="377.2" x2="528.6" y2="389.9" stroke="#1c1c1c" stroke-width="1.2"/><path d="M524.5,367.6 L532.8,360.7 L554.4,373.4 L556.0,376.9 L546.7,384.5 L525.2,371.8Z" fill="#fff" stroke="#1c1c1c" stroke-width="1.5" stroke-linejoin="round" /><path d="M525.2,371.8 L534.5,364.2 L532.8,360.7 L524.5,367.6Z" fill="#fff" stroke="#1c1c1c" stroke-width="1.3" stroke-linejoin="round" /><line x1="525.2" y1="371.8" x2="546.7" y2="384.5" stroke="#1c1c1c" stroke-width="1.2"/><path d="M501.9,357.8 L502.0,354.4 L502.2,350.9 L502.7,347.4 L503.3,343.8 L504.1,340.3 L505.1,336.8 L506.2,333.2 L507.5,329.8 L509.0,326.4 L510.6,323.1 L512.4,319.9 L514.2,316.8 L516.3,313.8 L518.4,310.9 L520.6,308.2 L523.0,305.7 L525.4,303.4 L527.9,301.3 L530.4,299.3 L533.0,297.6 L535.6,296.1 L538.3,294.8 L540.9,293.8 L543.6,293.0 L546.2,292.4 L548.8,292.1 L551.4,292.0 L553.9,292.2 L556.3,292.6 L558.7,293.3 L560.9,294.2 L563.1,295.4 L575.1,302.5 L577.2,303.9 L579.1,305.5 L580.9,307.3 L582.6,309.4 L584.1,311.6 L585.4,314.0 L586.6,316.6 L587.6,319.3 L588.5,322.2 L589.1,325.3 L589.6,328.4 L589.9,331.7 L590.0,335.1 L590.0,338.5 L589.7,342.0 L589.3,345.5 L588.6,349.1 L587.9,352.6 L586.9,356.1 L585.7,359.6 L584.4,363.1 L583.0,366.5 L581.4,369.8 L579.6,373.0 L577.7,376.1 L575.7,379.1 L573.5,382.0 L571.3,384.6 L569.0,387.1 L566.6,389.5 L564.1,391.6 L561.5,393.6 L559.0,395.3 L556.3,396.8 L553.7,398.1 L551.0,399.1 L548.4,399.9 L545.7,400.5 L543.1,400.8 L540.6,400.9 L538.1,400.7 L535.6,400.2 L533.3,399.6 L531.0,398.6 L528.9,397.5 L516.8,390.4 L514.8,389.0 L512.8,387.4 L511.0,385.6 L509.4,383.5 L507.9,381.3 L506.5,378.9 L505.4,376.3 L504.3,373.5 L503.5,370.6 L502.8,367.6 L502.3,364.4 L502.0,361.2Z" fill="#c8c8c8" stroke="#1c1c1c" stroke-width="1.7" stroke-linejoin="round" /><path d="M571.8,355.7 L583.8,362.9 M573.3,351.5 L585.4,358.6 M574.7,347.2 L586.7,354.3 M575.7,342.8 L587.8,349.9 M576.5,338.5 L588.6,345.6 M577.0,334.2 L589.1,341.3 M577.2,329.9 L589.3,337.0 M577.2,325.8 L589.2,332.9 M576.8,321.7 L588.9,328.9 M576.2,317.9 L588.3,325.0 M575.3,314.2 L587.4,321.3 M574.2,310.8 L586.2,317.9 M572.7,307.6 L584.8,314.7 M571.0,304.6 L583.1,311.7 M569.1,302.0 L581.2,309.1 M567.0,299.6 L579.1,306.8 M564.7,297.6 L576.7,304.8 M562.1,296.0 L574.2,303.1 M559.4,294.7 L571.5,301.8 M556.6,293.7 L568.6,300.8 M553.6,293.2 L565.7,300.3 M550.5,293.0 L562.6,300.1 M547.4,293.2 L559.4,300.3 M544.2,293.8 L556.2,300.9 M540.9,294.7 L553.0,301.8 M537.7,296.0 L549.7,303.1 M534.4,297.7 L546.5,304.8 M531.2,299.7 L543.3,306.8 M528.1,302.0 L540.1,309.2 M525.1,304.7 L537.1,311.8 M522.1,307.6 L534.2,314.8 M519.3,310.9 L531.4,318.0 M516.7,314.3 L528.8,321.4 M514.3,318.0 L526.3,325.1 M512.0,321.9 L524.0,329.0 M509.9,325.9 L522.0,333.0 M508.1,330.0 L520.2,337.1 M506.5,334.3 L518.6,341.4 M505.2,338.6 L517.3,345.7 M504.2,342.9 L516.2,350.1 M503.4,347.3 L515.4,354.4 M502.9,351.6 L514.9,358.7 M502.6,355.9 L514.7,363.0 M502.7,360.0 L514.8,367.1 M503.0,364.0 L515.1,371.1 M503.7,367.9 L515.7,375.0 M504.6,371.6 L516.6,378.7 M505.7,375.0 L517.8,382.1 M507.2,378.2 L519.2,385.3 M508.8,381.2 L520.9,388.3 M510.8,383.8 L522.8,390.9 M512.9,386.1 L524.9,393.2 M515.2,388.1 L527.3,395.2 M517.8,389.8 L529.8,396.9 M520.5,391.1 L532.5,398.2 M523.3,392.0 L535.4,399.2 M526.3,392.6 L538.3,399.7 M529.4,392.8 L541.4,399.9 M532.5,392.6 L544.6,399.7 M535.7,392.0 L547.8,399.1 M539.0,391.1 L551.0,398.2 M542.2,389.8 L554.3,396.9 M545.5,388.1 L557.5,395.2 M548.7,386.1 L560.7,393.2 M551.8,383.7 L563.9,390.8 M554.8,381.1 L566.9,388.2 M557.8,378.1 L569.8,385.2 M560.6,374.9 L572.6,382.0 M563.2,371.5 L575.2,378.6 M565.6,367.8 L577.7,374.9 M567.9,363.9 L580.0,371.0 M569.9,359.9 L582.0,367.0 " fill="none" stroke="#1c1c1c" stroke-width="1.6" stroke-linejoin="round" /><path d="M582.0,362.1 L584.9,362.0 L585.3,360.9 L583.1,359.1 L583.5,358.1 L586.4,357.7 L586.7,356.6 L584.4,355.1 L584.7,354.0 L587.7,353.3 L588.0,352.2 L585.5,351.0 L585.7,349.9 L588.7,348.8 L588.9,347.7 L586.3,346.9 L586.5,345.8 L589.4,344.4 L589.6,343.3 L586.8,342.8 L586.9,341.8 L589.9,340.0 L589.9,338.9 L587.1,338.8 L587.1,337.8 L590.0,335.7 L590.0,334.6 L587.1,334.8 L587.1,333.9 L589.9,331.5 L589.8,330.5 L586.9,331.0 L586.8,330.1 L589.5,327.5 L589.3,326.5 L586.4,327.3 L586.2,326.4 L588.8,323.6 L588.5,322.6 L585.6,323.8 L585.3,323.0 L587.8,319.9 L587.5,319.0 L584.5,320.5 L584.2,319.7 L586.5,316.4 L586.2,315.6 L583.2,317.4 L582.9,316.7 L585.0,313.2 L584.6,312.5 L581.7,314.6 L581.3,313.9 L583.2,310.3 L582.8,309.6 L580.0,312.0 L579.5,311.5 L581.2,307.7 L580.7,307.1 L578.0,309.8 L577.5,309.3 L579.0,305.4 L578.4,304.9 L575.9,307.8 L575.3,307.4 L576.6,303.4 L575.9,303.0 L573.5,306.2 L572.9,305.8 L573.9,301.8 L573.2,301.5 L571.0,304.8 L570.4,304.6 L571.1,300.6 L570.4,300.3 L568.4,303.9 L567.7,303.7 L568.2,299.7 L567.5,299.6 L565.6,303.3 L564.9,303.2 L565.1,299.2 L564.4,299.2 L562.7,303.0 L562.0,303.0 L562.0,299.2 L561.2,299.2 L559.7,303.1 L559.0,303.2 L558.7,299.5 L557.9,299.6 L556.7,303.5 L556.0,303.7 L555.5,300.1 L554.6,300.4 L553.7,304.3 L552.9,304.6 L552.1,301.2 L551.3,301.5 L550.6,305.5 L549.8,305.8 L548.8,302.6 L548.0,303.0 L547.5,307.0 L546.8,307.4 L545.5,304.4 L544.7,304.9 L544.5,308.8 L543.8,309.3 L542.3,306.6 L541.5,307.1 L541.6,310.9 L540.8,311.5 L539.1,309.0 L538.4,309.7 L538.7,313.4 L538.0,314.0 L536.1,311.8 L535.3,312.5 L535.9,316.1 L535.2,316.8 L533.1,314.9 L532.4,315.7 L533.2,319.0 L532.6,319.8 L530.3,318.2 L529.6,319.1 L530.7,322.2 L530.1,323.1 L527.7,321.8 L527.0,322.7 L528.3,325.7 L527.8,326.5 L525.2,325.6 L524.6,326.6 L526.2,329.3 L525.7,330.2 L523.0,329.6 L522.4,330.6 L524.2,333.0 L523.7,334.0 L520.9,333.7 L520.5,334.8 L522.4,336.9 L522.0,337.9 L519.1,338.0 L518.7,339.1 L520.9,340.9 L520.5,341.9 L517.6,342.3 L517.3,343.4 L519.6,344.9 L519.3,346.0 L516.3,346.7 L516.0,347.8 L518.5,349.0 L518.3,350.1 L515.3,351.2 L515.1,352.3 L517.7,353.1 L517.5,354.2 L514.6,355.6 L514.4,356.7 L517.2,357.2 L517.1,358.2 L514.1,360.0 L514.1,361.1 L516.9,361.2 L516.9,362.2 L514.0,364.3 L514.0,365.4 L516.9,365.2 L516.9,366.1 L514.1,368.5 L514.2,369.5 L517.1,369.0 L517.2,369.9 L514.5,372.5 L514.7,373.5 L517.6,372.7 L517.8,373.6 L515.2,376.4 L515.5,377.4 L518.4,376.2 L518.7,377.0 L516.2,380.1 L516.5,381.0 L519.5,379.5 L519.8,380.3 L517.5,383.6 L517.8,384.4 L520.8,382.6 L521.1,383.3 L519.0,386.8 L519.4,387.5 L522.3,385.4 L522.7,386.1 L520.8,389.7 L521.2,390.4 L524.0,388.0 L524.5,388.5 L522.8,392.3 L523.3,392.9 L526.0,390.2 L526.5,390.7 L525.0,394.6 L525.6,395.1 L528.1,392.2 L528.7,392.6 L527.4,396.6 L528.1,397.0 L530.5,393.8 L531.1,394.2 L530.1,398.2 L530.8,398.5 L533.0,395.2 L533.6,395.4 L532.9,399.4 L533.6,399.7 L535.6,396.1 L536.3,396.3 L535.8,400.3 L536.5,400.4 L538.4,396.7 L539.1,396.8 L538.9,400.8 L539.6,400.8 L541.3,397.0 L542.0,397.0 L542.0,400.8 L542.8,400.8 L544.3,396.9 L545.0,396.8 L545.3,400.5 L546.1,400.4 L547.3,396.5 L548.0,396.3 L548.5,399.9 L549.4,399.6 L550.3,395.7 L551.1,395.4 L551.9,398.8 L552.7,398.5 L553.4,394.5 L554.2,394.2 L555.2,397.4 L556.0,397.0 L556.5,393.0 L557.2,392.6 L558.5,395.6 L559.3,395.1 L559.5,391.2 L560.2,390.7 L561.7,393.4 L562.5,392.9 L562.4,389.1 L563.2,388.5 L564.9,391.0 L565.6,390.3 L565.3,386.6 L566.0,386.0 L567.9,388.2 L568.7,387.5 L568.1,383.9 L568.8,383.2 L570.9,385.1 L571.6,384.3 L570.8,381.0 L571.4,380.2 L573.7,381.8 L574.4,380.9 L573.3,377.8 L573.9,376.9 L576.3,378.2 L577.0,377.3 L575.7,374.3 L576.2,373.5 L578.8,374.4 L579.4,373.4 L577.8,370.7 L578.3,369.8 L581.0,370.4 L581.6,369.4 L579.8,367.0 L580.3,366.0 L583.1,366.3 L583.5,365.2 L581.6,363.1Z" fill="#fff" stroke="#1c1c1c" stroke-width="1.5" stroke-linejoin="round" /><ellipse cx="552.0" cy="350.0" rx="31.4" ry="47.5" transform="rotate(22 552.0 350.0)" fill="none" stroke="#1c1c1c" stroke-width="1.3" /><path d="M577.6,360.0 L578.3,357.2 L578.3,354.3 L577.9,351.5 L577.2,348.9 L576.8,346.6 L576.8,344.3 L577.3,341.8 L578.4,339.2 L579.7,336.3 L580.8,333.2 L581.5,330.2 L581.4,327.5 L580.5,325.4 L578.9,323.9 L577.0,323.0 L575.0,322.4 L573.3,321.6 L572.0,320.5 L571.2,318.7 L570.7,316.4 L570.2,313.7 L569.6,311.0 L568.5,308.9 L567.0,307.6 L565.0,307.5 L562.8,308.3 L560.4,309.7 L558.3,311.4 L556.3,312.7 L554.5,313.4 L552.8,313.3 L551.0,312.7 L549.1,311.7 L547.1,311.1 L544.9,311.0 L542.8,311.9 L540.9,313.8 L539.3,316.4 L537.9,319.4 L536.8,322.4 L535.8,325.0 L534.5,327.2 L532.9,328.8 L530.9,330.2 L528.7,331.6 L526.4,333.3 L524.4,335.4 L523.0,338.0 L522.3,340.8 L522.2,343.7 L522.7,346.5 L523.3,349.0 L523.8,351.4 L523.8,353.7 L523.2,356.1 L522.2,358.8 L520.9,361.7 L519.7,364.7 L519.1,367.8 L519.2,370.4 L520.1,372.5 L521.6,374.0 L523.6,375.0 L525.6,375.6 L527.3,376.3 L528.6,377.5 L529.4,379.2 L529.9,381.6 L530.3,384.3 L531.0,386.9 L532.0,389.1 L533.6,390.3 L535.6,390.5 L537.8,389.7 L540.1,388.2 L542.3,386.6 L544.3,385.3 L546.1,384.6 L547.8,384.6 L549.6,385.3 L551.4,386.2 L553.5,386.9 L555.7,386.9 L557.8,386.0 L559.7,384.2 L561.3,381.5 L562.6,378.5 L563.7,375.6 L564.8,372.9 L566.1,370.8 L567.7,369.1 L569.6,367.8 L571.9,366.3 L574.2,364.7 L576.1,362.5Z" fill="none" stroke="#1c1c1c" stroke-width="1.5" stroke-linejoin="round" /><ellipse cx="573.7" cy="344.8" rx="1.8" ry="2.1" transform="rotate(22 573.7 344.8)" fill="#222" stroke="#1c1c1c" stroke-width="0.8" /><ellipse cx="569.4" cy="323.8" rx="1.8" ry="2.1" transform="rotate(22 569.4 323.8)" fill="#222" stroke="#1c1c1c" stroke-width="0.8" /><ellipse cx="554.0" cy="317.6" rx="1.8" ry="2.1" transform="rotate(22 554.0 317.6)" fill="#222" stroke="#1c1c1c" stroke-width="0.8" /><ellipse cx="536.4" cy="329.7" rx="1.8" ry="2.1" transform="rotate(22 536.4 329.7)" fill="#222" stroke="#1c1c1c" stroke-width="0.8" /><ellipse cx="526.9" cy="353.2" rx="1.8" ry="2.1" transform="rotate(22 526.9 353.2)" fill="#222" stroke="#1c1c1c" stroke-width="0.8" /><ellipse cx="531.1" cy="374.1" rx="1.8" ry="2.1" transform="rotate(22 531.1 374.1)" fill="#222" stroke="#1c1c1c" stroke-width="0.8" /><ellipse cx="546.6" cy="380.4" rx="1.8" ry="2.1" transform="rotate(22 546.6 380.4)" fill="#222" stroke="#1c1c1c" stroke-width="0.8" /><ellipse cx="564.2" cy="368.2" rx="1.8" ry="2.1" transform="rotate(22 564.2 368.2)" fill="#222" stroke="#1c1c1c" stroke-width="0.8" /><path d="M556.8,352.5 L557.1,351.9 L561.2,352.2 L562.3,348.3 L558.3,347.6 L558.6,344.9 L558.6,344.3 L562.9,341.8 L562.6,338.3 L558.2,340.3 L557.6,338.2 L557.4,337.7 L560.9,333.0 L559.3,330.6 L555.6,334.9 L554.1,333.7 L553.7,333.5 L555.6,327.8 L553.1,327.0 L550.9,332.6 L548.9,332.7 L548.5,332.8 L548.4,327.2 L545.5,328.3 L545.2,333.9 L543.3,335.2 L542.9,335.6 L540.7,331.5 L538.1,334.2 L540.0,338.6 L538.4,340.8 L538.1,341.3 L534.4,339.7 L532.8,343.4 L536.2,345.5 L535.5,348.1 L535.3,348.7 L531.0,349.9 L530.6,353.7 L534.9,353.0 L535.1,355.5 L535.2,356.1 L531.2,359.7 L532.2,362.8 L536.3,359.5 L537.4,361.3 L537.7,361.6 L534.9,367.0 L537.0,368.7 L540.1,363.5 L541.8,364.1 L542.3,364.2 L541.3,370.0 L544.1,369.8 L545.4,364.0 L547.4,363.3 L547.9,363.1 L549.0,368.0 L551.8,366.1 L551.0,361.0 L552.8,359.1 L553.2,358.7 L556.2,361.6 L558.4,358.4 L555.7,355.0Z" fill="#fff" stroke="#1c1c1c" stroke-width="1.0" stroke-linejoin="round" /><path d="M557.7,353.0 L557.9,352.4 L562.1,352.7 L563.1,348.8 L559.1,348.1 L559.4,345.4 L559.4,344.8 L563.8,342.4 L563.4,338.8 L559.1,340.8 L558.4,338.7 L558.2,338.2 L561.7,333.6 L560.1,331.1 L556.4,335.4 L555.0,334.2 L554.6,334.0 L556.5,328.3 L554.0,327.5 L551.7,333.1 L549.8,333.2 L549.4,333.3 L549.2,327.7 L546.3,328.8 L546.1,334.5 L544.2,335.7 L543.7,336.1 L541.6,332.0 L539.0,334.7 L540.8,339.1 L539.3,341.3 L539.0,341.9 L535.3,340.2 L533.6,343.9 L537.1,346.0 L536.3,348.6 L536.2,349.2 L531.9,350.4 L531.5,354.2 L535.8,353.5 L536.0,356.0 L536.0,356.6 L532.0,360.2 L533.0,363.3 L537.2,360.1 L538.3,361.8 L538.5,362.1 L535.8,367.5 L537.9,369.2 L541.0,364.0 L542.7,364.6 L543.1,364.7 L542.2,370.5 L545.0,370.4 L546.3,364.5 L548.3,363.8 L548.7,363.6 L549.9,368.6 L552.7,366.6 L551.9,361.5 L553.7,359.7 L554.1,359.2 L557.1,362.1 L559.2,358.9 L556.5,355.5Z" fill="#fff" stroke="#1c1c1c" stroke-width="1.0" stroke-linejoin="round" /><path d="M558.6,353.5 L558.8,352.9 L562.9,353.2 L564.0,349.3 L560.0,348.6 L560.3,345.9 L560.3,345.4 L564.6,342.9 L564.3,339.3 L559.9,341.3 L559.3,339.2 L559.1,338.7 L562.6,334.1 L561.0,331.6 L557.3,336.0 L555.8,334.7 L555.5,334.5 L557.4,328.8 L554.8,328.0 L552.6,333.6 L550.7,333.7 L550.2,333.8 L550.1,328.2 L547.2,329.3 L547.0,335.0 L545.0,336.2 L544.6,336.6 L542.4,332.6 L539.9,335.2 L541.7,339.6 L540.1,341.8 L539.8,342.4 L536.2,340.7 L534.5,344.4 L538.0,346.5 L537.2,349.1 L537.1,349.8 L532.7,350.9 L532.3,354.7 L536.6,354.1 L536.8,356.5 L536.9,357.1 L532.9,360.8 L533.9,363.8 L538.0,360.6 L539.1,362.3 L539.4,362.6 L536.6,368.0 L538.8,369.7 L541.8,364.5 L543.6,365.1 L544.0,365.2 L543.1,371.0 L545.9,370.9 L547.1,365.0 L549.1,364.4 L549.6,364.1 L550.8,369.1 L553.6,367.1 L552.7,362.0 L554.5,360.2 L554.9,359.7 L557.9,362.6 L560.1,359.4 L557.4,356.0Z" fill="#fff" stroke="#1c1c1c" stroke-width="1.0" stroke-linejoin="round" /><path d="M559.4,354.0 L559.7,353.4 L563.8,353.7 L564.8,349.8 L560.8,349.1 L561.1,346.5 L561.2,345.9 L565.5,343.4 L565.2,339.8 L560.8,341.9 L560.2,339.7 L560.0,339.2 L563.5,334.6 L561.9,332.1 L558.1,336.5 L556.7,335.3 L556.3,335.0 L558.2,329.3 L555.7,328.5 L553.5,334.2 L551.5,334.2 L551.1,334.3 L550.9,328.7 L548.1,329.8 L547.8,335.5 L545.9,336.8 L545.4,337.1 L543.3,333.1 L540.7,335.7 L542.5,340.1 L541.0,342.3 L540.7,342.9 L537.0,341.2 L535.4,344.9 L538.8,347.0 L538.1,349.7 L537.9,350.3 L533.6,351.4 L533.2,355.2 L537.5,354.6 L537.7,357.0 L537.8,357.6 L533.7,361.3 L534.7,364.4 L538.9,361.1 L540.0,362.8 L540.3,363.2 L537.5,368.5 L539.6,370.2 L542.7,365.0 L544.4,365.6 L544.8,365.7 L543.9,371.5 L546.7,371.4 L548.0,365.5 L550.0,364.9 L550.4,364.6 L551.6,369.6 L554.4,367.7 L553.6,362.5 L555.4,360.7 L555.8,360.2 L558.8,363.1 L561.0,359.9 L558.2,356.5Z" fill="#fff" stroke="#1c1c1c" stroke-width="1.0" stroke-linejoin="round" /><path d="M560.3,354.5 L560.5,353.9 L564.6,354.2 L565.7,350.3 L561.7,349.6 L562.0,347.0 L562.0,346.4 L566.3,343.9 L566.0,340.3 L561.7,342.4 L561.0,340.2 L560.8,339.7 L564.3,335.1 L562.7,332.6 L559.0,337.0 L557.5,335.8 L557.2,335.5 L559.1,329.8 L556.5,329.0 L554.3,334.7 L552.4,334.7 L551.9,334.8 L551.8,329.3 L548.9,330.3 L548.7,336.0 L546.7,337.3 L546.3,337.6 L544.2,333.6 L541.6,336.2 L543.4,340.6 L541.9,342.8 L541.6,343.4 L537.9,341.7 L536.2,345.4 L539.7,347.5 L538.9,350.2 L538.8,350.8 L534.4,351.9 L534.1,355.7 L538.4,355.1 L538.5,357.6 L538.6,358.1 L534.6,361.8 L535.6,364.9 L539.7,361.6 L540.8,363.3 L541.1,363.7 L538.3,369.0 L540.5,370.7 L543.5,365.5 L545.3,366.1 L545.7,366.2 L544.8,372.0 L547.6,371.9 L548.8,366.1 L550.8,365.4 L551.3,365.2 L552.5,370.1 L555.3,368.2 L554.5,363.0 L556.3,361.2 L556.7,360.7 L559.6,363.6 L561.8,360.4 L559.1,357.1Z" fill="#fff" stroke="#1c1c1c" stroke-width="1.0" stroke-linejoin="round" /><path d="M561.2,355.0 L561.4,354.5 L565.5,354.7 L566.6,350.9 L562.6,350.1 L562.9,347.5 L562.9,346.9 L567.2,344.4 L566.9,340.8 L562.5,342.9 L561.9,340.7 L561.7,340.2 L565.2,335.6 L563.6,333.1 L559.9,337.5 L558.4,336.3 L558.0,336.1 L559.9,330.3 L557.4,329.5 L555.2,335.2 L553.3,335.2 L552.8,335.3 L552.7,329.8 L549.8,330.8 L549.6,336.5 L547.6,337.8 L547.2,338.1 L545.0,334.1 L542.4,336.7 L544.3,341.1 L542.7,343.3 L542.4,343.9 L538.8,342.3 L537.1,345.9 L540.5,348.0 L539.8,350.7 L539.6,351.3 L535.3,352.4 L534.9,356.2 L539.2,355.6 L539.4,358.1 L539.5,358.6 L535.5,362.3 L536.5,365.4 L540.6,362.1 L541.7,363.8 L542.0,364.2 L539.2,369.5 L541.3,371.2 L544.4,366.1 L546.1,366.6 L546.6,366.7 L545.6,372.5 L548.4,372.4 L549.7,366.6 L551.7,365.9 L552.2,365.7 L553.3,370.6 L556.1,368.7 L555.3,363.5 L557.1,361.7 L557.5,361.2 L560.5,364.2 L562.7,360.9 L560.0,357.6Z" fill="#fff" stroke="#1c1c1c" stroke-width="1.0" stroke-linejoin="round" /><path d="M562.0,355.6 L562.2,355.0 L566.4,355.2 L567.4,351.4 L563.4,350.6 L563.7,348.0 L563.8,347.4 L568.1,344.9 L567.7,341.3 L563.4,343.4 L562.7,341.2 L562.5,340.7 L566.1,336.1 L564.4,333.6 L560.7,338.0 L559.3,336.8 L558.9,336.6 L560.8,330.8 L558.3,330.0 L556.0,335.7 L554.1,335.7 L553.7,335.8 L553.5,330.3 L550.6,331.3 L550.4,337.0 L548.5,338.3 L548.0,338.6 L545.9,334.6 L543.3,337.2 L545.1,341.6 L543.6,343.9 L543.3,344.4 L539.6,342.8 L537.9,346.4 L541.4,348.5 L540.6,351.2 L540.5,351.8 L536.2,352.9 L535.8,356.8 L540.1,356.1 L540.3,358.6 L540.3,359.1 L536.3,362.8 L537.3,365.9 L541.5,362.6 L542.6,364.3 L542.8,364.7 L540.1,370.0 L542.2,371.7 L545.3,366.6 L547.0,367.2 L547.4,367.2 L546.5,373.0 L549.3,372.9 L550.6,367.1 L552.6,366.4 L553.0,366.2 L554.2,371.1 L557.0,369.2 L556.2,364.0 L558.0,362.2 L558.4,361.7 L561.4,364.7 L563.5,361.4 L560.8,358.1Z" fill="#fff" stroke="#1c1c1c" stroke-width="1.0" stroke-linejoin="round" /><path d="M562.9,356.1 L563.1,355.5 L567.2,355.7 L568.3,351.9 L564.3,351.1 L564.6,348.5 L564.6,347.9 L568.9,345.4 L568.6,341.9 L564.3,343.9 L563.6,341.7 L563.4,341.3 L566.9,336.6 L565.3,334.2 L561.6,338.5 L560.1,337.3 L559.8,337.1 L561.7,331.3 L559.1,330.5 L556.9,336.2 L555.0,336.2 L554.5,336.3 L554.4,330.8 L551.5,331.8 L551.3,337.5 L549.3,338.8 L548.9,339.1 L546.7,335.1 L544.2,337.8 L546.0,342.1 L544.5,344.4 L544.1,344.9 L540.5,343.3 L538.8,346.9 L542.3,349.0 L541.5,351.7 L541.4,352.3 L537.0,353.5 L536.6,357.3 L540.9,356.6 L541.1,359.1 L541.2,359.6 L537.2,363.3 L538.2,366.4 L542.3,363.1 L543.4,364.8 L543.7,365.2 L540.9,370.5 L543.1,372.2 L546.1,367.1 L547.9,367.7 L548.3,367.7 L547.4,373.5 L550.2,373.4 L551.4,367.6 L553.4,366.9 L553.9,366.7 L555.1,371.6 L557.9,369.7 L557.0,364.5 L558.8,362.7 L559.2,362.2 L562.2,365.2 L564.4,361.9 L561.7,358.6Z" fill="#fff" stroke="#1c1c1c" stroke-width="1.0" stroke-linejoin="round" /><path d="M563.7,356.6 L564.0,356.0 L568.1,356.2 L569.1,352.4 L565.2,351.6 L565.5,349.0 L565.5,348.4 L569.8,345.9 L569.5,342.4 L565.1,344.4 L564.5,342.2 L564.3,341.8 L567.8,337.1 L566.2,334.7 L562.4,339.0 L561.0,337.8 L560.6,337.6 L562.5,331.8 L560.0,331.0 L557.8,336.7 L555.8,336.7 L555.4,336.8 L555.2,331.3 L552.4,332.3 L552.1,338.0 L550.2,339.3 L549.7,339.6 L547.6,335.6 L545.0,338.3 L546.9,342.6 L545.3,344.9 L545.0,345.4 L541.3,343.8 L539.7,347.4 L543.1,349.5 L542.4,352.2 L542.2,352.8 L537.9,354.0 L537.5,357.8 L541.8,357.1 L542.0,359.6 L542.1,360.1 L538.0,363.8 L539.0,366.9 L543.2,363.6 L544.3,365.3 L544.6,365.7 L541.8,371.1 L543.9,372.7 L547.0,367.6 L548.7,368.2 L549.1,368.2 L548.2,374.1 L551.0,373.9 L552.3,368.1 L554.3,367.4 L554.7,367.2 L555.9,372.1 L558.7,370.2 L557.9,365.0 L559.7,363.2 L560.1,362.8 L563.1,365.7 L565.3,362.4 L562.6,359.1Z" fill="#fff" stroke="#1c1c1c" stroke-width="1.0" stroke-linejoin="round" /><path d="M564.6,357.1 L564.8,356.5 L568.9,356.7 L570.0,352.9 L566.0,352.2 L566.3,349.5 L566.3,348.9 L570.6,346.4 L570.3,342.9 L566.0,344.9 L565.3,342.7 L565.1,342.3 L568.6,337.6 L567.0,335.2 L563.3,339.5 L561.9,338.3 L561.5,338.1 L563.4,332.3 L560.9,331.6 L558.6,337.2 L556.7,337.2 L556.2,337.3 L556.1,331.8 L553.2,332.9 L553.0,338.5 L551.0,339.8 L550.6,340.1 L548.5,336.1 L545.9,338.8 L547.7,343.2 L546.2,345.4 L545.9,345.9 L542.2,344.3 L540.5,347.9 L544.0,350.0 L543.2,352.7 L543.1,353.3 L538.7,354.5 L538.4,358.3 L542.7,357.6 L542.8,360.1 L542.9,360.6 L538.9,364.3 L539.9,367.4 L544.1,364.1 L545.1,365.9 L545.4,366.2 L542.6,371.6 L544.8,373.2 L547.8,368.1 L549.6,368.7 L550.0,368.8 L549.1,374.6 L551.9,374.4 L553.1,368.6 L555.1,367.9 L555.6,367.7 L556.8,372.6 L559.6,370.7 L558.8,365.5 L560.6,363.7 L561.0,363.3 L563.9,366.2 L566.1,362.9 L563.4,359.6Z" fill="#fff" stroke="#1c1c1c" stroke-width="1.7" stroke-linejoin="round" /><ellipse cx="554.5" cy="353.0" rx="7.9" ry="12.0" transform="rotate(22 554.5 353.0)" fill="none" stroke="#1c1c1c" stroke-width="1.2" /><ellipse cx="555.0" cy="354.5" rx="7.6" ry="10.5" transform="rotate(22 555.0 354.5)" fill="#fff" stroke="#1c1c1c" stroke-width="1.6" /><ellipse cx="555.0" cy="354.5" rx="5.9" ry="8.2" transform="rotate(22 555.0 354.5)" fill="none" stroke="#1c1c1c" stroke-width="1.2" /><path d="M467.1,310.5 L467.2,309.5 L467.3,308.5 L467.5,307.5 L467.8,306.4 L468.1,305.4 L468.5,304.4 L468.9,303.5 L469.4,302.5 L470.0,301.6 L470.6,300.8 L471.3,300.0 L472.0,299.2 L472.8,298.5 L473.5,297.9 L474.3,297.3 L475.1,296.9 L475.9,296.5 L476.8,296.2 L477.6,295.9 L478.4,295.8 L479.2,295.8 L480.0,295.8 L480.8,295.9 L481.5,296.1 L482.2,296.4 L484.7,297.9 L485.3,298.4 L485.9,298.9 L486.4,299.5 L486.8,300.2 L487.2,301.0 L487.5,301.8 L487.7,302.6 L487.9,303.5 L488.0,304.4 L488.0,305.4 L487.9,306.4 L487.8,307.4 L487.6,308.4 L487.4,309.4 L487.0,310.4 L486.6,311.4 L486.2,312.4 L485.7,313.4 L485.1,314.2 L484.5,315.1 L483.8,315.9 L483.1,316.7 L482.4,317.4 L481.6,318.0 L480.8,318.5 L480.0,319.0 L479.1,319.4 L478.3,319.7 L477.5,319.9 L476.7,320.1 L475.9,320.1 L475.1,320.1 L474.3,320.0 L473.6,319.8 L472.9,319.5 L472.3,319.1 L470.4,318.0 L469.8,317.5 L469.2,317.0 L468.7,316.3 L468.3,315.7 L467.9,314.9 L467.6,314.1 L467.4,313.3 L467.2,312.4 L467.1,311.4Z" fill="#fff" stroke="#1c1c1c" stroke-width="1.9" stroke-linejoin="round" /><ellipse cx="478.5" cy="308.5" rx="8.6" ry="12.3" transform="rotate(27 478.5 308.5)" fill="#fff" stroke="#1c1c1c" stroke-width="1.9" /><ellipse cx="478.5" cy="308.5" rx="4.8" ry="6.8" transform="rotate(27 478.5 308.5)" fill="#fff" stroke="#1c1c1c" stroke-width="1.6" /><path d="M633.8,392.1 L634.2,390.1 L634.1,387.9 L633.7,385.8 L633.0,383.8 L632.3,382.0 L631.7,380.2 L631.3,378.5 L631.3,376.7 L631.6,374.9 L632.2,372.9 L632.9,370.8 L633.6,368.6 L634.0,366.4 L634.0,364.2 L633.6,362.3 L632.7,360.7 L631.4,359.5 L629.8,358.6 L628.1,357.9 L626.4,357.4 L624.8,356.8 L623.5,356.1 L622.5,355.0 L621.6,353.6 L620.9,351.9 L620.2,350.0 L619.4,348.1 L618.4,346.3 L617.2,345.0 L615.7,344.2 L614.0,344.0 L612.2,344.3 L610.4,345.1 L608.6,346.2 L607.0,347.3 L605.4,348.3 L603.9,349.0 L602.4,349.2 L600.9,349.1 L599.3,348.6 L597.7,348.0 L595.9,347.5 L594.0,347.3 L592.2,347.6 L590.6,348.3 L589.1,349.6 L587.9,351.4 L586.9,353.4 L586.1,355.6 L585.4,357.7 L584.8,359.7 L584.0,361.4 L582.9,362.8 L581.6,363.9 L580.1,365.0 L578.4,366.1 L576.7,367.3 L575.1,368.8 L573.8,370.4 L572.9,372.3 L572.5,374.4 L572.6,376.5 L573.0,378.6 L573.7,380.6 L574.4,382.5 L575.0,384.3 L575.4,386.0 L575.4,387.7 L575.1,389.5 L574.5,391.5 L573.8,393.6 L573.1,395.8 L572.7,398.1 L572.7,400.2 L573.1,402.1 L574.0,403.7 L575.3,405.0 L576.9,405.9 L578.6,406.6 L580.3,407.1 L581.9,407.6 L583.2,408.4 L584.2,409.5 L585.1,410.9 L585.8,412.6 L586.5,414.5 L587.3,416.4 L588.3,418.1 L589.5,419.5 L591.0,420.3 L592.7,420.5 L594.5,420.1 L596.3,419.3 L598.1,418.2 L599.7,417.1 L601.3,416.1 L602.8,415.5 L604.3,415.3 L605.8,415.4 L607.4,415.9 L609.0,416.4 L610.8,416.9 L612.7,417.1 L614.5,416.9 L616.1,416.1 L617.6,414.8 L618.8,413.1 L619.8,411.0 L620.6,408.8 L621.3,406.7 L621.9,404.8 L622.7,403.1 L623.8,401.7 L625.1,400.5 L626.6,399.4 L628.3,398.4 L630.0,397.1 L631.6,395.7 L632.9,394.0ZM618.0,387.0 L618.5,386.1 L619.1,385.2 L620.0,384.2 L620.9,383.2 L621.8,382.1 L622.4,380.9 L622.8,379.6 L622.8,378.4 L622.4,377.3 L621.7,376.3 L620.9,375.5 L619.9,374.8 L619.1,374.1 L618.4,373.4 L617.9,372.6 L617.7,371.7 L617.7,370.5 L617.9,369.2 L618.0,367.8 L618.0,366.4 L617.8,365.1 L617.3,364.1 L616.6,363.3 L615.7,363.0 L614.5,362.9 L613.4,363.1 L612.2,363.5 L611.1,363.8 L610.1,364.0 L609.3,363.9 L608.6,363.5 L607.9,362.8 L607.2,361.9 L606.5,360.9 L605.6,360.0 L604.7,359.4 L603.7,359.1 L602.7,359.3 L601.7,359.9 L600.8,360.8 L600.0,362.0 L599.2,363.2 L598.6,364.3 L597.9,365.2 L597.2,365.9 L596.4,366.2 L595.4,366.4 L594.3,366.4 L593.1,366.5 L591.9,366.6 L590.8,367.1 L589.9,367.7 L589.2,368.7 L588.7,369.9 L588.5,371.3 L588.6,372.7 L588.7,374.0 L588.8,375.3 L588.9,376.4 L588.7,377.5 L588.2,378.4 L587.5,379.3 L586.7,380.2 L585.8,381.3 L584.9,382.4 L584.3,383.6 L583.9,384.8 L583.9,386.0 L584.3,387.2 L585.0,388.1 L585.8,389.0 L586.8,389.7 L587.6,390.4 L588.3,391.1 L588.7,391.8 L588.9,392.8 L588.9,393.9 L588.8,395.2 L588.7,396.6 L588.7,398.1 L588.9,399.3 L589.4,400.4 L590.1,401.1 L591.0,401.5 L592.2,401.5 L593.3,401.3 L594.5,401.0 L595.6,400.7 L596.6,400.5 L597.4,400.6 L598.1,401.0 L598.8,401.7 L599.5,402.6 L600.2,403.6 L601.1,404.4 L602.0,405.1 L603.0,405.3 L604.0,405.2 L605.0,404.6 L605.9,403.6 L606.7,402.5 L607.5,401.3 L608.1,400.1 L608.8,399.2 L609.5,398.6 L610.3,398.2 L611.3,398.1 L612.4,398.0 L613.6,398.0 L614.7,397.8 L615.9,397.4 L616.8,396.7 L617.5,395.7 L618.0,394.5 L618.1,393.2 L618.1,391.8 L618.0,390.4 L617.9,389.1 L617.8,388.0Z" fill="#fff" stroke="#1c1c1c" stroke-width="1.6" stroke-linejoin="round" fill-rule="evenodd"/><path d="M635.9,393.4 L636.3,391.3 L636.3,389.2 L635.8,387.1 L635.2,385.1 L634.4,383.2 L633.8,381.5 L633.5,379.8 L633.5,378.0 L633.8,376.2 L634.4,374.2 L635.1,372.1 L635.7,369.9 L636.2,367.6 L636.2,365.5 L635.8,363.6 L634.9,362.0 L633.5,360.7 L631.9,359.8 L630.2,359.2 L628.5,358.6 L627.0,358.1 L625.7,357.3 L624.6,356.3 L623.8,354.9 L623.1,353.2 L622.4,351.3 L621.6,349.3 L620.6,347.6 L619.3,346.3 L617.9,345.5 L616.2,345.2 L614.4,345.6 L612.6,346.4 L610.8,347.5 L609.1,348.6 L607.5,349.6 L606.0,350.2 L604.6,350.5 L603.1,350.3 L601.5,349.9 L599.8,349.3 L598.0,348.8 L596.2,348.6 L594.4,348.8 L592.7,349.6 L591.2,350.9 L590.0,352.7 L589.0,354.7 L588.3,356.9 L587.6,359.0 L586.9,361.0 L586.1,362.6 L585.1,364.0 L583.8,365.2 L582.2,366.3 L580.6,367.4 L578.8,368.6 L577.2,370.0 L575.9,371.7 L575.1,373.6 L574.7,375.7 L574.7,377.8 L575.2,379.9 L575.8,381.9 L576.6,383.8 L577.2,385.5 L577.5,387.2 L577.5,389.0 L577.2,390.8 L576.6,392.8 L575.9,394.9 L575.3,397.1 L574.8,399.4 L574.8,401.5 L575.2,403.4 L576.1,405.0 L577.5,406.3 L579.1,407.2 L580.8,407.8 L582.5,408.4 L584.0,408.9 L585.3,409.7 L586.4,410.7 L587.2,412.1 L587.9,413.8 L588.6,415.7 L589.4,417.7 L590.4,419.4 L591.7,420.7 L593.1,421.5 L594.8,421.8 L596.6,421.4 L598.4,420.6 L600.2,419.5 L601.9,418.4 L603.5,417.4 L605.0,416.8 L606.4,416.5 L607.9,416.7 L609.5,417.1 L611.2,417.7 L613.0,418.2 L614.8,418.4 L616.6,418.2 L618.3,417.4 L619.8,416.1 L621.0,414.3 L622.0,412.3 L622.7,410.1 L623.4,408.0 L624.1,406.0 L624.9,404.4 L625.9,403.0 L627.2,401.8 L628.8,400.7 L630.4,399.6 L632.2,398.4 L633.8,397.0 L635.1,395.3ZM620.2,388.3 L620.6,387.3 L621.3,386.4 L622.2,385.5 L623.1,384.5 L623.9,383.3 L624.6,382.1 L624.9,380.9 L624.9,379.7 L624.5,378.6 L623.9,377.6 L623.0,376.7 L622.1,376.0 L621.2,375.4 L620.6,374.7 L620.1,373.9 L619.9,372.9 L619.9,371.8 L620.0,370.5 L620.1,369.1 L620.1,367.7 L620.0,366.4 L619.5,365.3 L618.8,364.6 L617.8,364.2 L616.7,364.2 L615.5,364.4 L614.3,364.7 L613.2,365.1 L612.3,365.2 L611.5,365.1 L610.7,364.7 L610.1,364.0 L609.4,363.1 L608.6,362.2 L607.8,361.3 L606.9,360.7 L605.9,360.4 L604.9,360.6 L603.9,361.2 L603.0,362.1 L602.1,363.2 L601.4,364.5 L600.7,365.6 L600.1,366.5 L599.3,367.1 L598.5,367.5 L597.6,367.7 L596.5,367.7 L595.3,367.7 L594.1,367.9 L593.0,368.3 L592.0,369.0 L591.3,370.0 L590.9,371.2 L590.7,372.5 L590.7,373.9 L590.9,375.3 L591.0,376.6 L591.0,377.7 L590.8,378.7 L590.4,379.7 L589.7,380.6 L588.8,381.5 L587.9,382.5 L587.1,383.7 L586.4,384.9 L586.1,386.1 L586.1,387.3 L586.5,388.4 L587.1,389.4 L588.0,390.3 L588.9,391.0 L589.8,391.6 L590.4,392.3 L590.9,393.1 L591.1,394.1 L591.1,395.2 L591.0,396.5 L590.9,397.9 L590.9,399.3 L591.0,400.6 L591.5,401.7 L592.2,402.4 L593.2,402.8 L594.3,402.8 L595.5,402.6 L596.7,402.3 L597.8,401.9 L598.7,401.8 L599.5,401.9 L600.3,402.3 L600.9,403.0 L601.6,403.9 L602.4,404.8 L603.2,405.7 L604.1,406.3 L605.1,406.6 L606.1,406.4 L607.1,405.8 L608.0,404.9 L608.9,403.8 L609.6,402.5 L610.3,401.4 L610.9,400.5 L611.7,399.9 L612.5,399.5 L613.4,399.3 L614.5,399.3 L615.7,399.3 L616.9,399.1 L618.0,398.7 L619.0,398.0 L619.7,397.0 L620.1,395.8 L620.3,394.5 L620.3,393.1 L620.1,391.7 L620.0,390.4 L620.0,389.3Z" fill="#fff" stroke="#1c1c1c" stroke-width="1.6" stroke-linejoin="round" fill-rule="evenodd"/><ellipse cx="629.1" cy="391.2" rx="1.8" ry="2.2" transform="rotate(18 629.1 391.2)" fill="#222" stroke="#1c1c1c" stroke-width="0.6" /><ellipse cx="629.0" cy="368.1" rx="1.8" ry="2.2" transform="rotate(18 629.0 368.1)" fill="#222" stroke="#1c1c1c" stroke-width="0.6" /><ellipse cx="615.1" cy="354.0" rx="1.8" ry="2.2" transform="rotate(18 615.1 354.0)" fill="#222" stroke="#1c1c1c" stroke-width="0.6" /><ellipse cx="595.6" cy="357.2" rx="1.8" ry="2.2" transform="rotate(18 595.6 357.2)" fill="#222" stroke="#1c1c1c" stroke-width="0.6" /><ellipse cx="581.9" cy="375.8" rx="1.8" ry="2.2" transform="rotate(18 581.9 375.8)" fill="#222" stroke="#1c1c1c" stroke-width="0.6" /><ellipse cx="582.0" cy="398.9" rx="1.8" ry="2.2" transform="rotate(18 582.0 398.9)" fill="#222" stroke="#1c1c1c" stroke-width="0.6" /><ellipse cx="595.9" cy="413.0" rx="1.8" ry="2.2" transform="rotate(18 595.9 413.0)" fill="#222" stroke="#1c1c1c" stroke-width="0.6" /><ellipse cx="615.4" cy="409.8" rx="1.8" ry="2.2" transform="rotate(18 615.4 409.8)" fill="#222" stroke="#1c1c1c" stroke-width="0.6" /><path d="M598.1,314.5 L598.2,314.1 L598.3,313.7 L598.4,313.3 L598.6,312.9 L598.9,312.6 L599.1,312.3 L599.5,312.0 L599.8,311.9 L600.1,311.8 L600.4,311.7 L600.7,311.7 L601.0,311.8 L601.3,312.0 L608.3,316.5 L608.5,316.7 L608.7,317.0 L608.8,317.3 L608.9,317.7 L608.9,318.0 L608.8,318.4 L608.7,318.8 L608.6,319.2 L608.4,319.6 L608.1,319.9 L607.9,320.2 L607.5,320.5 L607.2,320.6 L606.9,320.8 L606.6,320.8 L606.3,320.8 L606.0,320.7 L605.7,320.5 L598.7,316.0 L598.5,315.8 L598.3,315.5 L598.2,315.2 L598.1,314.8Z" fill="#fff" stroke="#1c1c1c" stroke-width="1.3" stroke-linejoin="round" /><ellipse cx="607.0" cy="318.5" rx="1.7" ry="2.4" transform="rotate(25 607.0 318.5)" fill="#fff" stroke="#1c1c1c" stroke-width="1.1" /><path d="M592.8,312.4 L592.8,312.0 L592.9,311.6 L593.0,311.2 L593.1,310.8 L593.2,310.4 L593.4,310.0 L593.6,309.7 L593.8,309.3 L594.0,309.0 L594.2,308.6 L594.5,308.3 L594.8,308.1 L595.1,307.8 L595.4,307.6 L595.7,307.4 L596.0,307.2 L596.4,307.1 L596.7,307.0 L597.0,306.9 L597.3,306.9 L597.6,306.9 L598.0,307.0 L598.2,307.0 L598.5,307.1 L598.8,307.3 L601.8,309.3 L602.0,309.5 L602.3,309.7 L602.5,309.9 L602.7,310.2 L602.8,310.5 L603.0,310.8 L603.1,311.1 L603.1,311.5 L603.2,311.8 L603.2,312.2 L603.2,312.6 L603.2,313.0 L603.1,313.4 L603.0,313.8 L602.9,314.2 L602.8,314.6 L602.6,315.0 L602.4,315.3 L602.2,315.7 L602.0,316.0 L601.8,316.4 L601.5,316.7 L601.2,316.9 L600.9,317.2 L600.6,317.4 L600.3,317.6 L600.0,317.8 L599.6,317.9 L599.3,318.0 L599.0,318.1 L598.7,318.1 L598.4,318.1 L598.0,318.0 L597.8,318.0 L597.5,317.9 L597.2,317.7 L594.2,315.7 L594.0,315.5 L593.7,315.3 L593.5,315.1 L593.3,314.8 L593.2,314.5 L593.0,314.2 L592.9,313.9 L592.9,313.5 L592.8,313.2 L592.8,312.8Z" fill="#fff" stroke="#1c1c1c" stroke-width="1.3" stroke-linejoin="round" /><ellipse cx="599.5" cy="313.5" rx="3.5" ry="4.8" transform="rotate(25 599.5 313.5)" fill="#fff" stroke="#1c1c1c" stroke-width="1.3" /><path d="M628.7,318.6 L628.8,317.6 L628.9,316.5 L629.1,315.4 L629.3,314.4 L629.7,313.3 L630.1,312.3 L630.5,311.2 L631.0,310.2 L631.6,309.3 L632.2,308.4 L632.8,307.5 L633.5,306.8 L634.2,306.0 L635.0,305.4 L635.7,304.8 L636.5,304.3 L637.3,303.9 L638.1,303.6 L638.9,303.3 L639.7,303.2 L640.5,303.1 L641.2,303.2 L642.0,303.3 L642.7,303.6 L643.4,303.9 L652.0,308.9 L652.6,309.4 L653.2,309.9 L653.7,310.4 L654.2,311.1 L654.6,311.8 L654.9,312.6 L655.2,313.4 L655.4,314.4 L655.6,315.3 L655.7,316.3 L655.7,317.3 L655.6,318.4 L655.5,319.4 L655.3,320.5 L655.0,321.6 L654.7,322.6 L654.3,323.7 L653.9,324.7 L653.4,325.7 L652.8,326.6 L652.2,327.5 L651.6,328.4 L650.9,329.2 L650.2,329.9 L649.4,330.6 L648.6,331.1 L647.9,331.6 L647.1,332.0 L646.3,332.4 L645.5,332.6 L644.7,332.7 L643.9,332.8 L643.1,332.7 L642.4,332.6 L641.7,332.4 L641.0,332.1 L632.4,327.0 L631.8,326.6 L631.2,326.1 L630.7,325.5 L630.2,324.8 L629.8,324.1 L629.5,323.3 L629.2,322.5 L629.0,321.6 L628.8,320.6 L628.7,319.6Z" fill="#fff" stroke="#1c1c1c" stroke-width="1.7" stroke-linejoin="round" /><ellipse cx="646.5" cy="320.5" rx="8.4" ry="12.8" transform="rotate(22 646.5 320.5)" fill="#fff" stroke="#1c1c1c" stroke-width="1.7" /><line x1="640.5" y1="326.5" x2="651.5" y2="315.5" stroke="#1c1c1c" stroke-width="7" stroke-linecap="round"/><line x1="640.5" y1="326.5" x2="651.5" y2="315.5" stroke="#fff" stroke-width="3.8" stroke-linecap="round"/><path d="M634.3,407.9 L634.4,407.1 L634.5,406.2 L634.6,405.4 L634.8,404.5 L635.0,403.7 L635.4,402.9 L635.7,402.1 L636.1,401.3 L636.5,400.5 L637.0,399.8 L637.5,399.1 L638.1,398.4 L638.7,397.8 L639.3,397.3 L639.9,396.8 L640.5,396.4 L641.2,396.0 L641.8,395.7 L642.5,395.5 L643.1,395.3 L643.8,395.2 L644.4,395.2 L645.0,395.3 L645.6,395.4 L646.1,395.6 L646.6,395.9 L657.8,402.5 L658.3,402.9 L658.7,403.3 L659.1,403.8 L659.5,404.3 L659.8,404.9 L660.0,405.6 L660.2,406.2 L660.4,407.0 L660.4,407.7 L660.5,408.5 L660.4,409.3 L660.4,410.2 L660.2,411.0 L660.0,411.9 L659.8,412.7 L659.5,413.5 L659.1,414.4 L658.7,415.1 L658.3,415.9 L657.8,416.6 L657.3,417.3 L656.7,418.0 L656.1,418.6 L655.5,419.1 L654.9,419.6 L654.3,420.1 L653.6,420.4 L653.0,420.7 L652.3,420.9 L651.7,421.1 L651.0,421.2 L650.4,421.2 L649.8,421.1 L649.2,421.0 L648.7,420.7 L648.2,420.5 L637.0,413.9 L636.5,413.5 L636.1,413.1 L635.7,412.6 L635.3,412.1 L635.0,411.5 L634.8,410.8 L634.6,410.1 L634.4,409.4 L634.4,408.7Z" fill="#fff" stroke="#1c1c1c" stroke-width="1.7" stroke-linejoin="round" /><ellipse cx="653.0" cy="411.5" rx="6.7" ry="10.2" transform="rotate(25 653.0 411.5)" fill="#fff" stroke="#1c1c1c" stroke-width="1.7" /><ellipse cx="653.4" cy="411.8" rx="5.4" ry="8.2" transform="rotate(25 653.4 411.8)" fill="#fff" stroke="#1c1c1c" stroke-width="1.3" /><path d="M661.5,421.4 L661.5,420.7 L661.6,419.9 L661.7,419.2 L661.9,418.4 L662.1,417.6 L662.4,416.9 L662.7,416.1 L663.0,415.4 L663.5,414.7 L663.9,414.1 L664.4,413.5 L664.9,412.9 L665.4,412.3 L665.9,411.8 L666.5,411.4 L667.0,411.0 L667.6,410.7 L668.2,410.4 L668.8,410.2 L669.4,410.1 L670.0,410.0 L670.5,410.0 L671.1,410.1 L671.6,410.2 L672.1,410.4 L672.5,410.6 L681.1,415.7 L681.6,416.0 L682.0,416.4 L682.3,416.8 L682.6,417.3 L682.9,417.9 L683.1,418.4 L683.3,419.1 L683.4,419.7 L683.5,420.4 L683.5,421.1 L683.5,421.9 L683.4,422.6 L683.3,423.4 L683.1,424.1 L682.9,424.9 L682.6,425.6 L682.3,426.4 L681.9,427.1 L681.5,427.8 L681.1,428.4 L680.6,429.1 L680.1,429.6 L679.6,430.2 L679.1,430.7 L678.5,431.1 L677.9,431.5 L677.4,431.8 L676.8,432.1 L676.2,432.3 L675.6,432.4 L675.0,432.5 L674.5,432.5 L673.9,432.5 L673.4,432.3 L672.9,432.1 L672.5,431.9 L663.8,426.8 L663.4,426.5 L663.0,426.1 L662.6,425.7 L662.3,425.2 L662.1,424.7 L661.9,424.1 L661.7,423.5 L661.5,422.8 L661.5,422.1Z" fill="#fff" stroke="#1c1c1c" stroke-width="1.7" stroke-linejoin="round" /><ellipse cx="676.8" cy="423.8" rx="6.1" ry="9.2" transform="rotate(25 676.8 423.8)" fill="#fff" stroke="#1c1c1c" stroke-width="1.7" /><ellipse cx="677.2" cy="424.1" rx="4.8" ry="7.2" transform="rotate(25 677.2 424.1)" fill="#fff" stroke="#1c1c1c" stroke-width="1.3" /><ellipse cx="690.7" cy="432.6" rx="8.9" ry="12.3" transform="rotate(30 690.7 432.6)" fill="#fff" stroke="#1c1c1c" stroke-width="1.9" /><ellipse cx="691.2" cy="433.0" rx="4.9" ry="7.0" transform="rotate(30 691.2 433.0)" fill="#fff" stroke="#1c1c1c" stroke-width="2.2" /><ellipse cx="691.2" cy="433.0" rx="6.6" ry="9.2" transform="rotate(30 691.2 433.0)" fill="none" stroke="#1c1c1c" stroke-width="0.9" /><path d="M713.4,219.6 L716.5,219.3 L716.9,217.8 L714.6,216.0 L714.8,214.8 L717.9,213.5 L718.0,212.0 L715.2,211.1 L715.2,209.8 L718.0,207.7 L717.8,206.3 L714.8,206.3 L714.5,205.2 L716.8,202.3 L716.3,201.1 L713.2,202.1 L712.7,201.1 L714.4,197.8 L713.7,196.8 L710.8,198.7 L710.0,198.0 L711.0,194.3 L710.0,193.7 L707.5,196.3 L706.6,195.9 L706.8,192.2 L705.7,191.9 L703.7,195.1 L702.7,195.0 L702.1,191.6 L700.9,191.7 L699.6,195.2 L698.6,195.4 L697.3,192.5 L696.0,192.9 L695.5,196.6 L694.5,197.1 L692.5,194.8 L691.4,195.6 L691.7,199.2 L690.8,200.0 L688.2,198.5 L687.3,199.6 L688.3,202.7 L687.6,203.8 L684.7,203.2 L684.0,204.5 L685.7,207.1 L685.2,208.3 L682.2,208.6 L681.7,210.1 L684.1,211.9 L683.8,213.1 L680.8,214.4 L680.7,215.9 L683.5,216.8 L683.5,218.1 L680.7,220.2 L680.9,221.6 L683.9,221.6 L684.2,222.7 L681.9,225.6 L682.4,226.8 L685.4,225.8 L686.0,226.8 L684.2,230.1 L685.0,231.1 L687.9,229.2 L688.6,229.9 L687.6,233.6 L688.6,234.2 L691.1,231.6 L692.0,232.0 L691.8,235.7 L693.0,236.0 L694.9,232.8 L695.9,232.9 L696.5,236.3 L697.7,236.2 L699.0,232.7 L700.1,232.5 L701.4,235.4 L702.6,235.0 L703.1,231.3 L704.1,230.8 L706.2,233.1 L707.3,232.3 L707.0,228.7 L707.9,227.9 L710.4,229.4 L711.4,228.3 L710.3,225.2 L711.1,224.1 L714.0,224.7 L714.7,223.4 L712.9,220.8Z" fill="#fff" stroke="#1c1c1c" stroke-width="1.4" stroke-linejoin="round" /><path d="M682.2,217.7 L682.3,216.3 L682.4,214.8 L682.6,213.4 L682.8,212.0 L683.2,210.6 L683.6,209.2 L684.1,207.8 L684.7,206.5 L685.4,205.2 L686.1,203.9 L686.9,202.7 L687.8,201.5 L688.7,200.4 L689.6,199.4 L690.6,198.4 L691.7,197.5 L692.8,196.7 L693.9,196.0 L695.0,195.4 L696.2,194.8 L697.4,194.4 L698.5,194.0 L699.8,193.8 L700.9,193.6 L702.1,193.5 L703.3,193.6 L704.4,193.7 L705.6,193.9 L706.7,194.3 L707.7,194.7 L708.8,195.2 L718.2,200.8 L719.2,201.4 L720.1,202.1 L721.0,202.9 L721.8,203.8 L722.5,204.7 L723.2,205.8 L723.8,206.8 L724.4,208.0 L724.8,209.2 L725.2,210.4 L725.5,211.7 L725.7,213.1 L725.9,214.4 L725.9,215.8 L725.9,217.2 L725.8,218.7 L725.6,220.1 L725.3,221.5 L724.9,222.9 L724.5,224.3 L724.0,225.7 L723.4,227.0 L722.8,228.3 L722.0,229.6 L721.2,230.8 L720.4,232.0 L719.5,233.1 L718.5,234.1 L717.5,235.1 L716.5,235.9 L715.4,236.8 L714.3,237.5 L713.1,238.1 L712.0,238.7 L710.8,239.1 L709.6,239.5 L708.4,239.7 L707.2,239.9 L706.0,239.9 L704.9,239.9 L703.7,239.8 L702.6,239.6 L701.5,239.2 L700.4,238.8 L699.4,238.3 L689.9,232.7 L689.0,232.1 L688.0,231.4 L687.2,230.6 L686.4,229.7 L685.6,228.8 L684.9,227.8 L684.3,226.7 L683.8,225.5 L683.3,224.3 L682.9,223.1 L682.6,221.8 L682.4,220.4 L682.3,219.1Z" fill="#fff" stroke="#1c1c1c" stroke-width="1.2" stroke-linejoin="round" /><path d="M714.5,220.1 L724.0,225.7 M715.4,217.5 L724.9,223.1 M716.0,214.8 L725.5,220.4 M716.4,212.2 L725.8,217.8 M716.4,209.5 L725.9,215.1 M716.2,207.0 L725.6,212.6 M715.6,204.5 L725.1,210.1 M714.8,202.2 L724.3,207.8 M713.7,200.2 L723.2,205.7 M712.4,198.3 L721.9,203.9 M710.9,196.7 L720.3,202.3 M709.1,195.4 L718.6,201.0 M707.2,194.5 L716.7,200.1 M705.2,193.8 L714.6,199.4 M703.0,193.6 L712.5,199.1 M700.8,193.6 L710.3,199.2 M698.6,194.0 L708.0,199.6 M696.3,194.8 L705.8,200.4 M694.2,195.8 L703.6,201.4 M692.1,197.2 L701.5,202.8 M690.1,198.9 L699.6,204.5 M688.3,200.8 L697.8,206.4 M686.7,203.0 L696.2,208.6 M685.3,205.3 L694.8,210.9 M684.1,207.8 L693.6,213.4 M683.2,210.4 L692.7,216.0 M682.6,213.1 L692.1,218.7 M682.3,215.7 L691.8,221.3 M682.2,218.4 L691.7,224.0 M682.5,220.9 L692.0,226.5 M683.0,223.4 L692.5,229.0 M683.8,225.7 L693.3,231.3 M684.9,227.7 L694.4,233.3 M686.3,229.6 L695.7,235.2 M687.8,231.2 L697.3,236.8 M689.6,232.5 L699.0,238.0 M691.5,233.4 L700.9,239.0 M693.5,234.1 L703.0,239.6 M695.7,234.3 L705.1,239.9 M697.9,234.3 L707.3,239.9 M700.1,233.9 L709.6,239.5 M702.3,233.1 L711.8,238.7 M704.5,232.1 L714.0,237.6 M706.6,230.7 L716.1,236.3 M708.6,229.0 L718.0,234.6 M710.4,227.1 L719.8,232.7 M712.0,224.9 L721.4,230.5 M713.4,222.6 L722.8,228.2 " fill="none" stroke="#1c1c1c" stroke-width="1.5" stroke-linejoin="round" /><path d="M722.9,225.2 L726.0,224.9 L726.4,223.4 L724.1,221.6 L724.3,220.4 L727.3,219.0 L727.5,217.6 L724.7,216.7 L724.7,215.4 L727.4,213.3 L727.2,211.9 L724.2,211.9 L723.9,210.8 L726.3,207.9 L725.8,206.7 L722.7,207.7 L722.2,206.7 L723.9,203.4 L723.1,202.4 L720.3,204.3 L719.5,203.6 L720.5,199.9 L719.5,199.3 L717.0,201.9 L716.1,201.5 L716.3,197.8 L715.2,197.5 L713.2,200.7 L712.2,200.6 L711.6,197.2 L710.4,197.3 L709.1,200.8 L708.1,201.0 L706.7,198.1 L705.5,198.5 L705.0,202.2 L704.0,202.7 L702.0,200.4 L700.9,201.2 L701.1,204.8 L700.2,205.6 L697.7,204.1 L696.7,205.2 L697.8,208.3 L697.1,209.4 L694.2,208.8 L693.4,210.1 L695.2,212.7 L694.7,213.8 L691.6,214.2 L691.2,215.7 L693.5,217.5 L693.3,218.7 L690.3,220.0 L690.1,221.5 L692.9,222.4 L692.9,223.6 L690.2,225.8 L690.4,227.2 L693.4,227.2 L693.7,228.3 L691.4,231.1 L691.8,232.4 L694.9,231.4 L695.4,232.3 L693.7,235.7 L694.5,236.7 L697.4,234.8 L698.1,235.5 L697.1,239.1 L698.1,239.8 L700.6,237.2 L701.5,237.6 L701.3,241.3 L702.4,241.6 L704.4,238.4 L705.4,238.5 L706.0,241.9 L707.2,241.8 L708.5,238.3 L709.5,238.0 L710.9,241.0 L712.1,240.5 L712.6,236.9 L713.6,236.4 L715.6,238.7 L716.8,237.9 L716.5,234.3 L717.4,233.5 L719.9,235.0 L720.9,233.9 L719.8,230.7 L720.5,229.7 L723.4,230.3 L724.2,229.0 L722.4,226.4Z" fill="#fff" stroke="#1c1c1c" stroke-width="1.4" stroke-linejoin="round" /><path d="M693.2,220.3 L693.3,218.8 L693.5,217.3 L693.8,215.8 L694.2,214.2 L694.7,212.8 L695.4,211.3 L696.1,209.9 L697.0,208.6 L697.9,207.4 L698.9,206.2 L700.0,205.2 L701.1,204.2 L702.4,203.4 L703.6,202.6 L704.9,202.0 L706.2,201.5 L707.6,201.1 L708.9,200.9 L710.3,200.8 L711.6,200.8 L713.0,201.0 L714.2,201.3 L715.5,201.7 L716.7,202.3 L724.4,206.9 L725.6,207.6 L726.6,208.3 L727.6,209.2 L728.5,210.3 L729.4,211.4 L730.1,212.6 L730.7,213.9 L731.2,215.2 L731.6,216.6 L731.9,218.1 L732.0,219.6 L732.1,221.1 L732.0,222.6 L731.8,224.2 L731.5,225.7 L731.0,227.2 L730.5,228.7 L729.9,230.1 L729.1,231.5 L728.3,232.8 L727.4,234.0 L726.4,235.2 L725.3,236.2 L724.1,237.2 L722.9,238.1 L721.6,238.8 L720.4,239.4 L719.0,239.9 L717.7,240.3 L716.3,240.5 L715.0,240.6 L713.6,240.6 L712.3,240.4 L711.0,240.1 L709.8,239.7 L708.6,239.1 L700.8,234.6 L699.7,233.9 L698.6,233.1 L697.6,232.2 L696.7,231.2 L695.9,230.1 L695.2,228.8 L694.6,227.6 L694.1,226.2 L693.7,224.8 L693.4,223.4 L693.2,221.9Z" fill="#fff" stroke="#1c1c1c" stroke-width="1.6" stroke-linejoin="round" /><ellipse cx="716.5" cy="223.0" rx="15.1" ry="18.0" transform="rotate(22 716.5 223.0)" fill="#fff" stroke="#1c1c1c" stroke-width="1.8" /><ellipse cx="716.9" cy="223.3" rx="9.9" ry="11.5" transform="rotate(22 716.9 223.3)" fill="#fff" stroke="#1c1c1c" stroke-width="1.8" /><circle cx="564.2" cy="501.5" r="2.9" fill="#fff" stroke="#1c1c1c" stroke-width="1.4"/><path d="M568.0,506.1 L568.1,505.5 L568.2,505.0 L568.4,504.5 L568.6,504.0 L569.0,503.6 L569.3,503.2 L569.7,502.9 L570.1,502.7 L570.6,502.6 L571.0,502.5 L571.4,502.6 L571.8,502.7 L600.3,518.7 L600.7,518.9 L601.0,519.2 L601.2,519.6 L601.4,520.0 L601.5,520.5 L601.5,521.0 L601.4,521.5 L601.3,522.0 L601.1,522.5 L600.9,523.0 L600.5,523.4 L600.2,523.8 L599.8,524.1 L599.4,524.3 L598.9,524.4 L598.5,524.5 L598.1,524.4 L597.7,524.3 L569.2,508.3 L568.8,508.1 L568.5,507.8 L568.3,507.4 L568.1,507.0 L568.0,506.6Z" fill="#fff" stroke="#1c1c1c" stroke-width="1.5" stroke-linejoin="round" /><ellipse cx="599.0" cy="521.5" rx="2.3" ry="3.1" transform="rotate(25 599.0 521.5)" fill="#fff" stroke="#1c1c1c" stroke-width="1.2" /><path d="M601.6,530.5 L601.7,529.6 L601.8,528.7 L601.9,527.7 L602.1,526.8 L602.4,525.8 L602.7,524.8 L603.1,523.9 L603.5,523.0 L604.0,522.1 L604.6,521.3 L605.1,520.5 L605.7,519.7 L606.4,519.0 L607.0,518.4 L607.7,517.8 L608.4,517.3 L609.1,516.9 L609.9,516.5 L610.6,516.2 L611.3,516.0 L612.0,515.9 L612.7,515.9 L613.4,516.0 L614.0,516.1 L614.6,516.3 L615.2,516.6 L623.8,521.7 L624.3,522.1 L624.8,522.5 L625.2,523.1 L625.6,523.7 L626.0,524.3 L626.2,525.0 L626.5,525.8 L626.6,526.6 L626.7,527.5 L626.8,528.4 L626.7,529.3 L626.6,530.3 L626.5,531.2 L626.3,532.2 L626.0,533.1 L625.7,534.1 L625.3,535.0 L624.9,535.9 L624.4,536.8 L623.8,537.7 L623.3,538.5 L622.6,539.2 L622.0,539.9 L621.4,540.5 L620.7,541.1 L620.0,541.6 L619.2,542.1 L618.5,542.4 L617.8,542.7 L617.1,542.9 L616.4,543.0 L615.7,543.0 L615.0,543.0 L614.4,542.8 L613.8,542.6 L613.2,542.3 L604.6,537.2 L604.1,536.8 L603.6,536.4 L603.1,535.9 L602.8,535.2 L602.4,534.6 L602.1,533.9 L601.9,533.1 L601.8,532.3 L601.7,531.4Z" fill="#fff" stroke="#1c1c1c" stroke-width="1.7" stroke-linejoin="round" /><polyline points="615.9,517.1 615.2,516.8 614.5,516.7 613.7,516.7 612.9,516.7 612.1,516.9 611.2,517.2 610.4,517.6 609.6,518.1 608.8,518.7 608.0,519.4 607.3,520.2 606.6,521.0 605.9,521.9 605.3,522.9 604.8,523.9 604.3,525.0 603.8,526.1 603.5,527.1 603.2,528.3 603.1,529.3 602.9,530.4 602.9,531.5 603.0,532.5 603.1,533.5 603.3,534.4 603.6,535.2 604.0,536.0 604.5,536.7 605.0,537.2 605.6,537.7 606.2,538.1" fill="none" stroke="#1c1c1c" stroke-width="1.1" stroke-linejoin="round"/><polyline points="617.2,517.8 616.5,517.6 615.7,517.5 615.0,517.4 614.2,517.5 613.4,517.7 612.5,518.0 611.7,518.4 610.9,518.9 610.1,519.5 609.3,520.2 608.6,520.9 607.9,521.8 607.2,522.7 606.6,523.7 606.0,524.7 605.6,525.7 605.1,526.8 604.8,527.9 604.5,529.0 604.3,530.1 604.2,531.2 604.2,532.2 604.3,533.3 604.4,534.2 604.6,535.1 604.9,536.0 605.3,536.7 605.8,537.4 606.3,538.0 606.8,538.5 607.5,538.9" fill="none" stroke="#1c1c1c" stroke-width="1.1" stroke-linejoin="round"/><polyline points="618.5,518.6 617.8,518.4 617.0,518.2 616.3,518.2 615.5,518.3 614.7,518.5 613.8,518.8 613.0,519.2 612.2,519.7 611.4,520.3 610.6,520.9 609.9,521.7 609.2,522.6 608.5,523.5 607.9,524.4 607.3,525.4 606.8,526.5 606.4,527.6 606.1,528.7 605.8,529.8 605.6,530.9 605.5,531.9 605.5,533.0 605.6,534.0 605.7,535.0 605.9,535.9 606.2,536.7 606.6,537.5 607.0,538.2 607.6,538.8 608.1,539.3 608.8,539.7" fill="none" stroke="#1c1c1c" stroke-width="1.1" stroke-linejoin="round"/><polyline points="619.8,519.4 619.1,519.1 618.3,519.0 617.6,519.0 616.8,519.0 615.9,519.2 615.1,519.5 614.3,519.9 613.5,520.4 612.7,521.0 611.9,521.7 611.2,522.5 610.4,523.3 609.8,524.2 609.2,525.2 608.6,526.2 608.1,527.3 607.7,528.3 607.4,529.4 607.1,530.5 606.9,531.6 606.8,532.7 606.8,533.8 606.9,534.8 607.0,535.7 607.2,536.7 607.5,537.5 607.9,538.3 608.3,538.9 608.9,539.5 609.4,540.0 610.1,540.4" fill="none" stroke="#1c1c1c" stroke-width="1.1" stroke-linejoin="round"/><polyline points="621.1,520.1 620.4,519.9 619.6,519.7 618.9,519.7 618.1,519.8 617.2,520.0 616.4,520.3 615.6,520.7 614.8,521.2 614.0,521.8 613.2,522.5 612.4,523.2 611.7,524.1 611.1,525.0 610.5,526.0 609.9,527.0 609.4,528.0 609.0,529.1 608.7,530.2 608.4,531.3 608.2,532.4 608.1,533.5 608.1,534.5 608.1,535.5 608.3,536.5 608.5,537.4 608.8,538.3 609.2,539.0 609.6,539.7 610.1,540.3 610.7,540.8 611.4,541.2" fill="none" stroke="#1c1c1c" stroke-width="1.1" stroke-linejoin="round"/><ellipse cx="618.5" cy="532.0" rx="7.4" ry="11.6" transform="rotate(24 618.5 532.0)" fill="#fff" stroke="#1c1c1c" stroke-width="1.6" /><ellipse cx="632.2" cy="541.2" rx="8.4" ry="11.6" transform="rotate(24 632.2 541.2)" fill="none" stroke="#1c1c1c" stroke-width="1.6" /><ellipse cx="632.2" cy="541.2" rx="6.6" ry="9.2" transform="rotate(24 632.2 541.2)" fill="none" stroke="#1c1c1c" stroke-width="1.2" /><ellipse cx="637.6" cy="544.3" rx="8.4" ry="11.6" transform="rotate(24 637.6 544.3)" fill="none" stroke="#1c1c1c" stroke-width="1.6" /><ellipse cx="637.6" cy="544.3" rx="6.6" ry="9.2" transform="rotate(24 637.6 544.3)" fill="none" stroke="#1c1c1c" stroke-width="1.2" /><ellipse cx="658.5" cy="555.7" rx="10.9" ry="15.2" transform="rotate(28 658.5 555.7)" fill="none" stroke="#1c1c1c" stroke-width="1.6" /><ellipse cx="658.5" cy="555.7" rx="9.2" ry="12.8" transform="rotate(28 658.5 555.7)" fill="none" stroke="#1c1c1c" stroke-width="1.2" /><path d="M672.8,503.5 L673.5,508.5 Q677.7,511.5 682.3,508.5 L682.6,503.5 Z" fill="#fff" stroke="#1c1c1c" stroke-width="1.4" stroke-linejoin="round" /><ellipse cx="677.7" cy="503" rx="4.9" ry="4.2" fill="#444" stroke="#1c1c1c" stroke-width="1.4"/><line x1="677.7" y1="507.0" x2="677.7" y2="510.5" stroke="#1c1c1c" stroke-width="1.0"/><path d="M679.8,522 L680.8,530.5 Q684.5,532.5 688,530 L688,522 Z" fill="#fff" stroke="#1c1c1c" stroke-width="1.3" stroke-linejoin="round" /><line x1="680.3" y1="524.0" x2="688.0" y2="522.8" stroke="#1c1c1c" stroke-width="0.9"/><line x1="680.3" y1="526.0" x2="688.0" y2="524.8" stroke="#1c1c1c" stroke-width="0.9"/><line x1="680.3" y1="528.0" x2="688.0" y2="526.8" stroke="#1c1c1c" stroke-width="0.9"/><line x1="680.3" y1="530.0" x2="688.0" y2="528.8" stroke="#1c1c1c" stroke-width="0.9"/><path d="M674.2,518 L674.8,523 Q681.5,527 688.5,523 L688.6,518 Z" fill="#fff" stroke="#1c1c1c" stroke-width="1.4" stroke-linejoin="round" /><ellipse cx="681.4" cy="518" rx="7.2" ry="4.6" transform="rotate(8 681.4 518)" fill="#fff" stroke="#1c1c1c" stroke-width="1.4"/><ellipse cx="681.4" cy="518" rx="3.8" ry="2.3" transform="rotate(8 681.4 518)" fill="#fff" stroke="#1c1c1c" stroke-width="1.2"/><ellipse cx="699.5" cy="555.5" rx="4.5" ry="5.3" transform="rotate(20 699.5 555.5)" fill="#fff" stroke="#1c1c1c" stroke-width="1.5" /><ellipse cx="676.0" cy="565.0" rx="4.5" ry="5.3" transform="rotate(20 676.0 565.0)" fill="#fff" stroke="#1c1c1c" stroke-width="1.5" /><ellipse cx="678.0" cy="592.0" rx="4.5" ry="5.3" transform="rotate(20 678.0 592.0)" fill="#fff" stroke="#1c1c1c" stroke-width="1.5" /><path d="M673.8,575.5 L673.8,573.9 L673.9,572.4 L674.2,570.8 L674.5,569.2 L675.0,567.7 L675.7,566.2 L676.4,564.7 L677.2,563.4 L678.1,562.1 L679.1,560.9 L680.1,559.8 L681.2,558.9 L682.4,558.1 L683.5,557.4 L684.7,556.9 L685.9,556.6 L687.1,556.4 L688.3,556.4 L689.5,556.5 L690.5,556.8 L691.6,557.3 L695.0,559.3 L696.0,559.9 L696.9,560.7 L697.7,561.6 L698.4,562.7 L699.0,563.8 L699.5,565.1 L699.8,566.4 L700.0,567.9 L700.2,569.4 L700.2,570.9 L700.0,572.5 L699.8,574.0 L699.4,575.6 L698.9,577.1 L698.3,578.6 L697.6,580.1 L696.8,581.5 L695.9,582.7 L694.9,583.9 L693.8,585.0 L692.7,585.9 L691.6,586.7 L690.4,587.4 L689.2,587.9 L688.0,588.2 L686.8,588.4 L685.6,588.4 L684.5,588.3 L683.4,588.0 L682.4,587.5 L678.9,585.5 L677.9,584.9 L677.0,584.1 L676.3,583.2 L675.6,582.1 L675.0,581.0 L674.5,579.7 L674.1,578.4 L673.9,577.0Z" fill="#fff" stroke="#1c1c1c" stroke-width="1.6" stroke-linejoin="round" /><ellipse cx="700.5" cy="556.1" rx="3.9" ry="4.6" transform="rotate(20 700.5 556.1)" fill="#fff" stroke="#1c1c1c" stroke-width="1.3" /><ellipse cx="700.8" cy="556.3" rx="1.7" ry="2.0" transform="rotate(20 700.8 556.3)" fill="#fff" stroke="#1c1c1c" stroke-width="1.0" /><ellipse cx="677.0" cy="565.6" rx="3.9" ry="4.6" transform="rotate(20 677.0 565.6)" fill="#fff" stroke="#1c1c1c" stroke-width="1.3" /><ellipse cx="677.3" cy="565.8" rx="1.7" ry="2.0" transform="rotate(20 677.3 565.8)" fill="#fff" stroke="#1c1c1c" stroke-width="1.0" /><ellipse cx="679.0" cy="592.6" rx="3.9" ry="4.6" transform="rotate(20 679.0 592.6)" fill="#fff" stroke="#1c1c1c" stroke-width="1.3" /><ellipse cx="679.3" cy="592.8" rx="1.7" ry="2.0" transform="rotate(20 679.3 592.8)" fill="#fff" stroke="#1c1c1c" stroke-width="1.0" /><path d="M678.4,577.8 L678.5,576.5 L678.6,575.3 L678.8,574.0 L679.1,572.7 L679.4,571.5 L679.8,570.2 L680.3,569.0 L680.9,567.8 L681.5,566.6 L682.1,565.5 L682.9,564.5 L683.6,563.5 L684.4,562.6 L685.2,561.8 L686.1,561.0 L687.0,560.4 L687.9,559.9 L688.8,559.4 L689.7,559.1 L690.5,558.9 L691.4,558.8 L692.3,558.8 L693.1,558.9 L693.9,559.1 L694.6,559.5 L703.2,564.5 L704.0,565.0 L704.6,565.5 L705.2,566.2 L705.8,566.9 L706.2,567.7 L706.6,568.6 L707.0,569.6 L707.2,570.7 L707.4,571.8 L707.5,573.0 L707.6,574.1 L707.5,575.4 L707.4,576.6 L707.2,577.9 L706.9,579.2 L706.6,580.5 L706.2,581.7 L705.7,583.0 L705.1,584.1 L704.5,585.3 L703.8,586.4 L703.1,587.5 L702.4,588.4 L701.6,589.3 L700.7,590.1 L699.9,590.9 L699.0,591.5 L698.1,592.0 L697.2,592.5 L696.3,592.8 L695.4,593.0 L694.6,593.1 L693.7,593.1 L692.9,593.0 L692.1,592.8 L691.4,592.5 L682.7,587.4 L682.0,586.9 L681.4,586.4 L680.8,585.7 L680.2,585.0 L679.8,584.2 L679.4,583.3 L679.0,582.3 L678.8,581.2 L678.6,580.1 L678.5,579.0Z" fill="#fff" stroke="#1c1c1c" stroke-width="1.6" stroke-linejoin="round" /><path d="M680,540 L684,563 Q690.5,567 696.5,562 L694.5,539.5 Z" fill="#fff" stroke="#1c1c1c" stroke-width="1.5" stroke-linejoin="round" /><ellipse cx="687.2" cy="539.5" rx="7.3" ry="4.6" transform="rotate(-5 687.2 539.5)" fill="#fff" stroke="#1c1c1c" stroke-width="1.5"/><ellipse cx="687.4" cy="539.6" rx="4.6" ry="2.6" transform="rotate(-5 687.4 539.6)" fill="#555" stroke="#1c1c1c" stroke-width="1"/><ellipse cx="697.3" cy="578.5" rx="9.4" ry="15.2" transform="rotate(20 697.3 578.5)" fill="#fff" stroke="#1c1c1c" stroke-width="1.7" /><path d="M685.4,597.1 L685.4,596.6 L685.6,596.0 L685.8,595.5 L686.1,595.0 L686.4,594.5 L686.8,594.1 L687.2,593.7 L687.7,593.5 L688.1,593.3 L688.6,593.2 L689.0,593.3 L689.4,593.4 L698.9,598.4 L699.3,598.6 L699.6,599.0 L699.9,599.4 L700.0,599.8 L700.1,600.3 L700.1,600.9 L700.1,601.4 L699.9,602.0 L699.7,602.5 L699.4,603.0 L699.1,603.5 L698.7,603.9 L698.3,604.3 L697.8,604.5 L697.4,604.7 L696.9,604.8 L696.5,604.7 L696.1,604.6 L686.6,599.6 L686.2,599.4 L685.9,599.0 L685.6,598.6 L685.5,598.2 L685.4,597.7Z" fill="#fff" stroke="#1c1c1c" stroke-width="1.4" stroke-linejoin="round" /><line x1="691.8" y1="594.8" x2="688.9" y2="601.0" stroke="#1c1c1c" stroke-width="1.1"/><line x1="694.1" y1="596.2" x2="691.2" y2="602.3" stroke="#1c1c1c" stroke-width="1.1"/><line x1="696.4" y1="597.5" x2="693.5" y2="603.7" stroke="#1c1c1c" stroke-width="1.1"/><path d="M693.4,603.3 L693.4,602.8 L693.4,602.3 L693.5,601.8 L693.6,601.2 L693.8,600.7 L694.0,600.2 L694.2,599.7 L694.4,599.2 L694.7,598.8 L695.0,598.3 L695.3,597.9 L695.6,597.5 L696.0,597.1 L696.4,596.8 L696.8,596.5 L697.1,596.3 L697.5,596.0 L698.0,595.9 L698.4,595.7 L698.8,595.6 L699.2,595.6 L699.5,595.6 L699.9,595.7 L700.3,595.8 L700.6,595.9 L700.9,596.1 L704.4,598.1 L704.7,598.3 L705.0,598.5 L705.3,598.8 L705.5,599.2 L705.7,599.5 L705.8,599.9 L706.0,600.3 L706.0,600.8 L706.1,601.2 L706.1,601.7 L706.1,602.2 L706.1,602.7 L706.0,603.2 L705.9,603.8 L705.7,604.3 L705.5,604.8 L705.3,605.3 L705.1,605.8 L704.8,606.2 L704.5,606.7 L704.2,607.1 L703.9,607.5 L703.5,607.9 L703.1,608.2 L702.7,608.5 L702.4,608.7 L702.0,609.0 L701.5,609.1 L701.1,609.3 L700.7,609.4 L700.3,609.4 L700.0,609.4 L699.6,609.3 L699.2,609.2 L698.9,609.1 L698.6,608.9 L695.1,606.9 L694.8,606.7 L694.5,606.5 L694.2,606.2 L694.0,605.8 L693.8,605.5 L693.7,605.1 L693.5,604.7 L693.5,604.2 L693.4,603.8Z" fill="#fff" stroke="#1c1c1c" stroke-width="1.4" stroke-linejoin="round" /><ellipse cx="701.5" cy="603.5" rx="4.2" ry="6.2" transform="rotate(25 701.5 603.5)" fill="#fff" stroke="#1c1c1c" stroke-width="1.4" /><line x1="54.2" y1="29.2" x2="47.8" y2="39.4" stroke="#1c1c1c" stroke-width="1.5"/><line x1="74.6" y1="42.0" x2="69.5" y2="49.6" stroke="#1c1c1c" stroke-width="1.5"/><line x1="97.5" y1="55.3" x2="93.0" y2="63.0" stroke="#1c1c1c" stroke-width="1.5"/><line x1="144.4" y1="44.7" x2="137.2" y2="56.4" stroke="#1c1c1c" stroke-width="1.5"/><line x1="199.9" y1="73.0" x2="197.7" y2="82.1" stroke="#1c1c1c" stroke-width="1.5"/><line x1="241.1" y1="94.3" x2="235.0" y2="103.5" stroke="#1c1c1c" stroke-width="1.5"/><line x1="282.4" y1="115.7" x2="271.7" y2="126.4" stroke="#1c1c1c" stroke-width="1.5"/><line x1="316.0" y1="132.5" x2="305.3" y2="143.2" stroke="#1c1c1c" stroke-width="1.5"/><line x1="352.7" y1="150.9" x2="339.0" y2="164.6" stroke="#1c1c1c" stroke-width="1.5"/><line x1="387.9" y1="170.8" x2="372.6" y2="184.5" stroke="#1c1c1c" stroke-width="1.5"/><line x1="147.2" y1="199.8" x2="166.7" y2="181.5" stroke="#1c1c1c" stroke-width="1.5"/><line x1="186.2" y1="221.6" x2="201.1" y2="203.2" stroke="#1c1c1c" stroke-width="1.5"/><line x1="162.1" y1="254.8" x2="173.6" y2="238.8" stroke="#1c1c1c" stroke-width="1.5"/><line x1="221.7" y1="237.6" x2="236.6" y2="219.3" stroke="#1c1c1c" stroke-width="1.5"/><line x1="257.3" y1="258.3" x2="272.2" y2="238.8" stroke="#1c1c1c" stroke-width="1.5"/><line x1="234.3" y1="292.7" x2="244.7" y2="276.6" stroke="#1c1c1c" stroke-width="1.5"/><line x1="295.1" y1="282.4" x2="307.7" y2="260.6" stroke="#1c1c1c" stroke-width="1.5"/><line x1="78.4" y1="220.9" x2="70.9" y2="235.0" stroke="#1c1c1c" stroke-width="1.5"/><line x1="99.4" y1="231.0" x2="85.2" y2="242.8" stroke="#1c1c1c" stroke-width="1.5"/><line x1="99.4" y1="231.0" x2="98.7" y2="250.8" stroke="#1c1c1c" stroke-width="1.5"/><line x1="131.3" y1="248.5" x2="120.1" y2="265.7" stroke="#1c1c1c" stroke-width="1.5"/><line x1="399.0" y1="222.6" x2="390.4" y2="246.9" stroke="#1c1c1c" stroke-width="1.5"/><line x1="427.2" y1="229.4" x2="409.8" y2="256.6" stroke="#1c1c1c" stroke-width="1.5"/><line x1="468.0" y1="232.3" x2="465.0" y2="246.9" stroke="#1c1c1c" stroke-width="1.5"/><line x1="497.7" y1="279.5" x2="486.5" y2="299.0" stroke="#1c1c1c" stroke-width="1.5"/><line x1="555.6" y1="278.7" x2="554.4" y2="289.4" stroke="#1c1c1c" stroke-width="1.5"/><line x1="596.4" y1="297.8" x2="599.4" y2="308.3" stroke="#1c1c1c" stroke-width="1.5"/><line x1="624.8" y1="309.8" x2="633.8" y2="317.2" stroke="#1c1c1c" stroke-width="1.5"/><line x1="635.3" y1="272.4" x2="624.2" y2="279.9" stroke="#1c1c1c" stroke-width="1.5"/><line x1="651.7" y1="356.0" x2="641.2" y2="365.0" stroke="#1c1c1c" stroke-width="1.5"/><line x1="656.2" y1="383.0" x2="657.0" y2="399.4" stroke="#1c1c1c" stroke-width="1.5"/><line x1="686.0" y1="395.0" x2="678.6" y2="417.3" stroke="#1c1c1c" stroke-width="1.5"/><line x1="708.5" y1="406.9" x2="698.0" y2="421.8" stroke="#1c1c1c" stroke-width="1.5"/><line x1="659.6" y1="258.6" x2="689.3" y2="239.0" stroke="#1c1c1c" stroke-width="1.5"/><line x1="584.0" y1="484.3" x2="566.5" y2="498.8" stroke="#1c1c1c" stroke-width="1.5"/><line x1="609.2" y1="499.8" x2="592.7" y2="513.4" stroke="#1c1c1c" stroke-width="1.5"/><line x1="605.0" y1="555.5" x2="624.2" y2="551.3" stroke="#1c1c1c" stroke-width="1.5"/><line x1="623.7" y1="564.8" x2="630.5" y2="555.0" stroke="#1c1c1c" stroke-width="1.5"/><line x1="656.7" y1="526.0" x2="658.7" y2="541.5" stroke="#1c1c1c" stroke-width="1.5"/><line x1="577.4" y1="573.9" x2="586.6" y2="571.1" stroke="#1c1c1c" stroke-width="1.5"/><line x1="559.7" y1="599.4" x2="568.9" y2="595.9" stroke="#1c1c1c" stroke-width="1.5"/><line x1="634.8" y1="607.0" x2="674.0" y2="593.8" stroke="#1c1c1c" stroke-width="1.5"/><line x1="720.0" y1="598.0" x2="705.3" y2="601.0" stroke="#1c1c1c" stroke-width="1.5"/><line x1="684.4" y1="507.1" x2="705.3" y2="506.7" stroke="#1c1c1c" stroke-width="1.5"/><line x1="684.4" y1="507.1" x2="702.2" y2="523.8" stroke="#1c1c1c" stroke-width="1.5"/><line x1="686.5" y1="524.9" x2="705.3" y2="524.3" stroke="#1c1c1c" stroke-width="1.5"/><polyline points="554.8,288.9 595.0,265.5 716.0,335.2 659.2,397.9" fill="none" stroke="#1c1c1c" stroke-width="1.5" stroke-linejoin="round"/><polyline points="602.2,539.2 553.3,551.3 613.6,586.0 623.5,584.6" fill="none" stroke="#1c1c1c" stroke-width="1.5" stroke-linejoin="round"/><polyline points="542.0,570.4 531.4,573.9 612.9,620.0 622.8,618.6" fill="none" stroke="#1c1c1c" stroke-width="1.5" stroke-linejoin="round"/><g font-family="Liberation Sans, sans-serif" font-size="15.4" fill="#1c1c1c" stroke="#1c1c1c" stroke-width="0.45"><path d="M52.7,24.2 V13.3 L50.1,15.7" fill="none" stroke="#1c1c1c" stroke-width="1.5"/><text x="0" y="0" transform="translate(53.7 24.2) scale(0.97 1)">7</text><path d="M74.4,36.9 V26.0 L71.8,28.4" fill="none" stroke="#1c1c1c" stroke-width="1.5"/><text x="0" y="0" transform="translate(75.2 36.9) scale(0.97 1)">6</text><path d="M98.0,50.3 V39.4 L95.4,41.8" fill="none" stroke="#1c1c1c" stroke-width="1.5"/><text x="0" y="0" transform="translate(98.8 50.3) scale(0.96 1)">5</text><path d="M143.8,40.0 V29.1 L141.2,31.5" fill="none" stroke="#1c1c1c" stroke-width="1.5"/><text x="0" y="0" transform="translate(146.0 40.0) scale(0.78 1)">4</text><text x="0" y="0" transform="translate(194.6 70.6) scale(0.96 1)">3</text><path d="M206.8,70.6 V59.7 L204.2,62.1" fill="none" stroke="#1c1c1c" stroke-width="1.5"/><path d="M242.6,93.5 V82.6 L240.0,85.0" fill="none" stroke="#1c1c1c" stroke-width="1.5"/><text x="0" y="0" transform="translate(245.8 93.5) scale(0.96 1)">3</text><path d="M284.0,113.4 V102.5 L281.4,104.9" fill="none" stroke="#1c1c1c" stroke-width="1.5"/><text x="0" y="0" transform="translate(287.0 113.4) scale(0.96 1)">3</text><path d="M317.5,131.7 V120.8 L314.9,123.2" fill="none" stroke="#1c1c1c" stroke-width="1.5"/><text x="0" y="0" transform="translate(320.7 131.7) scale(0.96 1)">3</text><path d="M354.2,148.5 V137.6 L351.6,140.0" fill="none" stroke="#1c1c1c" stroke-width="1.5"/><text x="0" y="0" transform="translate(355.8 148.5) scale(0.96 1)">3</text><text x="0" y="0" transform="translate(393.3 168.4) scale(0.96 1)">3</text><path d="M405.5,168.4 V157.5 L402.9,159.9" fill="none" stroke="#1c1c1c" stroke-width="1.5"/><path d="M143.4,213.4 V202.5 L140.8,204.9" fill="none" stroke="#1c1c1c" stroke-width="1.5"/><text x="0" y="0" transform="translate(144.2 213.4) scale(0.97 1)">2</text><path d="M177.7,237.2 V226.3 L175.1,228.7" fill="none" stroke="#1c1c1c" stroke-width="1.5"/><text x="0" y="0" transform="translate(179.8 237.2) scale(0.97 1)">2</text><text x="0" y="0" transform="translate(148.4 270.3) scale(0.96 1)">3</text><text x="0" y="0" transform="translate(156.7 270.3) scale(0.96 1)">5</text><path d="M213.3,253.2 V242.3 L210.7,244.7" fill="none" stroke="#1c1c1c" stroke-width="1.5"/><text x="0" y="0" transform="translate(215.4 253.2) scale(0.97 1)">2</text><path d="M248.8,273.9 V263.0 L246.2,265.4" fill="none" stroke="#1c1c1c" stroke-width="1.5"/><text x="0" y="0" transform="translate(250.9 273.9) scale(0.97 1)">2</text><text x="0" y="0" transform="translate(221.0 308.3) scale(0.96 1)">3</text><text x="0" y="0" transform="translate(230.2 308.3) scale(0.96 1)">5</text><path d="M288.9,298.0 V287.1 L286.3,289.5" fill="none" stroke="#1c1c1c" stroke-width="1.5"/><text x="0" y="0" transform="translate(291.0 298.0) scale(0.97 1)">2</text><text x="0" y="0" transform="translate(73.9 216.4) scale(0.96 1)">3</text><text x="0" y="0" transform="translate(82.1 216.4) scale(0.97 1)">2</text><path d="M98.5,224.7 V213.8 L95.9,216.2" fill="none" stroke="#1c1c1c" stroke-width="1.5"/><text x="0" y="0" transform="translate(99.8 224.7) scale(0.97 1)">8</text><path d="M131.4,244.0 V233.1 L128.8,235.5" fill="none" stroke="#1c1c1c" stroke-width="1.5"/><text x="0" y="0" transform="translate(132.6 244.0) scale(0.97 1)">9</text><text x="0" y="0" transform="translate(394.7 219.9) scale(0.96 1)">3</text><text x="0" y="0" transform="translate(403.2 219.9) scale(0.96 1)">3</text><text x="0" y="0" transform="translate(425.3 227.2) scale(0.96 1)">3</text><text x="0" y="0" transform="translate(433.6 227.2) scale(0.78 1)">4</text><path d="M466.2,228.2 V217.3 L463.6,219.7" fill="none" stroke="#1c1c1c" stroke-width="1.5"/><path d="M470.3,228.2 V217.3 L467.7,219.7" fill="none" stroke="#1c1c1c" stroke-width="1.5"/><path d="M495.0,276.0 V265.1 L492.4,267.5" fill="none" stroke="#1c1c1c" stroke-width="1.5"/><text x="0" y="0" transform="translate(497.0 276.0) scale(0.97 1)">0</text><text x="0" y="0" transform="translate(548.9 273.4) scale(0.97 1)">9</text><text x="0" y="0" transform="translate(587.0 294.0) scale(0.97 1)">8</text><text x="0" y="0" transform="translate(617.0 307.5) scale(0.97 1)">7</text><path d="M647.3,272.2 V261.3 L644.7,263.7" fill="none" stroke="#1c1c1c" stroke-width="1.5"/><text x="0" y="0" transform="translate(651.6 356.7) scale(0.97 1)">6</text><text x="0" y="0" transform="translate(650.0 379.2) scale(0.96 1)">5</text><text x="0" y="0" transform="translate(682.7 391.1) scale(0.78 1)">4</text><text x="0" y="0" transform="translate(705.1 404.6) scale(0.96 1)">3</text><text x="0" y="0" transform="translate(578.3 480.2) scale(0.97 1)">2</text><text x="0" y="0" transform="translate(587.9 480.2) scale(0.97 1)">0</text><text x="0" y="0" transform="translate(603.3 494.7) scale(0.97 1)">2</text><path d="M615.9,494.7 V483.8 L613.3,486.2" fill="none" stroke="#1c1c1c" stroke-width="1.5"/><text x="0" y="0" transform="translate(644.3 524.7) scale(0.97 1)">2</text><text x="0" y="0" transform="translate(654.1 524.7) scale(0.97 1)">2</text><text x="0" y="0" transform="translate(705.7 513.1) scale(0.97 1)">2</text><text x="0" y="0" transform="translate(715.4 513.1) scale(0.96 1)">3</text><text x="0" y="0" transform="translate(705.7 531.7) scale(0.97 1)">2</text><text x="0" y="0" transform="translate(716.6 531.7) scale(0.78 1)">4</text><text x="0" y="0" transform="translate(721.3 603.9) scale(0.97 1)">2</text><text x="0" y="0" transform="translate(729.0 603.9) scale(0.96 1)">5</text><text x="0" y="0" transform="translate(612.1 614.4) scale(0.97 1)">2</text><text x="0" y="0" transform="translate(622.0 614.4) scale(0.97 1)">6</text><text x="0" y="0" transform="translate(611.3 579.1) scale(0.97 1)">2</text><text x="0" y="0" transform="translate(621.1 579.1) scale(0.97 1)">7</text><text x="0" y="0" transform="translate(580.3 561.2) scale(0.97 1)">2</text><text x="0" y="0" transform="translate(590.3 561.2) scale(0.97 1)">8</text><text x="0" y="0" transform="translate(551.9 578.2) scale(0.97 1)">2</text><text x="0" y="0" transform="translate(561.2 578.2) scale(0.97 1)">9</text><text x="0" y="0" transform="translate(534.9 603.0) scale(0.96 1)">3</text><text x="0" y="0" transform="translate(543.5 603.0) scale(0.97 1)">0</text></g>
</svg></body></html>
